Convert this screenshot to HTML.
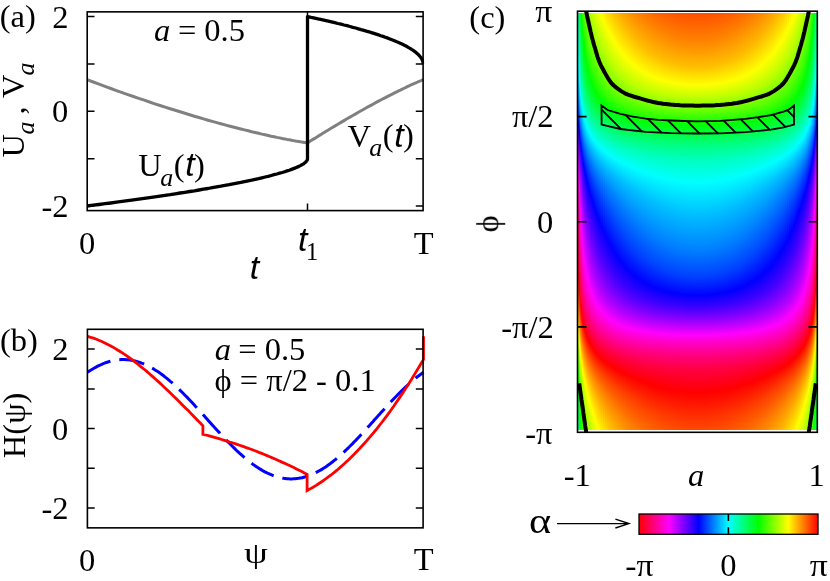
<!DOCTYPE html><html><head><meta charset="utf-8"><style>html,body{margin:0;padding:0;background:#fff}svg{font-family:"Liberation Serif",serif}</style></head><body><svg width="830" height="581" viewBox="0 0 830 581" style="display:block"><rect width="830" height="581" fill="#fff"/><defs><linearGradient id="g0" x1="0" y1="0" x2="0" y2="1"><stop offset="0.0000" stop-color="#00ff82"/><stop offset="0.0662" stop-color="#00ffbf"/><stop offset="0.1273" stop-color="#00ffff"/><stop offset="0.1750" stop-color="#00bfff"/><stop offset="0.2117" stop-color="#0080ff"/><stop offset="0.2418" stop-color="#0040ff"/><stop offset="0.2683" stop-color="#0000ff"/><stop offset="0.2938" stop-color="#4000ff"/><stop offset="0.3207" stop-color="#8000ff"/><stop offset="0.3514" stop-color="#bf00ff"/><stop offset="0.3895" stop-color="#ff00ff"/><stop offset="0.4390" stop-color="#ff00bf"/><stop offset="0.5018" stop-color="#ff0080"/><stop offset="0.5704" stop-color="#ff0040"/><stop offset="0.6315" stop-color="#ff0000"/><stop offset="0.6791" stop-color="#ff4000"/><stop offset="0.7159" stop-color="#ff8000"/><stop offset="0.7460" stop-color="#ffbf00"/><stop offset="0.7725" stop-color="#ffff00"/><stop offset="0.7980" stop-color="#bfff00"/><stop offset="0.8249" stop-color="#80ff00"/><stop offset="0.8556" stop-color="#40ff00"/><stop offset="0.8937" stop-color="#00ff00"/><stop offset="0.9432" stop-color="#00ff40"/><stop offset="1.0000" stop-color="#00ff7a"/></linearGradient><linearGradient id="g1" x1="0" y1="0" x2="0" y2="1"><stop offset="0.0000" stop-color="#00ff54"/><stop offset="0.0460" stop-color="#00ff80"/><stop offset="0.1095" stop-color="#00ffbf"/><stop offset="0.1612" stop-color="#00ffff"/><stop offset="0.2014" stop-color="#00bfff"/><stop offset="0.2337" stop-color="#0080ff"/><stop offset="0.2616" stop-color="#0040ff"/><stop offset="0.2878" stop-color="#0000ff"/><stop offset="0.3146" stop-color="#4000ff"/><stop offset="0.3443" stop-color="#8000ff"/><stop offset="0.3800" stop-color="#bf00ff"/><stop offset="0.4254" stop-color="#ff00ff"/><stop offset="0.4834" stop-color="#ff00bf"/><stop offset="0.5501" stop-color="#ff0080"/><stop offset="0.6137" stop-color="#ff0040"/><stop offset="0.6654" stop-color="#ff0000"/><stop offset="0.7056" stop-color="#ff4000"/><stop offset="0.7379" stop-color="#ff8000"/><stop offset="0.7658" stop-color="#ffbf00"/><stop offset="0.7920" stop-color="#ffff00"/><stop offset="0.8188" stop-color="#bfff00"/><stop offset="0.8485" stop-color="#80ff00"/><stop offset="0.8842" stop-color="#40ff00"/><stop offset="0.9296" stop-color="#00ff00"/><stop offset="0.9876" stop-color="#00ff40"/><stop offset="1.0000" stop-color="#00ff4c"/></linearGradient><linearGradient id="g2" x1="0" y1="0" x2="0" y2="1"><stop offset="0.0000" stop-color="#00ff1c"/><stop offset="0.0372" stop-color="#00ff40"/><stop offset="0.1007" stop-color="#00ff80"/><stop offset="0.1541" stop-color="#00ffbf"/><stop offset="0.1961" stop-color="#00ffff"/><stop offset="0.2300" stop-color="#00bfff"/><stop offset="0.2591" stop-color="#0080ff"/><stop offset="0.2861" stop-color="#0040ff"/><stop offset="0.3132" stop-color="#0000ff"/><stop offset="0.3429" stop-color="#4000ff"/><stop offset="0.3779" stop-color="#8000ff"/><stop offset="0.4216" stop-color="#bf00ff"/><stop offset="0.4769" stop-color="#ff00ff"/><stop offset="0.5414" stop-color="#ff00bf"/><stop offset="0.6049" stop-color="#ff0080"/><stop offset="0.6583" stop-color="#ff0040"/><stop offset="0.7003" stop-color="#ff0000"/><stop offset="0.7342" stop-color="#ff4000"/><stop offset="0.7633" stop-color="#ff8000"/><stop offset="0.7903" stop-color="#ffbf00"/><stop offset="0.8174" stop-color="#ffff00"/><stop offset="0.8471" stop-color="#bfff00"/><stop offset="0.8821" stop-color="#80ff00"/><stop offset="0.9258" stop-color="#40ff00"/><stop offset="0.9811" stop-color="#00ff00"/><stop offset="1.0000" stop-color="#00ff13"/></linearGradient><linearGradient id="g3" x1="0" y1="0" x2="0" y2="1"><stop offset="0.0000" stop-color="#0cff00"/><stop offset="0.0125" stop-color="#00ff00"/><stop offset="0.0769" stop-color="#00ff40"/><stop offset="0.1344" stop-color="#00ff80"/><stop offset="0.1807" stop-color="#00ffbf"/><stop offset="0.2177" stop-color="#00ffff"/><stop offset="0.2488" stop-color="#00bfff"/><stop offset="0.2767" stop-color="#0080ff"/><stop offset="0.3039" stop-color="#0040ff"/><stop offset="0.3327" stop-color="#0000ff"/><stop offset="0.3655" stop-color="#4000ff"/><stop offset="0.4055" stop-color="#8000ff"/><stop offset="0.4558" stop-color="#bf00ff"/><stop offset="0.5167" stop-color="#ff00ff"/><stop offset="0.5811" stop-color="#ff00bf"/><stop offset="0.6386" stop-color="#ff0080"/><stop offset="0.6849" stop-color="#ff0040"/><stop offset="0.7219" stop-color="#ff0000"/><stop offset="0.7529" stop-color="#ff4000"/><stop offset="0.7809" stop-color="#ff8000"/><stop offset="0.8081" stop-color="#ffbf00"/><stop offset="0.8369" stop-color="#ffff00"/><stop offset="0.8697" stop-color="#bfff00"/><stop offset="0.9097" stop-color="#80ff00"/><stop offset="0.9600" stop-color="#40ff00"/><stop offset="1.0000" stop-color="#15ff00"/></linearGradient><linearGradient id="g4" x1="0" y1="0" x2="0" y2="1"><stop offset="0.0000" stop-color="#2cff00"/><stop offset="0.0437" stop-color="#00ff00"/><stop offset="0.1055" stop-color="#00ff40"/><stop offset="0.1576" stop-color="#00ff80"/><stop offset="0.1992" stop-color="#00ffbf"/><stop offset="0.2332" stop-color="#00ffff"/><stop offset="0.2627" stop-color="#00bfff"/><stop offset="0.2903" stop-color="#0080ff"/><stop offset="0.3183" stop-color="#0040ff"/><stop offset="0.3488" stop-color="#0000ff"/><stop offset="0.3848" stop-color="#4000ff"/><stop offset="0.4293" stop-color="#8000ff"/><stop offset="0.4846" stop-color="#bf00ff"/><stop offset="0.5479" stop-color="#ff00ff"/><stop offset="0.6096" stop-color="#ff00bf"/><stop offset="0.6618" stop-color="#ff0080"/><stop offset="0.7034" stop-color="#ff0040"/><stop offset="0.7374" stop-color="#ff0000"/><stop offset="0.7669" stop-color="#ff4000"/><stop offset="0.7945" stop-color="#ff8000"/><stop offset="0.8225" stop-color="#ffbf00"/><stop offset="0.8530" stop-color="#ffff00"/><stop offset="0.8890" stop-color="#bfff00"/><stop offset="0.9335" stop-color="#80ff00"/><stop offset="0.9888" stop-color="#40ff00"/><stop offset="1.0000" stop-color="#34ff00"/></linearGradient><linearGradient id="g5" x1="0" y1="0" x2="0" y2="1"><stop offset="0.0000" stop-color="#45ff00"/><stop offset="0.0051" stop-color="#40ff00"/><stop offset="0.0687" stop-color="#00ff00"/><stop offset="0.1270" stop-color="#00ff40"/><stop offset="0.1748" stop-color="#00ff80"/><stop offset="0.2132" stop-color="#00ffbf"/><stop offset="0.2453" stop-color="#00ffff"/><stop offset="0.2739" stop-color="#00bfff"/><stop offset="0.3016" stop-color="#0080ff"/><stop offset="0.3304" stop-color="#0040ff"/><stop offset="0.3629" stop-color="#0000ff"/><stop offset="0.4018" stop-color="#4000ff"/><stop offset="0.4504" stop-color="#8000ff"/><stop offset="0.5093" stop-color="#bf00ff"/><stop offset="0.5729" stop-color="#ff00ff"/><stop offset="0.6312" stop-color="#ff00bf"/><stop offset="0.6790" stop-color="#ff0080"/><stop offset="0.7174" stop-color="#ff0040"/><stop offset="0.7495" stop-color="#ff0000"/><stop offset="0.7781" stop-color="#ff4000"/><stop offset="0.8058" stop-color="#ff8000"/><stop offset="0.8346" stop-color="#ffbf00"/><stop offset="0.8671" stop-color="#ffff00"/><stop offset="0.9060" stop-color="#bfff00"/><stop offset="0.9546" stop-color="#80ff00"/><stop offset="1.0000" stop-color="#4eff00"/></linearGradient><linearGradient id="g6" x1="0" y1="0" x2="0" y2="1"><stop offset="0.0000" stop-color="#5aff00"/><stop offset="0.0264" stop-color="#40ff00"/><stop offset="0.0890" stop-color="#00ff00"/><stop offset="0.1439" stop-color="#00ff40"/><stop offset="0.1883" stop-color="#00ff80"/><stop offset="0.2243" stop-color="#00ffbf"/><stop offset="0.2551" stop-color="#00ffff"/><stop offset="0.2833" stop-color="#00bfff"/><stop offset="0.3112" stop-color="#0080ff"/><stop offset="0.3411" stop-color="#0040ff"/><stop offset="0.3754" stop-color="#0000ff"/><stop offset="0.4173" stop-color="#4000ff"/><stop offset="0.4694" stop-color="#8000ff"/><stop offset="0.5306" stop-color="#bf00ff"/><stop offset="0.5932" stop-color="#ff00ff"/><stop offset="0.6481" stop-color="#ff00bf"/><stop offset="0.6925" stop-color="#ff0080"/><stop offset="0.7285" stop-color="#ff0040"/><stop offset="0.7593" stop-color="#ff0000"/><stop offset="0.7875" stop-color="#ff4000"/><stop offset="0.8154" stop-color="#ff8000"/><stop offset="0.8453" stop-color="#ffbf00"/><stop offset="0.8796" stop-color="#ffff00"/><stop offset="0.9215" stop-color="#bfff00"/><stop offset="0.9736" stop-color="#80ff00"/><stop offset="1.0000" stop-color="#63ff00"/></linearGradient><linearGradient id="g7" x1="0" y1="0" x2="0" y2="1"><stop offset="0.0000" stop-color="#6dff00"/><stop offset="0.0449" stop-color="#40ff00"/><stop offset="0.1058" stop-color="#00ff00"/><stop offset="0.1576" stop-color="#00ff40"/><stop offset="0.1992" stop-color="#00ff80"/><stop offset="0.2335" stop-color="#00ffbf"/><stop offset="0.2634" stop-color="#00ffff"/><stop offset="0.2913" stop-color="#00bfff"/><stop offset="0.3197" stop-color="#0080ff"/><stop offset="0.3506" stop-color="#0040ff"/><stop offset="0.3869" stop-color="#0000ff"/><stop offset="0.4316" stop-color="#4000ff"/><stop offset="0.4866" stop-color="#8000ff"/><stop offset="0.5491" stop-color="#bf00ff"/><stop offset="0.6100" stop-color="#ff00ff"/><stop offset="0.6618" stop-color="#ff00bf"/><stop offset="0.7034" stop-color="#ff0080"/><stop offset="0.7377" stop-color="#ff0040"/><stop offset="0.7676" stop-color="#ff0000"/><stop offset="0.7955" stop-color="#ff4000"/><stop offset="0.8239" stop-color="#ff8000"/><stop offset="0.8548" stop-color="#ffbf00"/><stop offset="0.8911" stop-color="#ffff00"/><stop offset="0.9358" stop-color="#bfff00"/><stop offset="0.9908" stop-color="#80ff00"/><stop offset="1.0000" stop-color="#76ff00"/></linearGradient><linearGradient id="g8" x1="0" y1="0" x2="0" y2="1"><stop offset="0.0000" stop-color="#7eff00"/><stop offset="0.0611" stop-color="#40ff00"/><stop offset="0.1200" stop-color="#00ff00"/><stop offset="0.1690" stop-color="#00ff40"/><stop offset="0.2084" stop-color="#00ff80"/><stop offset="0.2413" stop-color="#00ffbf"/><stop offset="0.2705" stop-color="#00ffff"/><stop offset="0.2984" stop-color="#00bfff"/><stop offset="0.3272" stop-color="#0080ff"/><stop offset="0.3593" stop-color="#0040ff"/><stop offset="0.3975" stop-color="#0000ff"/><stop offset="0.4448" stop-color="#4000ff"/><stop offset="0.5023" stop-color="#8000ff"/><stop offset="0.5653" stop-color="#bf00ff"/><stop offset="0.6242" stop-color="#ff00ff"/><stop offset="0.6732" stop-color="#ff00bf"/><stop offset="0.7126" stop-color="#ff0080"/><stop offset="0.7455" stop-color="#ff0040"/><stop offset="0.7747" stop-color="#ff0000"/><stop offset="0.8026" stop-color="#ff4000"/><stop offset="0.8314" stop-color="#ff8000"/><stop offset="0.8635" stop-color="#ffbf00"/><stop offset="0.9017" stop-color="#ffff00"/><stop offset="0.9490" stop-color="#bfff00"/><stop offset="1.0000" stop-color="#86ff00"/></linearGradient><linearGradient id="g9" x1="0" y1="0" x2="0" y2="1"><stop offset="0.0000" stop-color="#8cff00"/><stop offset="0.0125" stop-color="#80ff00"/><stop offset="0.0753" stop-color="#40ff00"/><stop offset="0.1321" stop-color="#00ff00"/><stop offset="0.1786" stop-color="#00ff40"/><stop offset="0.2163" stop-color="#00ff80"/><stop offset="0.2481" stop-color="#00ffbf"/><stop offset="0.2768" stop-color="#00ffff"/><stop offset="0.3047" stop-color="#00bfff"/><stop offset="0.3341" stop-color="#0080ff"/><stop offset="0.3674" stop-color="#0040ff"/><stop offset="0.4075" stop-color="#0000ff"/><stop offset="0.4572" stop-color="#4000ff"/><stop offset="0.5166" stop-color="#8000ff"/><stop offset="0.5795" stop-color="#bf00ff"/><stop offset="0.6363" stop-color="#ff00ff"/><stop offset="0.6828" stop-color="#ff00bf"/><stop offset="0.7205" stop-color="#ff0080"/><stop offset="0.7523" stop-color="#ff0040"/><stop offset="0.7810" stop-color="#ff0000"/><stop offset="0.8089" stop-color="#ff4000"/><stop offset="0.8383" stop-color="#ff8000"/><stop offset="0.8716" stop-color="#ffbf00"/><stop offset="0.9117" stop-color="#ffff00"/><stop offset="0.9614" stop-color="#bfff00"/><stop offset="1.0000" stop-color="#95ff00"/></linearGradient><linearGradient id="g10" x1="0" y1="0" x2="0" y2="1"><stop offset="0.0000" stop-color="#9aff00"/><stop offset="0.0256" stop-color="#80ff00"/><stop offset="0.0879" stop-color="#40ff00"/><stop offset="0.1426" stop-color="#00ff00"/><stop offset="0.1870" stop-color="#00ff40"/><stop offset="0.2231" stop-color="#00ff80"/><stop offset="0.2540" stop-color="#00ffbf"/><stop offset="0.2823" stop-color="#00ffff"/><stop offset="0.3104" stop-color="#00bfff"/><stop offset="0.3404" stop-color="#0080ff"/><stop offset="0.3749" stop-color="#0040ff"/><stop offset="0.4169" stop-color="#0000ff"/><stop offset="0.4689" stop-color="#4000ff"/><stop offset="0.5298" stop-color="#8000ff"/><stop offset="0.5921" stop-color="#bf00ff"/><stop offset="0.6468" stop-color="#ff00ff"/><stop offset="0.6912" stop-color="#ff00bf"/><stop offset="0.7273" stop-color="#ff0080"/><stop offset="0.7582" stop-color="#ff0040"/><stop offset="0.7865" stop-color="#ff0000"/><stop offset="0.8146" stop-color="#ff4000"/><stop offset="0.8446" stop-color="#ff8000"/><stop offset="0.8791" stop-color="#ffbf00"/><stop offset="0.9211" stop-color="#ffff00"/><stop offset="0.9731" stop-color="#bfff00"/><stop offset="1.0000" stop-color="#a2ff00"/></linearGradient><linearGradient id="g11" x1="0" y1="0" x2="0" y2="1"><stop offset="0.0000" stop-color="#a6ff00"/><stop offset="0.0377" stop-color="#80ff00"/><stop offset="0.0991" stop-color="#40ff00"/><stop offset="0.1517" stop-color="#00ff00"/><stop offset="0.1942" stop-color="#00ff40"/><stop offset="0.2291" stop-color="#00ff80"/><stop offset="0.2593" stop-color="#00ffbf"/><stop offset="0.2874" stop-color="#00ffff"/><stop offset="0.3156" stop-color="#00bfff"/><stop offset="0.3463" stop-color="#0080ff"/><stop offset="0.3820" stop-color="#0040ff"/><stop offset="0.4258" stop-color="#0000ff"/><stop offset="0.4799" stop-color="#4000ff"/><stop offset="0.5419" stop-color="#8000ff"/><stop offset="0.6033" stop-color="#bf00ff"/><stop offset="0.6559" stop-color="#ff00ff"/><stop offset="0.6984" stop-color="#ff00bf"/><stop offset="0.7333" stop-color="#ff0080"/><stop offset="0.7635" stop-color="#ff0040"/><stop offset="0.7916" stop-color="#ff0000"/><stop offset="0.8198" stop-color="#ff4000"/><stop offset="0.8505" stop-color="#ff8000"/><stop offset="0.8862" stop-color="#ffbf00"/><stop offset="0.9300" stop-color="#ffff00"/><stop offset="0.9841" stop-color="#bfff00"/><stop offset="1.0000" stop-color="#aeff00"/></linearGradient><linearGradient id="g12" x1="0" y1="0" x2="0" y2="1"><stop offset="0.0000" stop-color="#b1ff00"/><stop offset="0.0489" stop-color="#80ff00"/><stop offset="0.1091" stop-color="#40ff00"/><stop offset="0.1598" stop-color="#00ff00"/><stop offset="0.2007" stop-color="#00ff40"/><stop offset="0.2344" stop-color="#00ff80"/><stop offset="0.2640" stop-color="#00ffbf"/><stop offset="0.2919" stop-color="#00ffff"/><stop offset="0.3204" stop-color="#00bfff"/><stop offset="0.3518" stop-color="#0080ff"/><stop offset="0.3887" stop-color="#0040ff"/><stop offset="0.4343" stop-color="#0000ff"/><stop offset="0.4903" stop-color="#4000ff"/><stop offset="0.5531" stop-color="#8000ff"/><stop offset="0.6133" stop-color="#bf00ff"/><stop offset="0.6640" stop-color="#ff00ff"/><stop offset="0.7049" stop-color="#ff00bf"/><stop offset="0.7386" stop-color="#ff0080"/><stop offset="0.7682" stop-color="#ff0040"/><stop offset="0.7961" stop-color="#ff0000"/><stop offset="0.8246" stop-color="#ff4000"/><stop offset="0.8560" stop-color="#ff8000"/><stop offset="0.8929" stop-color="#ffbf00"/><stop offset="0.9385" stop-color="#ffff00"/><stop offset="0.9945" stop-color="#bfff00"/><stop offset="1.0000" stop-color="#b9ff00"/></linearGradient><linearGradient id="g13" x1="0" y1="0" x2="0" y2="1"><stop offset="0.0000" stop-color="#bbff00"/><stop offset="0.0591" stop-color="#80ff00"/><stop offset="0.1181" stop-color="#40ff00"/><stop offset="0.1670" stop-color="#00ff00"/><stop offset="0.2064" stop-color="#00ff40"/><stop offset="0.2392" stop-color="#00ff80"/><stop offset="0.2683" stop-color="#00ffbf"/><stop offset="0.2961" stop-color="#00ffff"/><stop offset="0.3249" stop-color="#00bfff"/><stop offset="0.3570" stop-color="#0080ff"/><stop offset="0.3952" stop-color="#0040ff"/><stop offset="0.4425" stop-color="#0000ff"/><stop offset="0.5002" stop-color="#4000ff"/><stop offset="0.5633" stop-color="#8000ff"/><stop offset="0.6223" stop-color="#bf00ff"/><stop offset="0.6712" stop-color="#ff00ff"/><stop offset="0.7106" stop-color="#ff00bf"/><stop offset="0.7434" stop-color="#ff0080"/><stop offset="0.7725" stop-color="#ff0040"/><stop offset="0.8003" stop-color="#ff0000"/><stop offset="0.8291" stop-color="#ff4000"/><stop offset="0.8612" stop-color="#ff8000"/><stop offset="0.8994" stop-color="#ffbf00"/><stop offset="0.9467" stop-color="#ffff00"/><stop offset="1.0000" stop-color="#c4ff00"/></linearGradient><linearGradient id="g14" x1="0" y1="0" x2="0" y2="1"><stop offset="0.0000" stop-color="#c5ff00"/><stop offset="0.0054" stop-color="#bfff00"/><stop offset="0.0687" stop-color="#80ff00"/><stop offset="0.1263" stop-color="#40ff00"/><stop offset="0.1735" stop-color="#00ff00"/><stop offset="0.2115" stop-color="#00ff40"/><stop offset="0.2435" stop-color="#00ff80"/><stop offset="0.2722" stop-color="#00ffbf"/><stop offset="0.3000" stop-color="#00ffff"/><stop offset="0.3291" stop-color="#00bfff"/><stop offset="0.3619" stop-color="#0080ff"/><stop offset="0.4013" stop-color="#0040ff"/><stop offset="0.4504" stop-color="#0000ff"/><stop offset="0.5096" stop-color="#4000ff"/><stop offset="0.5728" stop-color="#8000ff"/><stop offset="0.6305" stop-color="#bf00ff"/><stop offset="0.6777" stop-color="#ff00ff"/><stop offset="0.7157" stop-color="#ff00bf"/><stop offset="0.7477" stop-color="#ff0080"/><stop offset="0.7764" stop-color="#ff0040"/><stop offset="0.8042" stop-color="#ff0000"/><stop offset="0.8333" stop-color="#ff4000"/><stop offset="0.8661" stop-color="#ff8000"/><stop offset="0.9055" stop-color="#ffbf00"/><stop offset="0.9546" stop-color="#ffff00"/><stop offset="1.0000" stop-color="#cdff00"/></linearGradient><linearGradient id="g15" x1="0" y1="0" x2="0" y2="1"><stop offset="0.0000" stop-color="#ceff00"/><stop offset="0.0143" stop-color="#bfff00"/><stop offset="0.0774" stop-color="#80ff00"/><stop offset="0.1337" stop-color="#40ff00"/><stop offset="0.1793" stop-color="#00ff00"/><stop offset="0.2162" stop-color="#00ff40"/><stop offset="0.2474" stop-color="#00ff80"/><stop offset="0.2758" stop-color="#00ffbf"/><stop offset="0.3035" stop-color="#00ffff"/><stop offset="0.3330" stop-color="#00bfff"/><stop offset="0.3665" stop-color="#0080ff"/><stop offset="0.4073" stop-color="#0040ff"/><stop offset="0.4580" stop-color="#0000ff"/><stop offset="0.5185" stop-color="#4000ff"/><stop offset="0.5816" stop-color="#8000ff"/><stop offset="0.6379" stop-color="#bf00ff"/><stop offset="0.6835" stop-color="#ff00ff"/><stop offset="0.7204" stop-color="#ff00bf"/><stop offset="0.7516" stop-color="#ff0080"/><stop offset="0.7800" stop-color="#ff0040"/><stop offset="0.8077" stop-color="#ff0000"/><stop offset="0.8372" stop-color="#ff4000"/><stop offset="0.8707" stop-color="#ff8000"/><stop offset="0.9115" stop-color="#ffbf00"/><stop offset="0.9622" stop-color="#ffff00"/><stop offset="1.0000" stop-color="#d6ff00"/></linearGradient><linearGradient id="g16" x1="0" y1="0" x2="0" y2="1"><stop offset="0.0000" stop-color="#d6ff00"/><stop offset="0.0228" stop-color="#bfff00"/><stop offset="0.0856" stop-color="#80ff00"/><stop offset="0.1404" stop-color="#40ff00"/><stop offset="0.1846" stop-color="#00ff00"/><stop offset="0.2204" stop-color="#00ff40"/><stop offset="0.2510" stop-color="#00ff80"/><stop offset="0.2791" stop-color="#00ffbf"/><stop offset="0.3069" stop-color="#00ffff"/><stop offset="0.3367" stop-color="#00bfff"/><stop offset="0.3710" stop-color="#0080ff"/><stop offset="0.4130" stop-color="#0040ff"/><stop offset="0.4654" stop-color="#0000ff"/><stop offset="0.5270" stop-color="#4000ff"/><stop offset="0.5898" stop-color="#8000ff"/><stop offset="0.6446" stop-color="#bf00ff"/><stop offset="0.6888" stop-color="#ff00ff"/><stop offset="0.7246" stop-color="#ff00bf"/><stop offset="0.7552" stop-color="#ff0080"/><stop offset="0.7833" stop-color="#ff0040"/><stop offset="0.8111" stop-color="#ff0000"/><stop offset="0.8409" stop-color="#ff4000"/><stop offset="0.8752" stop-color="#ff8000"/><stop offset="0.9172" stop-color="#ffbf00"/><stop offset="0.9696" stop-color="#ffff00"/><stop offset="1.0000" stop-color="#dfff00"/></linearGradient><linearGradient id="g17" x1="0" y1="0" x2="0" y2="1"><stop offset="0.0000" stop-color="#deff00"/><stop offset="0.0309" stop-color="#bfff00"/><stop offset="0.0932" stop-color="#80ff00"/><stop offset="0.1466" stop-color="#40ff00"/><stop offset="0.1894" stop-color="#00ff00"/><stop offset="0.2243" stop-color="#00ff40"/><stop offset="0.2543" stop-color="#00ff80"/><stop offset="0.2821" stop-color="#00ffbf"/><stop offset="0.3100" stop-color="#00ffff"/><stop offset="0.3402" stop-color="#00bfff"/><stop offset="0.3753" stop-color="#0080ff"/><stop offset="0.4186" stop-color="#0040ff"/><stop offset="0.4726" stop-color="#0000ff"/><stop offset="0.5351" stop-color="#4000ff"/><stop offset="0.5974" stop-color="#8000ff"/><stop offset="0.6508" stop-color="#bf00ff"/><stop offset="0.6936" stop-color="#ff00ff"/><stop offset="0.7285" stop-color="#ff00bf"/><stop offset="0.7585" stop-color="#ff0080"/><stop offset="0.7863" stop-color="#ff0040"/><stop offset="0.8142" stop-color="#ff0000"/><stop offset="0.8444" stop-color="#ff4000"/><stop offset="0.8795" stop-color="#ff8000"/><stop offset="0.9228" stop-color="#ffbf00"/><stop offset="0.9768" stop-color="#ffff00"/><stop offset="1.0000" stop-color="#e7ff00"/></linearGradient><linearGradient id="g18" x1="0" y1="0" x2="0" y2="1"><stop offset="0.0000" stop-color="#e6ff00"/><stop offset="0.0386" stop-color="#bfff00"/><stop offset="0.1002" stop-color="#80ff00"/><stop offset="0.1523" stop-color="#40ff00"/><stop offset="0.1939" stop-color="#00ff00"/><stop offset="0.2278" stop-color="#00ff40"/><stop offset="0.2574" stop-color="#00ff80"/><stop offset="0.2850" stop-color="#00ffbf"/><stop offset="0.3129" stop-color="#00ffff"/><stop offset="0.3435" stop-color="#00bfff"/><stop offset="0.3795" stop-color="#0080ff"/><stop offset="0.4241" stop-color="#0040ff"/><stop offset="0.4795" stop-color="#0000ff"/><stop offset="0.5428" stop-color="#4000ff"/><stop offset="0.6044" stop-color="#8000ff"/><stop offset="0.6565" stop-color="#bf00ff"/><stop offset="0.6980" stop-color="#ff00ff"/><stop offset="0.7320" stop-color="#ff00bf"/><stop offset="0.7615" stop-color="#ff0080"/><stop offset="0.7892" stop-color="#ff0040"/><stop offset="0.8171" stop-color="#ff0000"/><stop offset="0.8477" stop-color="#ff4000"/><stop offset="0.8837" stop-color="#ff8000"/><stop offset="0.9283" stop-color="#ffbf00"/><stop offset="0.9837" stop-color="#ffff00"/><stop offset="1.0000" stop-color="#eeff00"/></linearGradient><linearGradient id="g19" x1="0" y1="0" x2="0" y2="1"><stop offset="0.0000" stop-color="#edff00"/><stop offset="0.0459" stop-color="#bfff00"/><stop offset="0.1068" stop-color="#80ff00"/><stop offset="0.1575" stop-color="#40ff00"/><stop offset="0.1979" stop-color="#00ff00"/><stop offset="0.2311" stop-color="#00ff40"/><stop offset="0.2602" stop-color="#00ff80"/><stop offset="0.2876" stop-color="#00ffbf"/><stop offset="0.3157" stop-color="#00ffff"/><stop offset="0.3467" stop-color="#00bfff"/><stop offset="0.3835" stop-color="#0080ff"/><stop offset="0.4294" stop-color="#0040ff"/><stop offset="0.4862" stop-color="#0000ff"/><stop offset="0.5501" stop-color="#4000ff"/><stop offset="0.6110" stop-color="#8000ff"/><stop offset="0.6617" stop-color="#bf00ff"/><stop offset="0.7021" stop-color="#ff00ff"/><stop offset="0.7353" stop-color="#ff00bf"/><stop offset="0.7644" stop-color="#ff0080"/><stop offset="0.7918" stop-color="#ff0040"/><stop offset="0.8199" stop-color="#ff0000"/><stop offset="0.8509" stop-color="#ff4000"/><stop offset="0.8877" stop-color="#ff8000"/><stop offset="0.9336" stop-color="#ffbf00"/><stop offset="0.9904" stop-color="#ffff00"/><stop offset="1.0000" stop-color="#f5ff00"/></linearGradient><linearGradient id="g20" x1="0" y1="0" x2="0" y2="1"><stop offset="0.0000" stop-color="#f3ff00"/><stop offset="0.0528" stop-color="#bfff00"/><stop offset="0.1129" stop-color="#80ff00"/><stop offset="0.1623" stop-color="#40ff00"/><stop offset="0.2017" stop-color="#00ff00"/><stop offset="0.2341" stop-color="#00ff40"/><stop offset="0.2628" stop-color="#00ff80"/><stop offset="0.2901" stop-color="#00ffbf"/><stop offset="0.3183" stop-color="#00ffff"/><stop offset="0.3498" stop-color="#00bfff"/><stop offset="0.3874" stop-color="#0080ff"/><stop offset="0.4346" stop-color="#0040ff"/><stop offset="0.4927" stop-color="#0000ff"/><stop offset="0.5570" stop-color="#4000ff"/><stop offset="0.6171" stop-color="#8000ff"/><stop offset="0.6665" stop-color="#bf00ff"/><stop offset="0.7059" stop-color="#ff00ff"/><stop offset="0.7383" stop-color="#ff00bf"/><stop offset="0.7670" stop-color="#ff0080"/><stop offset="0.7943" stop-color="#ff0040"/><stop offset="0.8225" stop-color="#ff0000"/><stop offset="0.8540" stop-color="#ff4000"/><stop offset="0.8916" stop-color="#ff8000"/><stop offset="0.9388" stop-color="#ffbf00"/><stop offset="0.9969" stop-color="#ffff00"/><stop offset="1.0000" stop-color="#fcff00"/></linearGradient><linearGradient id="g21" x1="0" y1="0" x2="0" y2="1"><stop offset="0.0000" stop-color="#faff00"/><stop offset="0.0594" stop-color="#bfff00"/><stop offset="0.1186" stop-color="#80ff00"/><stop offset="0.1668" stop-color="#40ff00"/><stop offset="0.2051" stop-color="#00ff00"/><stop offset="0.2369" stop-color="#00ff40"/><stop offset="0.2652" stop-color="#00ff80"/><stop offset="0.2924" stop-color="#00ffbf"/><stop offset="0.3208" stop-color="#00ffff"/><stop offset="0.3527" stop-color="#00bfff"/><stop offset="0.3912" stop-color="#0080ff"/><stop offset="0.4396" stop-color="#0040ff"/><stop offset="0.4990" stop-color="#0000ff"/><stop offset="0.5636" stop-color="#4000ff"/><stop offset="0.6228" stop-color="#8000ff"/><stop offset="0.6710" stop-color="#bf00ff"/><stop offset="0.7093" stop-color="#ff00ff"/><stop offset="0.7411" stop-color="#ff00bf"/><stop offset="0.7694" stop-color="#ff0080"/><stop offset="0.7966" stop-color="#ff0040"/><stop offset="0.8250" stop-color="#ff0000"/><stop offset="0.8569" stop-color="#ff4000"/><stop offset="0.8954" stop-color="#ff8000"/><stop offset="0.9438" stop-color="#ffbf00"/><stop offset="1.0000" stop-color="#fffc00"/></linearGradient><linearGradient id="g22" x1="0" y1="0" x2="0" y2="1"><stop offset="0.0000" stop-color="#fffe00"/><stop offset="0.0010" stop-color="#ffff00"/><stop offset="0.0657" stop-color="#bfff00"/><stop offset="0.1240" stop-color="#80ff00"/><stop offset="0.1710" stop-color="#40ff00"/><stop offset="0.2084" stop-color="#00ff00"/><stop offset="0.2396" stop-color="#00ff40"/><stop offset="0.2675" stop-color="#00ff80"/><stop offset="0.2946" stop-color="#00ffbf"/><stop offset="0.3231" stop-color="#00ffff"/><stop offset="0.3555" stop-color="#00bfff"/><stop offset="0.3949" stop-color="#0080ff"/><stop offset="0.4446" stop-color="#0040ff"/><stop offset="0.5052" stop-color="#0000ff"/><stop offset="0.5699" stop-color="#4000ff"/><stop offset="0.6282" stop-color="#8000ff"/><stop offset="0.6751" stop-color="#bf00ff"/><stop offset="0.7125" stop-color="#ff00ff"/><stop offset="0.7438" stop-color="#ff00bf"/><stop offset="0.7717" stop-color="#ff0080"/><stop offset="0.7988" stop-color="#ff0040"/><stop offset="0.8273" stop-color="#ff0000"/><stop offset="0.8597" stop-color="#ff4000"/><stop offset="0.8991" stop-color="#ff8000"/><stop offset="0.9488" stop-color="#ffbf00"/><stop offset="1.0000" stop-color="#fff600"/></linearGradient><linearGradient id="g23" x1="0" y1="0" x2="0" y2="1"><stop offset="0.0000" stop-color="#fff500"/><stop offset="0.0099" stop-color="#ffff00"/><stop offset="0.0746" stop-color="#bfff00"/><stop offset="0.1314" stop-color="#80ff00"/><stop offset="0.1767" stop-color="#40ff00"/><stop offset="0.2128" stop-color="#00ff00"/><stop offset="0.2431" stop-color="#00ff40"/><stop offset="0.2707" stop-color="#00ff80"/><stop offset="0.2977" stop-color="#00ffbf"/><stop offset="0.3265" stop-color="#00ffff"/><stop offset="0.3596" stop-color="#00bfff"/><stop offset="0.4004" stop-color="#0080ff"/><stop offset="0.4519" stop-color="#0040ff"/><stop offset="0.5141" stop-color="#0000ff"/><stop offset="0.5788" stop-color="#4000ff"/><stop offset="0.6356" stop-color="#8000ff"/><stop offset="0.6809" stop-color="#bf00ff"/><stop offset="0.7170" stop-color="#ff00ff"/><stop offset="0.7473" stop-color="#ff00bf"/><stop offset="0.7749" stop-color="#ff0080"/><stop offset="0.8019" stop-color="#ff0040"/><stop offset="0.8307" stop-color="#ff0000"/><stop offset="0.8638" stop-color="#ff4000"/><stop offset="0.9045" stop-color="#ff8000"/><stop offset="0.9561" stop-color="#ffbf00"/><stop offset="1.0000" stop-color="#ffed00"/></linearGradient><linearGradient id="g24" x1="0" y1="0" x2="0" y2="1"><stop offset="0.0000" stop-color="#ffeb00"/><stop offset="0.0211" stop-color="#ffff00"/><stop offset="0.0855" stop-color="#bfff00"/><stop offset="0.1402" stop-color="#80ff00"/><stop offset="0.1834" stop-color="#40ff00"/><stop offset="0.2180" stop-color="#00ff00"/><stop offset="0.2474" stop-color="#00ff40"/><stop offset="0.2745" stop-color="#00ff80"/><stop offset="0.3014" stop-color="#00ffbf"/><stop offset="0.3306" stop-color="#00ffff"/><stop offset="0.3648" stop-color="#00bfff"/><stop offset="0.4073" stop-color="#0080ff"/><stop offset="0.4613" stop-color="#0040ff"/><stop offset="0.5253" stop-color="#0000ff"/><stop offset="0.5897" stop-color="#4000ff"/><stop offset="0.6444" stop-color="#8000ff"/><stop offset="0.6876" stop-color="#bf00ff"/><stop offset="0.7222" stop-color="#ff00ff"/><stop offset="0.7516" stop-color="#ff00bf"/><stop offset="0.7787" stop-color="#ff0080"/><stop offset="0.8056" stop-color="#ff0040"/><stop offset="0.8348" stop-color="#ff0000"/><stop offset="0.8690" stop-color="#ff4000"/><stop offset="0.9115" stop-color="#ff8000"/><stop offset="0.9655" stop-color="#ffbf00"/><stop offset="1.0000" stop-color="#ffe200"/></linearGradient><linearGradient id="g25" x1="0" y1="0" x2="0" y2="1"><stop offset="0.0000" stop-color="#ffe100"/><stop offset="0.0317" stop-color="#ffff00"/><stop offset="0.0954" stop-color="#bfff00"/><stop offset="0.1481" stop-color="#80ff00"/><stop offset="0.1894" stop-color="#40ff00"/><stop offset="0.2226" stop-color="#00ff00"/><stop offset="0.2512" stop-color="#00ff40"/><stop offset="0.2778" stop-color="#00ff80"/><stop offset="0.3048" stop-color="#00ffbf"/><stop offset="0.3345" stop-color="#00ffff"/><stop offset="0.3697" stop-color="#00bfff"/><stop offset="0.4141" stop-color="#0080ff"/><stop offset="0.4704" stop-color="#0040ff"/><stop offset="0.5359" stop-color="#0000ff"/><stop offset="0.5995" stop-color="#4000ff"/><stop offset="0.6523" stop-color="#8000ff"/><stop offset="0.6936" stop-color="#bf00ff"/><stop offset="0.7268" stop-color="#ff00ff"/><stop offset="0.7554" stop-color="#ff00bf"/><stop offset="0.7820" stop-color="#ff0080"/><stop offset="0.8090" stop-color="#ff0040"/><stop offset="0.8387" stop-color="#ff0000"/><stop offset="0.8739" stop-color="#ff4000"/><stop offset="0.9183" stop-color="#ff8000"/><stop offset="0.9746" stop-color="#ffbf00"/><stop offset="1.0000" stop-color="#ffd900"/></linearGradient><linearGradient id="g26" x1="0" y1="0" x2="0" y2="1"><stop offset="0.0000" stop-color="#ffd700"/><stop offset="0.0417" stop-color="#ffff00"/><stop offset="0.1043" stop-color="#bfff00"/><stop offset="0.1551" stop-color="#80ff00"/><stop offset="0.1946" stop-color="#40ff00"/><stop offset="0.2267" stop-color="#00ff00"/><stop offset="0.2546" stop-color="#00ff40"/><stop offset="0.2809" stop-color="#00ff80"/><stop offset="0.3079" stop-color="#00ffbf"/><stop offset="0.3380" stop-color="#00ffff"/><stop offset="0.3744" stop-color="#00bfff"/><stop offset="0.4206" stop-color="#0080ff"/><stop offset="0.4793" stop-color="#0040ff"/><stop offset="0.5459" stop-color="#0000ff"/><stop offset="0.6085" stop-color="#4000ff"/><stop offset="0.6593" stop-color="#8000ff"/><stop offset="0.6988" stop-color="#bf00ff"/><stop offset="0.7309" stop-color="#ff00ff"/><stop offset="0.7588" stop-color="#ff00bf"/><stop offset="0.7851" stop-color="#ff0080"/><stop offset="0.8121" stop-color="#ff0040"/><stop offset="0.8422" stop-color="#ff0000"/><stop offset="0.8786" stop-color="#ff4000"/><stop offset="0.9248" stop-color="#ff8000"/><stop offset="0.9834" stop-color="#ffbf00"/><stop offset="1.0000" stop-color="#ffcf00"/></linearGradient><linearGradient id="g27" x1="0" y1="0" x2="0" y2="1"><stop offset="0.0000" stop-color="#ffcf00"/><stop offset="0.0510" stop-color="#ffff00"/><stop offset="0.1125" stop-color="#bfff00"/><stop offset="0.1613" stop-color="#80ff00"/><stop offset="0.1993" stop-color="#40ff00"/><stop offset="0.2303" stop-color="#00ff00"/><stop offset="0.2576" stop-color="#00ff40"/><stop offset="0.2836" stop-color="#00ff80"/><stop offset="0.3107" stop-color="#00ffbf"/><stop offset="0.3414" stop-color="#00ffff"/><stop offset="0.3788" stop-color="#00bfff"/><stop offset="0.4270" stop-color="#0080ff"/><stop offset="0.4878" stop-color="#0040ff"/><stop offset="0.5552" stop-color="#0000ff"/><stop offset="0.6166" stop-color="#4000ff"/><stop offset="0.6655" stop-color="#8000ff"/><stop offset="0.7035" stop-color="#bf00ff"/><stop offset="0.7345" stop-color="#ff00ff"/><stop offset="0.7618" stop-color="#ff00bf"/><stop offset="0.7878" stop-color="#ff0080"/><stop offset="0.8149" stop-color="#ff0040"/><stop offset="0.8456" stop-color="#ff0000"/><stop offset="0.8830" stop-color="#ff4000"/><stop offset="0.9312" stop-color="#ff8000"/><stop offset="0.9920" stop-color="#ffbf00"/><stop offset="1.0000" stop-color="#ffc700"/></linearGradient><linearGradient id="g28" x1="0" y1="0" x2="0" y2="1"><stop offset="0.0000" stop-color="#ffc700"/><stop offset="0.0598" stop-color="#ffff00"/><stop offset="0.1199" stop-color="#bfff00"/><stop offset="0.1670" stop-color="#80ff00"/><stop offset="0.2035" stop-color="#40ff00"/><stop offset="0.2336" stop-color="#00ff00"/><stop offset="0.2603" stop-color="#00ff40"/><stop offset="0.2861" stop-color="#00ff80"/><stop offset="0.3133" stop-color="#00ffbf"/><stop offset="0.3445" stop-color="#00ffff"/><stop offset="0.3832" stop-color="#00bfff"/><stop offset="0.4332" stop-color="#0080ff"/><stop offset="0.4960" stop-color="#0040ff"/><stop offset="0.5640" stop-color="#0000ff"/><stop offset="0.6241" stop-color="#4000ff"/><stop offset="0.6712" stop-color="#8000ff"/><stop offset="0.7077" stop-color="#bf00ff"/><stop offset="0.7378" stop-color="#ff00ff"/><stop offset="0.7645" stop-color="#ff00bf"/><stop offset="0.7903" stop-color="#ff0080"/><stop offset="0.8175" stop-color="#ff0040"/><stop offset="0.8487" stop-color="#ff0000"/><stop offset="0.8874" stop-color="#ff4000"/><stop offset="0.9374" stop-color="#ff8000"/><stop offset="1.0000" stop-color="#ffbf00"/></linearGradient><linearGradient id="g29" x1="0" y1="0" x2="0" y2="1"><stop offset="0.0000" stop-color="#ffbf00"/><stop offset="0.0680" stop-color="#ffff00"/><stop offset="0.1266" stop-color="#bfff00"/><stop offset="0.1720" stop-color="#80ff00"/><stop offset="0.2073" stop-color="#40ff00"/><stop offset="0.2365" stop-color="#00ff00"/><stop offset="0.2627" stop-color="#00ff40"/><stop offset="0.2883" stop-color="#00ff80"/><stop offset="0.3157" stop-color="#00ffbf"/><stop offset="0.3475" stop-color="#00ffff"/><stop offset="0.3874" stop-color="#00bfff"/><stop offset="0.4393" stop-color="#0080ff"/><stop offset="0.5040" stop-color="#0040ff"/><stop offset="0.5722" stop-color="#0000ff"/><stop offset="0.6308" stop-color="#4000ff"/><stop offset="0.6762" stop-color="#8000ff"/><stop offset="0.7115" stop-color="#bf00ff"/><stop offset="0.7407" stop-color="#ff00ff"/><stop offset="0.7669" stop-color="#ff00bf"/><stop offset="0.7925" stop-color="#ff0080"/><stop offset="0.8199" stop-color="#ff0040"/><stop offset="0.8517" stop-color="#ff0000"/><stop offset="0.8916" stop-color="#ff4000"/><stop offset="0.9435" stop-color="#ff8000"/><stop offset="1.0000" stop-color="#ffb800"/></linearGradient><linearGradient id="g30" x1="0" y1="0" x2="0" y2="1"><stop offset="0.0000" stop-color="#ffb800"/><stop offset="0.0075" stop-color="#ffbf00"/><stop offset="0.0756" stop-color="#ffff00"/><stop offset="0.1328" stop-color="#bfff00"/><stop offset="0.1766" stop-color="#80ff00"/><stop offset="0.2107" stop-color="#40ff00"/><stop offset="0.2392" stop-color="#00ff00"/><stop offset="0.2649" stop-color="#00ff40"/><stop offset="0.2904" stop-color="#00ff80"/><stop offset="0.3179" stop-color="#00ffbf"/><stop offset="0.3504" stop-color="#00ffff"/><stop offset="0.3915" stop-color="#00bfff"/><stop offset="0.4453" stop-color="#0080ff"/><stop offset="0.5117" stop-color="#0040ff"/><stop offset="0.5798" stop-color="#0000ff"/><stop offset="0.6370" stop-color="#4000ff"/><stop offset="0.6808" stop-color="#8000ff"/><stop offset="0.7149" stop-color="#bf00ff"/><stop offset="0.7433" stop-color="#ff00ff"/><stop offset="0.7691" stop-color="#ff00bf"/><stop offset="0.7946" stop-color="#ff0080"/><stop offset="0.8221" stop-color="#ff0040"/><stop offset="0.8546" stop-color="#ff0000"/><stop offset="0.8957" stop-color="#ff4000"/><stop offset="0.9495" stop-color="#ff8000"/><stop offset="1.0000" stop-color="#ffb100"/></linearGradient><linearGradient id="g31" x1="0" y1="0" x2="0" y2="1"><stop offset="0.0000" stop-color="#ffb200"/><stop offset="0.0149" stop-color="#ffbf00"/><stop offset="0.0828" stop-color="#ffff00"/><stop offset="0.1385" stop-color="#bfff00"/><stop offset="0.1808" stop-color="#80ff00"/><stop offset="0.2138" stop-color="#40ff00"/><stop offset="0.2416" stop-color="#00ff00"/><stop offset="0.2669" stop-color="#00ff40"/><stop offset="0.2923" stop-color="#00ff80"/><stop offset="0.3200" stop-color="#00ffbf"/><stop offset="0.3531" stop-color="#00ffff"/><stop offset="0.3954" stop-color="#00bfff"/><stop offset="0.4512" stop-color="#0080ff"/><stop offset="0.5191" stop-color="#0040ff"/><stop offset="0.5870" stop-color="#0000ff"/><stop offset="0.6427" stop-color="#4000ff"/><stop offset="0.6850" stop-color="#8000ff"/><stop offset="0.7180" stop-color="#bf00ff"/><stop offset="0.7457" stop-color="#ff00ff"/><stop offset="0.7711" stop-color="#ff00bf"/><stop offset="0.7965" stop-color="#ff0080"/><stop offset="0.8242" stop-color="#ff0040"/><stop offset="0.8573" stop-color="#ff0000"/><stop offset="0.8996" stop-color="#ff4000"/><stop offset="0.9554" stop-color="#ff8000"/><stop offset="1.0000" stop-color="#ffaa00"/></linearGradient><linearGradient id="g32" x1="0" y1="0" x2="0" y2="1"><stop offset="0.0000" stop-color="#ffac00"/><stop offset="0.0220" stop-color="#ffbf00"/><stop offset="0.0895" stop-color="#ffff00"/><stop offset="0.1437" stop-color="#bfff00"/><stop offset="0.1846" stop-color="#80ff00"/><stop offset="0.2166" stop-color="#40ff00"/><stop offset="0.2437" stop-color="#00ff00"/><stop offset="0.2688" stop-color="#00ff40"/><stop offset="0.2941" stop-color="#00ff80"/><stop offset="0.3220" stop-color="#00ffbf"/><stop offset="0.3557" stop-color="#00ffff"/><stop offset="0.3993" stop-color="#00bfff"/><stop offset="0.4569" stop-color="#0080ff"/><stop offset="0.5262" stop-color="#0040ff"/><stop offset="0.5937" stop-color="#0000ff"/><stop offset="0.6479" stop-color="#4000ff"/><stop offset="0.6888" stop-color="#8000ff"/><stop offset="0.7208" stop-color="#bf00ff"/><stop offset="0.7479" stop-color="#ff00ff"/><stop offset="0.7730" stop-color="#ff00bf"/><stop offset="0.7983" stop-color="#ff0080"/><stop offset="0.8262" stop-color="#ff0040"/><stop offset="0.8599" stop-color="#ff0000"/><stop offset="0.9035" stop-color="#ff4000"/><stop offset="0.9611" stop-color="#ff8000"/><stop offset="1.0000" stop-color="#ffa400"/></linearGradient><linearGradient id="g33" x1="0" y1="0" x2="0" y2="1"><stop offset="0.0000" stop-color="#ffa600"/><stop offset="0.0288" stop-color="#ffbf00"/><stop offset="0.0957" stop-color="#ffff00"/><stop offset="0.1484" stop-color="#bfff00"/><stop offset="0.1881" stop-color="#80ff00"/><stop offset="0.2192" stop-color="#40ff00"/><stop offset="0.2457" stop-color="#00ff00"/><stop offset="0.2704" stop-color="#00ff40"/><stop offset="0.2957" stop-color="#00ff80"/><stop offset="0.3239" stop-color="#00ffbf"/><stop offset="0.3582" stop-color="#00ffff"/><stop offset="0.4031" stop-color="#00bfff"/><stop offset="0.4626" stop-color="#0080ff"/><stop offset="0.5330" stop-color="#0040ff"/><stop offset="0.5999" stop-color="#0000ff"/><stop offset="0.6526" stop-color="#4000ff"/><stop offset="0.6923" stop-color="#8000ff"/><stop offset="0.7234" stop-color="#bf00ff"/><stop offset="0.7499" stop-color="#ff00ff"/><stop offset="0.7746" stop-color="#ff00bf"/><stop offset="0.7999" stop-color="#ff0080"/><stop offset="0.8281" stop-color="#ff0040"/><stop offset="0.8624" stop-color="#ff0000"/><stop offset="0.9073" stop-color="#ff4000"/><stop offset="0.9668" stop-color="#ff8000"/><stop offset="1.0000" stop-color="#ff9e00"/></linearGradient><linearGradient id="g34" x1="0" y1="0" x2="0" y2="1"><stop offset="0.0000" stop-color="#ffa000"/><stop offset="0.0354" stop-color="#ffbf00"/><stop offset="0.1015" stop-color="#ffff00"/><stop offset="0.1528" stop-color="#bfff00"/><stop offset="0.1912" stop-color="#80ff00"/><stop offset="0.2215" stop-color="#40ff00"/><stop offset="0.2475" stop-color="#00ff00"/><stop offset="0.2720" stop-color="#00ff40"/><stop offset="0.2972" stop-color="#00ff80"/><stop offset="0.3256" stop-color="#00ffbf"/><stop offset="0.3606" stop-color="#00ffff"/><stop offset="0.4068" stop-color="#00bfff"/><stop offset="0.4681" stop-color="#0080ff"/><stop offset="0.5396" stop-color="#0040ff"/><stop offset="0.6057" stop-color="#0000ff"/><stop offset="0.6570" stop-color="#4000ff"/><stop offset="0.6954" stop-color="#8000ff"/><stop offset="0.7257" stop-color="#bf00ff"/><stop offset="0.7517" stop-color="#ff00ff"/><stop offset="0.7762" stop-color="#ff00bf"/><stop offset="0.8014" stop-color="#ff0080"/><stop offset="0.8298" stop-color="#ff0040"/><stop offset="0.8648" stop-color="#ff0000"/><stop offset="0.9110" stop-color="#ff4000"/><stop offset="0.9723" stop-color="#ff8000"/><stop offset="1.0000" stop-color="#ff9900"/></linearGradient><linearGradient id="g35" x1="0" y1="0" x2="0" y2="1"><stop offset="0.0000" stop-color="#ff9b00"/><stop offset="0.0416" stop-color="#ffbf00"/><stop offset="0.1070" stop-color="#ffff00"/><stop offset="0.1569" stop-color="#bfff00"/><stop offset="0.1941" stop-color="#80ff00"/><stop offset="0.2237" stop-color="#40ff00"/><stop offset="0.2492" stop-color="#00ff00"/><stop offset="0.2734" stop-color="#00ff40"/><stop offset="0.2986" stop-color="#00ff80"/><stop offset="0.3273" stop-color="#00ffbf"/><stop offset="0.3630" stop-color="#00ffff"/><stop offset="0.4105" stop-color="#00bfff"/><stop offset="0.4735" stop-color="#0080ff"/><stop offset="0.5458" stop-color="#0040ff"/><stop offset="0.6112" stop-color="#0000ff"/><stop offset="0.6611" stop-color="#4000ff"/><stop offset="0.6983" stop-color="#8000ff"/><stop offset="0.7279" stop-color="#bf00ff"/><stop offset="0.7534" stop-color="#ff00ff"/><stop offset="0.7776" stop-color="#ff00bf"/><stop offset="0.8028" stop-color="#ff0080"/><stop offset="0.8314" stop-color="#ff0040"/><stop offset="0.8672" stop-color="#ff0000"/><stop offset="0.9147" stop-color="#ff4000"/><stop offset="0.9777" stop-color="#ff8000"/><stop offset="1.0000" stop-color="#ff9300"/></linearGradient><linearGradient id="g36" x1="0" y1="0" x2="0" y2="1"><stop offset="0.0000" stop-color="#ff9600"/><stop offset="0.0476" stop-color="#ffbf00"/><stop offset="0.1120" stop-color="#ffff00"/><stop offset="0.1606" stop-color="#bfff00"/><stop offset="0.1968" stop-color="#80ff00"/><stop offset="0.2257" stop-color="#40ff00"/><stop offset="0.2508" stop-color="#00ff00"/><stop offset="0.2747" stop-color="#00ff40"/><stop offset="0.2999" stop-color="#00ff80"/><stop offset="0.3288" stop-color="#00ffbf"/><stop offset="0.3652" stop-color="#00ffff"/><stop offset="0.4141" stop-color="#00bfff"/><stop offset="0.4788" stop-color="#0080ff"/><stop offset="0.5518" stop-color="#0040ff"/><stop offset="0.6162" stop-color="#0000ff"/><stop offset="0.6648" stop-color="#4000ff"/><stop offset="0.7010" stop-color="#8000ff"/><stop offset="0.7299" stop-color="#bf00ff"/><stop offset="0.7550" stop-color="#ff00ff"/><stop offset="0.7789" stop-color="#ff00bf"/><stop offset="0.8041" stop-color="#ff0080"/><stop offset="0.8330" stop-color="#ff0040"/><stop offset="0.8694" stop-color="#ff0000"/><stop offset="0.9183" stop-color="#ff4000"/><stop offset="0.9830" stop-color="#ff8000"/><stop offset="1.0000" stop-color="#ff8f00"/></linearGradient><linearGradient id="g37" x1="0" y1="0" x2="0" y2="1"><stop offset="0.0000" stop-color="#ff9100"/><stop offset="0.0533" stop-color="#ffbf00"/><stop offset="0.1167" stop-color="#ffff00"/><stop offset="0.1640" stop-color="#bfff00"/><stop offset="0.1993" stop-color="#80ff00"/><stop offset="0.2275" stop-color="#40ff00"/><stop offset="0.2522" stop-color="#00ff00"/><stop offset="0.2759" stop-color="#00ff40"/><stop offset="0.3011" stop-color="#00ff80"/><stop offset="0.3303" stop-color="#00ffbf"/><stop offset="0.3674" stop-color="#00ffff"/><stop offset="0.4176" stop-color="#00bfff"/><stop offset="0.4839" stop-color="#0080ff"/><stop offset="0.5575" stop-color="#0040ff"/><stop offset="0.6209" stop-color="#0000ff"/><stop offset="0.6682" stop-color="#4000ff"/><stop offset="0.7035" stop-color="#8000ff"/><stop offset="0.7317" stop-color="#bf00ff"/><stop offset="0.7564" stop-color="#ff00ff"/><stop offset="0.7801" stop-color="#ff00bf"/><stop offset="0.8053" stop-color="#ff0080"/><stop offset="0.8345" stop-color="#ff0040"/><stop offset="0.8716" stop-color="#ff0000"/><stop offset="0.9218" stop-color="#ff4000"/><stop offset="0.9881" stop-color="#ff8000"/><stop offset="1.0000" stop-color="#ff8a00"/></linearGradient><linearGradient id="g38" x1="0" y1="0" x2="0" y2="1"><stop offset="0.0000" stop-color="#ff8d00"/><stop offset="0.0587" stop-color="#ffbf00"/><stop offset="0.1211" stop-color="#ffff00"/><stop offset="0.1672" stop-color="#bfff00"/><stop offset="0.2015" stop-color="#80ff00"/><stop offset="0.2291" stop-color="#40ff00"/><stop offset="0.2535" stop-color="#00ff00"/><stop offset="0.2771" stop-color="#00ff40"/><stop offset="0.3022" stop-color="#00ff80"/><stop offset="0.3317" stop-color="#00ffbf"/><stop offset="0.3695" stop-color="#00ffff"/><stop offset="0.4210" stop-color="#00bfff"/><stop offset="0.4889" stop-color="#0080ff"/><stop offset="0.5629" stop-color="#0040ff"/><stop offset="0.6253" stop-color="#0000ff"/><stop offset="0.6714" stop-color="#4000ff"/><stop offset="0.7057" stop-color="#8000ff"/><stop offset="0.7333" stop-color="#bf00ff"/><stop offset="0.7577" stop-color="#ff00ff"/><stop offset="0.7813" stop-color="#ff00bf"/><stop offset="0.8064" stop-color="#ff0080"/><stop offset="0.8359" stop-color="#ff0040"/><stop offset="0.8737" stop-color="#ff0000"/><stop offset="0.9252" stop-color="#ff4000"/><stop offset="0.9931" stop-color="#ff8000"/><stop offset="1.0000" stop-color="#ff8500"/></linearGradient><linearGradient id="g39" x1="0" y1="0" x2="0" y2="1"><stop offset="0.0000" stop-color="#ff8800"/><stop offset="0.0639" stop-color="#ffbf00"/><stop offset="0.1253" stop-color="#ffff00"/><stop offset="0.1702" stop-color="#bfff00"/><stop offset="0.2036" stop-color="#80ff00"/><stop offset="0.2307" stop-color="#40ff00"/><stop offset="0.2547" stop-color="#00ff00"/><stop offset="0.2781" stop-color="#00ff40"/><stop offset="0.3033" stop-color="#00ff80"/><stop offset="0.3331" stop-color="#00ffbf"/><stop offset="0.3716" stop-color="#00ffff"/><stop offset="0.4244" stop-color="#00bfff"/><stop offset="0.4938" stop-color="#0080ff"/><stop offset="0.5681" stop-color="#0040ff"/><stop offset="0.6295" stop-color="#0000ff"/><stop offset="0.6744" stop-color="#4000ff"/><stop offset="0.7078" stop-color="#8000ff"/><stop offset="0.7349" stop-color="#bf00ff"/><stop offset="0.7589" stop-color="#ff00ff"/><stop offset="0.7823" stop-color="#ff00bf"/><stop offset="0.8075" stop-color="#ff0080"/><stop offset="0.8373" stop-color="#ff0040"/><stop offset="0.8758" stop-color="#ff0000"/><stop offset="0.9286" stop-color="#ff4000"/><stop offset="0.9980" stop-color="#ff8000"/><stop offset="1.0000" stop-color="#ff8100"/></linearGradient><linearGradient id="g40" x1="0" y1="0" x2="0" y2="1"><stop offset="0.0000" stop-color="#ff8400"/><stop offset="0.0688" stop-color="#ffbf00"/><stop offset="0.1291" stop-color="#ffff00"/><stop offset="0.1729" stop-color="#bfff00"/><stop offset="0.2056" stop-color="#80ff00"/><stop offset="0.2321" stop-color="#40ff00"/><stop offset="0.2558" stop-color="#00ff00"/><stop offset="0.2791" stop-color="#00ff40"/><stop offset="0.3043" stop-color="#00ff80"/><stop offset="0.3344" stop-color="#00ffbf"/><stop offset="0.3736" stop-color="#00ffff"/><stop offset="0.4278" stop-color="#00bfff"/><stop offset="0.4986" stop-color="#0080ff"/><stop offset="0.5730" stop-color="#0040ff"/><stop offset="0.6333" stop-color="#0000ff"/><stop offset="0.6771" stop-color="#4000ff"/><stop offset="0.7098" stop-color="#8000ff"/><stop offset="0.7363" stop-color="#bf00ff"/><stop offset="0.7600" stop-color="#ff00ff"/><stop offset="0.7833" stop-color="#ff00bf"/><stop offset="0.8085" stop-color="#ff0080"/><stop offset="0.8385" stop-color="#ff0040"/><stop offset="0.8778" stop-color="#ff0000"/><stop offset="0.9319" stop-color="#ff4000"/><stop offset="1.0000" stop-color="#ff7d00"/></linearGradient><linearGradient id="g41" x1="0" y1="0" x2="0" y2="1"><stop offset="0.0000" stop-color="#ff8000"/><stop offset="0.0734" stop-color="#ffbf00"/><stop offset="0.1327" stop-color="#ffff00"/><stop offset="0.1754" stop-color="#bfff00"/><stop offset="0.2074" stop-color="#80ff00"/><stop offset="0.2334" stop-color="#40ff00"/><stop offset="0.2568" stop-color="#00ff00"/><stop offset="0.2800" stop-color="#00ff40"/><stop offset="0.3052" stop-color="#00ff80"/><stop offset="0.3356" stop-color="#00ffbf"/><stop offset="0.3756" stop-color="#00ffff"/><stop offset="0.4310" stop-color="#00bfff"/><stop offset="0.5032" stop-color="#0080ff"/><stop offset="0.5776" stop-color="#0040ff"/><stop offset="0.6369" stop-color="#0000ff"/><stop offset="0.6796" stop-color="#4000ff"/><stop offset="0.7116" stop-color="#8000ff"/><stop offset="0.7376" stop-color="#bf00ff"/><stop offset="0.7610" stop-color="#ff00ff"/><stop offset="0.7842" stop-color="#ff00bf"/><stop offset="0.8094" stop-color="#ff0080"/><stop offset="0.8398" stop-color="#ff0040"/><stop offset="0.8798" stop-color="#ff0000"/><stop offset="0.9352" stop-color="#ff4000"/><stop offset="1.0000" stop-color="#ff7900"/></linearGradient><linearGradient id="g42" x1="0" y1="0" x2="0" y2="1"><stop offset="0.0000" stop-color="#ff7d00"/><stop offset="0.0034" stop-color="#ff8000"/><stop offset="0.0778" stop-color="#ffbf00"/><stop offset="0.1360" stop-color="#ffff00"/><stop offset="0.1778" stop-color="#bfff00"/><stop offset="0.2090" stop-color="#80ff00"/><stop offset="0.2346" stop-color="#40ff00"/><stop offset="0.2578" stop-color="#00ff00"/><stop offset="0.2808" stop-color="#00ff40"/><stop offset="0.3061" stop-color="#00ff80"/><stop offset="0.3368" stop-color="#00ffbf"/><stop offset="0.3775" stop-color="#00ffff"/><stop offset="0.4342" stop-color="#00bfff"/><stop offset="0.5076" stop-color="#0080ff"/><stop offset="0.5820" stop-color="#0040ff"/><stop offset="0.6402" stop-color="#0000ff"/><stop offset="0.6820" stop-color="#4000ff"/><stop offset="0.7132" stop-color="#8000ff"/><stop offset="0.7388" stop-color="#bf00ff"/><stop offset="0.7620" stop-color="#ff00ff"/><stop offset="0.7850" stop-color="#ff00bf"/><stop offset="0.8103" stop-color="#ff0080"/><stop offset="0.8410" stop-color="#ff0040"/><stop offset="0.8816" stop-color="#ff0000"/><stop offset="0.9384" stop-color="#ff4000"/><stop offset="1.0000" stop-color="#ff7600"/></linearGradient><linearGradient id="g43" x1="0" y1="0" x2="0" y2="1"><stop offset="0.0000" stop-color="#ff7900"/><stop offset="0.0078" stop-color="#ff8000"/><stop offset="0.0819" stop-color="#ffbf00"/><stop offset="0.1391" stop-color="#ffff00"/><stop offset="0.1800" stop-color="#bfff00"/><stop offset="0.2106" stop-color="#80ff00"/><stop offset="0.2358" stop-color="#40ff00"/><stop offset="0.2586" stop-color="#00ff00"/><stop offset="0.2816" stop-color="#00ff40"/><stop offset="0.3069" stop-color="#00ff80"/><stop offset="0.3379" stop-color="#00ffbf"/><stop offset="0.3793" stop-color="#00ffff"/><stop offset="0.4373" stop-color="#00bfff"/><stop offset="0.5120" stop-color="#0080ff"/><stop offset="0.5861" stop-color="#0040ff"/><stop offset="0.6433" stop-color="#0000ff"/><stop offset="0.6841" stop-color="#4000ff"/><stop offset="0.7148" stop-color="#8000ff"/><stop offset="0.7400" stop-color="#bf00ff"/><stop offset="0.7628" stop-color="#ff00ff"/><stop offset="0.7858" stop-color="#ff00bf"/><stop offset="0.8111" stop-color="#ff0080"/><stop offset="0.8421" stop-color="#ff0040"/><stop offset="0.8835" stop-color="#ff0000"/><stop offset="0.9415" stop-color="#ff4000"/><stop offset="1.0000" stop-color="#ff7200"/></linearGradient><linearGradient id="g44" x1="0" y1="0" x2="0" y2="1"><stop offset="0.0000" stop-color="#ff7600"/><stop offset="0.0119" stop-color="#ff8000"/><stop offset="0.0858" stop-color="#ffbf00"/><stop offset="0.1420" stop-color="#ffff00"/><stop offset="0.1820" stop-color="#bfff00"/><stop offset="0.2120" stop-color="#80ff00"/><stop offset="0.2368" stop-color="#40ff00"/><stop offset="0.2595" stop-color="#00ff00"/><stop offset="0.2823" stop-color="#00ff40"/><stop offset="0.3077" stop-color="#00ff80"/><stop offset="0.3390" stop-color="#00ffbf"/><stop offset="0.3811" stop-color="#00ffff"/><stop offset="0.4404" stop-color="#00bfff"/><stop offset="0.5161" stop-color="#0080ff"/><stop offset="0.5900" stop-color="#0040ff"/><stop offset="0.6462" stop-color="#0000ff"/><stop offset="0.6862" stop-color="#4000ff"/><stop offset="0.7162" stop-color="#8000ff"/><stop offset="0.7410" stop-color="#bf00ff"/><stop offset="0.7637" stop-color="#ff00ff"/><stop offset="0.7865" stop-color="#ff00bf"/><stop offset="0.8119" stop-color="#ff0080"/><stop offset="0.8432" stop-color="#ff0040"/><stop offset="0.8853" stop-color="#ff0000"/><stop offset="0.9445" stop-color="#ff4000"/><stop offset="1.0000" stop-color="#ff6f00"/></linearGradient><linearGradient id="g45" x1="0" y1="0" x2="0" y2="1"><stop offset="0.0000" stop-color="#ff7300"/><stop offset="0.0159" stop-color="#ff8000"/><stop offset="0.0895" stop-color="#ffbf00"/><stop offset="0.1447" stop-color="#ffff00"/><stop offset="0.1839" stop-color="#bfff00"/><stop offset="0.2134" stop-color="#80ff00"/><stop offset="0.2378" stop-color="#40ff00"/><stop offset="0.2602" stop-color="#00ff00"/><stop offset="0.2830" stop-color="#00ff40"/><stop offset="0.3084" stop-color="#00ff80"/><stop offset="0.3400" stop-color="#00ffbf"/><stop offset="0.3828" stop-color="#00ffff"/><stop offset="0.4433" stop-color="#00bfff"/><stop offset="0.5201" stop-color="#0080ff"/><stop offset="0.5937" stop-color="#0040ff"/><stop offset="0.6489" stop-color="#0000ff"/><stop offset="0.6881" stop-color="#4000ff"/><stop offset="0.7175" stop-color="#8000ff"/><stop offset="0.7420" stop-color="#bf00ff"/><stop offset="0.7644" stop-color="#ff00ff"/><stop offset="0.7872" stop-color="#ff00bf"/><stop offset="0.8126" stop-color="#ff0080"/><stop offset="0.8442" stop-color="#ff0040"/><stop offset="0.8870" stop-color="#ff0000"/><stop offset="0.9475" stop-color="#ff4000"/><stop offset="1.0000" stop-color="#ff6c00"/></linearGradient><linearGradient id="g46" x1="0" y1="0" x2="0" y2="1"><stop offset="0.0000" stop-color="#ff7000"/><stop offset="0.0197" stop-color="#ff8000"/><stop offset="0.0930" stop-color="#ffbf00"/><stop offset="0.1473" stop-color="#ffff00"/><stop offset="0.1856" stop-color="#bfff00"/><stop offset="0.2146" stop-color="#80ff00"/><stop offset="0.2387" stop-color="#40ff00"/><stop offset="0.2609" stop-color="#00ff00"/><stop offset="0.2836" stop-color="#00ff40"/><stop offset="0.3091" stop-color="#00ff80"/><stop offset="0.3410" stop-color="#00ffbf"/><stop offset="0.3845" stop-color="#00ffff"/><stop offset="0.4462" stop-color="#00bfff"/><stop offset="0.5239" stop-color="#0080ff"/><stop offset="0.5972" stop-color="#0040ff"/><stop offset="0.6515" stop-color="#0000ff"/><stop offset="0.6898" stop-color="#4000ff"/><stop offset="0.7188" stop-color="#8000ff"/><stop offset="0.7429" stop-color="#bf00ff"/><stop offset="0.7651" stop-color="#ff00ff"/><stop offset="0.7878" stop-color="#ff00bf"/><stop offset="0.8133" stop-color="#ff0080"/><stop offset="0.8452" stop-color="#ff0040"/><stop offset="0.8887" stop-color="#ff0000"/><stop offset="0.9504" stop-color="#ff4000"/><stop offset="1.0000" stop-color="#ff6900"/></linearGradient><linearGradient id="g47" x1="0" y1="0" x2="0" y2="1"><stop offset="0.0000" stop-color="#ff6d00"/><stop offset="0.0234" stop-color="#ff8000"/><stop offset="0.0962" stop-color="#ffbf00"/><stop offset="0.1496" stop-color="#ffff00"/><stop offset="0.1873" stop-color="#bfff00"/><stop offset="0.2157" stop-color="#80ff00"/><stop offset="0.2395" stop-color="#40ff00"/><stop offset="0.2616" stop-color="#00ff00"/><stop offset="0.2842" stop-color="#00ff40"/><stop offset="0.3098" stop-color="#00ff80"/><stop offset="0.3419" stop-color="#00ffbf"/><stop offset="0.3861" stop-color="#00ffff"/><stop offset="0.4490" stop-color="#00bfff"/><stop offset="0.5276" stop-color="#0080ff"/><stop offset="0.6004" stop-color="#0040ff"/><stop offset="0.6538" stop-color="#0000ff"/><stop offset="0.6914" stop-color="#4000ff"/><stop offset="0.7199" stop-color="#8000ff"/><stop offset="0.7437" stop-color="#bf00ff"/><stop offset="0.7658" stop-color="#ff00ff"/><stop offset="0.7884" stop-color="#ff00bf"/><stop offset="0.8140" stop-color="#ff0080"/><stop offset="0.8461" stop-color="#ff0040"/><stop offset="0.8903" stop-color="#ff0000"/><stop offset="0.9532" stop-color="#ff4000"/><stop offset="1.0000" stop-color="#ff6600"/></linearGradient><linearGradient id="g48" x1="0" y1="0" x2="0" y2="1"><stop offset="0.0000" stop-color="#ff6a00"/><stop offset="0.0269" stop-color="#ff8000"/><stop offset="0.0993" stop-color="#ffbf00"/><stop offset="0.1518" stop-color="#ffff00"/><stop offset="0.1888" stop-color="#bfff00"/><stop offset="0.2168" stop-color="#80ff00"/><stop offset="0.2403" stop-color="#40ff00"/><stop offset="0.2622" stop-color="#00ff00"/><stop offset="0.2847" stop-color="#00ff40"/><stop offset="0.3104" stop-color="#00ff80"/><stop offset="0.3428" stop-color="#00ffbf"/><stop offset="0.3877" stop-color="#00ffff"/><stop offset="0.4517" stop-color="#00bfff"/><stop offset="0.5311" stop-color="#0080ff"/><stop offset="0.6035" stop-color="#0040ff"/><stop offset="0.6560" stop-color="#0000ff"/><stop offset="0.6930" stop-color="#4000ff"/><stop offset="0.7210" stop-color="#8000ff"/><stop offset="0.7445" stop-color="#bf00ff"/><stop offset="0.7664" stop-color="#ff00ff"/><stop offset="0.7889" stop-color="#ff00bf"/><stop offset="0.8146" stop-color="#ff0080"/><stop offset="0.8470" stop-color="#ff0040"/><stop offset="0.8919" stop-color="#ff0000"/><stop offset="0.9559" stop-color="#ff4000"/><stop offset="1.0000" stop-color="#ff6400"/></linearGradient><linearGradient id="g49" x1="0" y1="0" x2="0" y2="1"><stop offset="0.0000" stop-color="#ff6800"/><stop offset="0.0303" stop-color="#ff8000"/><stop offset="0.1022" stop-color="#ffbf00"/><stop offset="0.1539" stop-color="#ffff00"/><stop offset="0.1902" stop-color="#bfff00"/><stop offset="0.2178" stop-color="#80ff00"/><stop offset="0.2410" stop-color="#40ff00"/><stop offset="0.2628" stop-color="#00ff00"/><stop offset="0.2852" stop-color="#00ff40"/><stop offset="0.3109" stop-color="#00ff80"/><stop offset="0.3437" stop-color="#00ffbf"/><stop offset="0.3892" stop-color="#00ffff"/><stop offset="0.4544" stop-color="#00bfff"/><stop offset="0.5345" stop-color="#0080ff"/><stop offset="0.6064" stop-color="#0040ff"/><stop offset="0.6581" stop-color="#0000ff"/><stop offset="0.6944" stop-color="#4000ff"/><stop offset="0.7220" stop-color="#8000ff"/><stop offset="0.7452" stop-color="#bf00ff"/><stop offset="0.7670" stop-color="#ff00ff"/><stop offset="0.7894" stop-color="#ff00bf"/><stop offset="0.8151" stop-color="#ff0080"/><stop offset="0.8479" stop-color="#ff0040"/><stop offset="0.8934" stop-color="#ff0000"/><stop offset="0.9586" stop-color="#ff4000"/><stop offset="1.0000" stop-color="#ff6100"/></linearGradient><linearGradient id="g50" x1="0" y1="0" x2="0" y2="1"><stop offset="0.0000" stop-color="#ff6500"/><stop offset="0.0334" stop-color="#ff8000"/><stop offset="0.1049" stop-color="#ffbf00"/><stop offset="0.1558" stop-color="#ffff00"/><stop offset="0.1915" stop-color="#bfff00"/><stop offset="0.2187" stop-color="#80ff00"/><stop offset="0.2417" stop-color="#40ff00"/><stop offset="0.2633" stop-color="#00ff00"/><stop offset="0.2857" stop-color="#00ff40"/><stop offset="0.3115" stop-color="#00ff80"/><stop offset="0.3445" stop-color="#00ffbf"/><stop offset="0.3907" stop-color="#00ffff"/><stop offset="0.4569" stop-color="#00bfff"/><stop offset="0.5376" stop-color="#0080ff"/><stop offset="0.6091" stop-color="#0040ff"/><stop offset="0.6600" stop-color="#0000ff"/><stop offset="0.6957" stop-color="#4000ff"/><stop offset="0.7229" stop-color="#8000ff"/><stop offset="0.7459" stop-color="#bf00ff"/><stop offset="0.7675" stop-color="#ff00ff"/><stop offset="0.7899" stop-color="#ff00bf"/><stop offset="0.8157" stop-color="#ff0080"/><stop offset="0.8487" stop-color="#ff0040"/><stop offset="0.8949" stop-color="#ff0000"/><stop offset="0.9611" stop-color="#ff4000"/><stop offset="1.0000" stop-color="#ff5f00"/></linearGradient><linearGradient id="g51" x1="0" y1="0" x2="0" y2="1"><stop offset="0.0000" stop-color="#ff6300"/><stop offset="0.0365" stop-color="#ff8000"/><stop offset="0.1074" stop-color="#ffbf00"/><stop offset="0.1575" stop-color="#ffff00"/><stop offset="0.1927" stop-color="#bfff00"/><stop offset="0.2196" stop-color="#80ff00"/><stop offset="0.2423" stop-color="#40ff00"/><stop offset="0.2638" stop-color="#00ff00"/><stop offset="0.2861" stop-color="#00ff40"/><stop offset="0.3120" stop-color="#00ff80"/><stop offset="0.3453" stop-color="#00ffbf"/><stop offset="0.3921" stop-color="#00ffff"/><stop offset="0.4593" stop-color="#00bfff"/><stop offset="0.5407" stop-color="#0080ff"/><stop offset="0.6116" stop-color="#0040ff"/><stop offset="0.6617" stop-color="#0000ff"/><stop offset="0.6969" stop-color="#4000ff"/><stop offset="0.7238" stop-color="#8000ff"/><stop offset="0.7465" stop-color="#bf00ff"/><stop offset="0.7680" stop-color="#ff00ff"/><stop offset="0.7903" stop-color="#ff00bf"/><stop offset="0.8162" stop-color="#ff0080"/><stop offset="0.8495" stop-color="#ff0040"/><stop offset="0.8963" stop-color="#ff0000"/><stop offset="0.9635" stop-color="#ff4000"/><stop offset="1.0000" stop-color="#ff5d00"/></linearGradient><linearGradient id="g52" x1="0" y1="0" x2="0" y2="1"><stop offset="0.0000" stop-color="#ff6100"/><stop offset="0.0393" stop-color="#ff8000"/><stop offset="0.1098" stop-color="#ffbf00"/><stop offset="0.1592" stop-color="#ffff00"/><stop offset="0.1938" stop-color="#bfff00"/><stop offset="0.2204" stop-color="#80ff00"/><stop offset="0.2429" stop-color="#40ff00"/><stop offset="0.2642" stop-color="#00ff00"/><stop offset="0.2865" stop-color="#00ff40"/><stop offset="0.3125" stop-color="#00ff80"/><stop offset="0.3460" stop-color="#00ffbf"/><stop offset="0.3935" stop-color="#00ffff"/><stop offset="0.4617" stop-color="#00bfff"/><stop offset="0.5435" stop-color="#0080ff"/><stop offset="0.6140" stop-color="#0040ff"/><stop offset="0.6634" stop-color="#0000ff"/><stop offset="0.6980" stop-color="#4000ff"/><stop offset="0.7246" stop-color="#8000ff"/><stop offset="0.7471" stop-color="#bf00ff"/><stop offset="0.7684" stop-color="#ff00ff"/><stop offset="0.7907" stop-color="#ff00bf"/><stop offset="0.8167" stop-color="#ff0080"/><stop offset="0.8502" stop-color="#ff0040"/><stop offset="0.8977" stop-color="#ff0000"/><stop offset="0.9659" stop-color="#ff4000"/><stop offset="1.0000" stop-color="#ff5b00"/></linearGradient><linearGradient id="g53" x1="0" y1="0" x2="0" y2="1"><stop offset="0.0000" stop-color="#ff5f00"/><stop offset="0.0420" stop-color="#ff8000"/><stop offset="0.1120" stop-color="#ffbf00"/><stop offset="0.1607" stop-color="#ffff00"/><stop offset="0.1949" stop-color="#bfff00"/><stop offset="0.2211" stop-color="#80ff00"/><stop offset="0.2434" stop-color="#40ff00"/><stop offset="0.2646" stop-color="#00ff00"/><stop offset="0.2869" stop-color="#00ff40"/><stop offset="0.3129" stop-color="#00ff80"/><stop offset="0.3467" stop-color="#00ffbf"/><stop offset="0.3948" stop-color="#00ffff"/><stop offset="0.4639" stop-color="#00bfff"/><stop offset="0.5462" stop-color="#0080ff"/><stop offset="0.6162" stop-color="#0040ff"/><stop offset="0.6649" stop-color="#0000ff"/><stop offset="0.6991" stop-color="#4000ff"/><stop offset="0.7253" stop-color="#8000ff"/><stop offset="0.7476" stop-color="#bf00ff"/><stop offset="0.7688" stop-color="#ff00ff"/><stop offset="0.7911" stop-color="#ff00bf"/><stop offset="0.8171" stop-color="#ff0080"/><stop offset="0.8509" stop-color="#ff0040"/><stop offset="0.8990" stop-color="#ff0000"/><stop offset="0.9681" stop-color="#ff4000"/><stop offset="1.0000" stop-color="#ff5900"/></linearGradient><linearGradient id="g54" x1="0" y1="0" x2="0" y2="1"><stop offset="0.0000" stop-color="#ff5d00"/><stop offset="0.0446" stop-color="#ff8000"/><stop offset="0.1140" stop-color="#ffbf00"/><stop offset="0.1621" stop-color="#ffff00"/><stop offset="0.1958" stop-color="#bfff00"/><stop offset="0.2218" stop-color="#80ff00"/><stop offset="0.2439" stop-color="#40ff00"/><stop offset="0.2650" stop-color="#00ff00"/><stop offset="0.2873" stop-color="#00ff40"/><stop offset="0.3133" stop-color="#00ff80"/><stop offset="0.3474" stop-color="#00ffbf"/><stop offset="0.3960" stop-color="#00ffff"/><stop offset="0.4660" stop-color="#00bfff"/><stop offset="0.5488" stop-color="#0080ff"/><stop offset="0.6182" stop-color="#0040ff"/><stop offset="0.6663" stop-color="#0000ff"/><stop offset="0.7000" stop-color="#4000ff"/><stop offset="0.7260" stop-color="#8000ff"/><stop offset="0.7481" stop-color="#bf00ff"/><stop offset="0.7692" stop-color="#ff00ff"/><stop offset="0.7915" stop-color="#ff00bf"/><stop offset="0.8175" stop-color="#ff0080"/><stop offset="0.8516" stop-color="#ff0040"/><stop offset="0.9002" stop-color="#ff0000"/><stop offset="0.9702" stop-color="#ff4000"/><stop offset="1.0000" stop-color="#ff5700"/></linearGradient><linearGradient id="g55" x1="0" y1="0" x2="0" y2="1"><stop offset="0.0000" stop-color="#ff5b00"/><stop offset="0.0469" stop-color="#ff8000"/><stop offset="0.1159" stop-color="#ffbf00"/><stop offset="0.1634" stop-color="#ffff00"/><stop offset="0.1967" stop-color="#bfff00"/><stop offset="0.2224" stop-color="#80ff00"/><stop offset="0.2444" stop-color="#40ff00"/><stop offset="0.2654" stop-color="#00ff00"/><stop offset="0.2876" stop-color="#00ff40"/><stop offset="0.3137" stop-color="#00ff80"/><stop offset="0.3480" stop-color="#00ffbf"/><stop offset="0.3972" stop-color="#00ffff"/><stop offset="0.4681" stop-color="#00bfff"/><stop offset="0.5511" stop-color="#0080ff"/><stop offset="0.6201" stop-color="#0040ff"/><stop offset="0.6676" stop-color="#0000ff"/><stop offset="0.7009" stop-color="#4000ff"/><stop offset="0.7266" stop-color="#8000ff"/><stop offset="0.7486" stop-color="#bf00ff"/><stop offset="0.7696" stop-color="#ff00ff"/><stop offset="0.7918" stop-color="#ff00bf"/><stop offset="0.8179" stop-color="#ff0080"/><stop offset="0.8522" stop-color="#ff0040"/><stop offset="0.9014" stop-color="#ff0000"/><stop offset="0.9723" stop-color="#ff4000"/><stop offset="1.0000" stop-color="#ff5500"/></linearGradient><linearGradient id="g56" x1="0" y1="0" x2="0" y2="1"><stop offset="0.0000" stop-color="#ff5a00"/><stop offset="0.0492" stop-color="#ff8000"/><stop offset="0.1176" stop-color="#ffbf00"/><stop offset="0.1646" stop-color="#ffff00"/><stop offset="0.1976" stop-color="#bfff00"/><stop offset="0.2230" stop-color="#80ff00"/><stop offset="0.2448" stop-color="#40ff00"/><stop offset="0.2657" stop-color="#00ff00"/><stop offset="0.2879" stop-color="#00ff40"/><stop offset="0.3141" stop-color="#00ff80"/><stop offset="0.3486" stop-color="#00ffbf"/><stop offset="0.3983" stop-color="#00ffff"/><stop offset="0.4700" stop-color="#00bfff"/><stop offset="0.5533" stop-color="#0080ff"/><stop offset="0.6218" stop-color="#0040ff"/><stop offset="0.6688" stop-color="#0000ff"/><stop offset="0.7017" stop-color="#4000ff"/><stop offset="0.7272" stop-color="#8000ff"/><stop offset="0.7490" stop-color="#bf00ff"/><stop offset="0.7699" stop-color="#ff00ff"/><stop offset="0.7921" stop-color="#ff00bf"/><stop offset="0.8183" stop-color="#ff0080"/><stop offset="0.8528" stop-color="#ff0040"/><stop offset="0.9025" stop-color="#ff0000"/><stop offset="0.9742" stop-color="#ff4000"/><stop offset="1.0000" stop-color="#ff5300"/></linearGradient><linearGradient id="g57" x1="0" y1="0" x2="0" y2="1"><stop offset="0.0000" stop-color="#ff5800"/><stop offset="0.0512" stop-color="#ff8000"/><stop offset="0.1193" stop-color="#ffbf00"/><stop offset="0.1657" stop-color="#ffff00"/><stop offset="0.1983" stop-color="#bfff00"/><stop offset="0.2235" stop-color="#80ff00"/><stop offset="0.2452" stop-color="#40ff00"/><stop offset="0.2660" stop-color="#00ff00"/><stop offset="0.2882" stop-color="#00ff40"/><stop offset="0.3144" stop-color="#00ff80"/><stop offset="0.3491" stop-color="#00ffbf"/><stop offset="0.3993" stop-color="#00ffff"/><stop offset="0.4718" stop-color="#00bfff"/><stop offset="0.5554" stop-color="#0080ff"/><stop offset="0.6235" stop-color="#0040ff"/><stop offset="0.6699" stop-color="#0000ff"/><stop offset="0.7025" stop-color="#4000ff"/><stop offset="0.7277" stop-color="#8000ff"/><stop offset="0.7494" stop-color="#bf00ff"/><stop offset="0.7702" stop-color="#ff00ff"/><stop offset="0.7924" stop-color="#ff00bf"/><stop offset="0.8186" stop-color="#ff0080"/><stop offset="0.8533" stop-color="#ff0040"/><stop offset="0.9035" stop-color="#ff0000"/><stop offset="0.9760" stop-color="#ff4000"/><stop offset="1.0000" stop-color="#ff5200"/></linearGradient><linearGradient id="g58" x1="0" y1="0" x2="0" y2="1"><stop offset="0.0000" stop-color="#ff5700"/><stop offset="0.0531" stop-color="#ff8000"/><stop offset="0.1207" stop-color="#ffbf00"/><stop offset="0.1667" stop-color="#ffff00"/><stop offset="0.1990" stop-color="#bfff00"/><stop offset="0.2240" stop-color="#80ff00"/><stop offset="0.2455" stop-color="#40ff00"/><stop offset="0.2663" stop-color="#00ff00"/><stop offset="0.2884" stop-color="#00ff40"/><stop offset="0.3147" stop-color="#00ff80"/><stop offset="0.3496" stop-color="#00ffbf"/><stop offset="0.4003" stop-color="#00ffff"/><stop offset="0.4735" stop-color="#00bfff"/><stop offset="0.5573" stop-color="#0080ff"/><stop offset="0.6249" stop-color="#0040ff"/><stop offset="0.6709" stop-color="#0000ff"/><stop offset="0.7032" stop-color="#4000ff"/><stop offset="0.7282" stop-color="#8000ff"/><stop offset="0.7497" stop-color="#bf00ff"/><stop offset="0.7705" stop-color="#ff00ff"/><stop offset="0.7926" stop-color="#ff00bf"/><stop offset="0.8189" stop-color="#ff0080"/><stop offset="0.8538" stop-color="#ff0040"/><stop offset="0.9045" stop-color="#ff0000"/><stop offset="0.9776" stop-color="#ff4000"/><stop offset="1.0000" stop-color="#ff5100"/></linearGradient><linearGradient id="g59" x1="0" y1="0" x2="0" y2="1"><stop offset="0.0000" stop-color="#ff5600"/><stop offset="0.0549" stop-color="#ff8000"/><stop offset="0.1221" stop-color="#ffbf00"/><stop offset="0.1677" stop-color="#ffff00"/><stop offset="0.1996" stop-color="#bfff00"/><stop offset="0.2244" stop-color="#80ff00"/><stop offset="0.2459" stop-color="#40ff00"/><stop offset="0.2665" stop-color="#00ff00"/><stop offset="0.2886" stop-color="#00ff40"/><stop offset="0.3150" stop-color="#00ff80"/><stop offset="0.3501" stop-color="#00ffbf"/><stop offset="0.4012" stop-color="#00ffff"/><stop offset="0.4750" stop-color="#00bfff"/><stop offset="0.5591" stop-color="#0080ff"/><stop offset="0.6263" stop-color="#0040ff"/><stop offset="0.6719" stop-color="#0000ff"/><stop offset="0.7038" stop-color="#4000ff"/><stop offset="0.7286" stop-color="#8000ff"/><stop offset="0.7501" stop-color="#bf00ff"/><stop offset="0.7707" stop-color="#ff00ff"/><stop offset="0.7928" stop-color="#ff00bf"/><stop offset="0.8192" stop-color="#ff0080"/><stop offset="0.8543" stop-color="#ff0040"/><stop offset="0.9054" stop-color="#ff0000"/><stop offset="0.9792" stop-color="#ff4000"/><stop offset="1.0000" stop-color="#ff4f00"/></linearGradient><linearGradient id="g60" x1="0" y1="0" x2="0" y2="1"><stop offset="0.0000" stop-color="#ff5400"/><stop offset="0.0565" stop-color="#ff8000"/><stop offset="0.1233" stop-color="#ffbf00"/><stop offset="0.1685" stop-color="#ffff00"/><stop offset="0.2002" stop-color="#bfff00"/><stop offset="0.2248" stop-color="#80ff00"/><stop offset="0.2461" stop-color="#40ff00"/><stop offset="0.2667" stop-color="#00ff00"/><stop offset="0.2888" stop-color="#00ff40"/><stop offset="0.3153" stop-color="#00ff80"/><stop offset="0.3505" stop-color="#00ffbf"/><stop offset="0.4021" stop-color="#00ffff"/><stop offset="0.4765" stop-color="#00bfff"/><stop offset="0.5607" stop-color="#0080ff"/><stop offset="0.6275" stop-color="#0040ff"/><stop offset="0.6727" stop-color="#0000ff"/><stop offset="0.7044" stop-color="#4000ff"/><stop offset="0.7290" stop-color="#8000ff"/><stop offset="0.7503" stop-color="#bf00ff"/><stop offset="0.7709" stop-color="#ff00ff"/><stop offset="0.7930" stop-color="#ff00bf"/><stop offset="0.8195" stop-color="#ff0080"/><stop offset="0.8547" stop-color="#ff0040"/><stop offset="0.9063" stop-color="#ff0000"/><stop offset="0.9807" stop-color="#ff4000"/><stop offset="1.0000" stop-color="#ff4e00"/></linearGradient><linearGradient id="g61" x1="0" y1="0" x2="0" y2="1"><stop offset="0.0000" stop-color="#ff5300"/><stop offset="0.0579" stop-color="#ff8000"/><stop offset="0.1244" stop-color="#ffbf00"/><stop offset="0.1692" stop-color="#ffff00"/><stop offset="0.2007" stop-color="#bfff00"/><stop offset="0.2252" stop-color="#80ff00"/><stop offset="0.2464" stop-color="#40ff00"/><stop offset="0.2669" stop-color="#00ff00"/><stop offset="0.2890" stop-color="#00ff40"/><stop offset="0.3155" stop-color="#00ff80"/><stop offset="0.3509" stop-color="#00ffbf"/><stop offset="0.4028" stop-color="#00ffff"/><stop offset="0.4778" stop-color="#00bfff"/><stop offset="0.5621" stop-color="#0080ff"/><stop offset="0.6286" stop-color="#0040ff"/><stop offset="0.6734" stop-color="#0000ff"/><stop offset="0.7049" stop-color="#4000ff"/><stop offset="0.7294" stop-color="#8000ff"/><stop offset="0.7506" stop-color="#bf00ff"/><stop offset="0.7711" stop-color="#ff00ff"/><stop offset="0.7932" stop-color="#ff00bf"/><stop offset="0.8197" stop-color="#ff0080"/><stop offset="0.8551" stop-color="#ff0040"/><stop offset="0.9070" stop-color="#ff0000"/><stop offset="0.9820" stop-color="#ff4000"/><stop offset="1.0000" stop-color="#ff4d00"/></linearGradient><linearGradient id="g62" x1="0" y1="0" x2="0" y2="1"><stop offset="0.0000" stop-color="#ff5200"/><stop offset="0.0592" stop-color="#ff8000"/><stop offset="0.1254" stop-color="#ffbf00"/><stop offset="0.1699" stop-color="#ffff00"/><stop offset="0.2012" stop-color="#bfff00"/><stop offset="0.2255" stop-color="#80ff00"/><stop offset="0.2466" stop-color="#40ff00"/><stop offset="0.2671" stop-color="#00ff00"/><stop offset="0.2892" stop-color="#00ff40"/><stop offset="0.3157" stop-color="#00ff80"/><stop offset="0.3513" stop-color="#00ffbf"/><stop offset="0.4035" stop-color="#00ffff"/><stop offset="0.4790" stop-color="#00bfff"/><stop offset="0.5634" stop-color="#0080ff"/><stop offset="0.6296" stop-color="#0040ff"/><stop offset="0.6741" stop-color="#0000ff"/><stop offset="0.7053" stop-color="#4000ff"/><stop offset="0.7297" stop-color="#8000ff"/><stop offset="0.7508" stop-color="#bf00ff"/><stop offset="0.7713" stop-color="#ff00ff"/><stop offset="0.7934" stop-color="#ff00bf"/><stop offset="0.8199" stop-color="#ff0080"/><stop offset="0.8555" stop-color="#ff0040"/><stop offset="0.9077" stop-color="#ff0000"/><stop offset="0.9832" stop-color="#ff4000"/><stop offset="1.0000" stop-color="#ff4c00"/></linearGradient><linearGradient id="g63" x1="0" y1="0" x2="0" y2="1"><stop offset="0.0000" stop-color="#ff5200"/><stop offset="0.0604" stop-color="#ff8000"/><stop offset="0.1263" stop-color="#ffbf00"/><stop offset="0.1705" stop-color="#ffff00"/><stop offset="0.2016" stop-color="#bfff00"/><stop offset="0.2258" stop-color="#80ff00"/><stop offset="0.2468" stop-color="#40ff00"/><stop offset="0.2673" stop-color="#00ff00"/><stop offset="0.2893" stop-color="#00ff40"/><stop offset="0.3159" stop-color="#00ff80"/><stop offset="0.3516" stop-color="#00ffbf"/><stop offset="0.4042" stop-color="#00ffff"/><stop offset="0.4800" stop-color="#00bfff"/><stop offset="0.5646" stop-color="#0080ff"/><stop offset="0.6305" stop-color="#0040ff"/><stop offset="0.6747" stop-color="#0000ff"/><stop offset="0.7058" stop-color="#4000ff"/><stop offset="0.7300" stop-color="#8000ff"/><stop offset="0.7510" stop-color="#bf00ff"/><stop offset="0.7715" stop-color="#ff00ff"/><stop offset="0.7935" stop-color="#ff00bf"/><stop offset="0.8201" stop-color="#ff0080"/><stop offset="0.8558" stop-color="#ff0040"/><stop offset="0.9084" stop-color="#ff0000"/><stop offset="0.9842" stop-color="#ff4000"/><stop offset="1.0000" stop-color="#ff4b00"/></linearGradient><linearGradient id="g64" x1="0" y1="0" x2="0" y2="1"><stop offset="0.0000" stop-color="#ff5100"/><stop offset="0.0614" stop-color="#ff8000"/><stop offset="0.1271" stop-color="#ffbf00"/><stop offset="0.1710" stop-color="#ffff00"/><stop offset="0.2019" stop-color="#bfff00"/><stop offset="0.2260" stop-color="#80ff00"/><stop offset="0.2470" stop-color="#40ff00"/><stop offset="0.2674" stop-color="#00ff00"/><stop offset="0.2895" stop-color="#00ff40"/><stop offset="0.3161" stop-color="#00ff80"/><stop offset="0.3519" stop-color="#00ffbf"/><stop offset="0.4047" stop-color="#00ffff"/><stop offset="0.4810" stop-color="#00bfff"/><stop offset="0.5656" stop-color="#0080ff"/><stop offset="0.6313" stop-color="#0040ff"/><stop offset="0.6752" stop-color="#0000ff"/><stop offset="0.7061" stop-color="#4000ff"/><stop offset="0.7302" stop-color="#8000ff"/><stop offset="0.7512" stop-color="#bf00ff"/><stop offset="0.7716" stop-color="#ff00ff"/><stop offset="0.7937" stop-color="#ff00bf"/><stop offset="0.8203" stop-color="#ff0080"/><stop offset="0.8561" stop-color="#ff0040"/><stop offset="0.9089" stop-color="#ff0000"/><stop offset="0.9852" stop-color="#ff4000"/><stop offset="1.0000" stop-color="#ff4b00"/></linearGradient><linearGradient id="g65" x1="0" y1="0" x2="0" y2="1"><stop offset="0.0000" stop-color="#ff5000"/><stop offset="0.0623" stop-color="#ff8000"/><stop offset="0.1277" stop-color="#ffbf00"/><stop offset="0.1715" stop-color="#ffff00"/><stop offset="0.2022" stop-color="#bfff00"/><stop offset="0.2262" stop-color="#80ff00"/><stop offset="0.2472" stop-color="#40ff00"/><stop offset="0.2675" stop-color="#00ff00"/><stop offset="0.2896" stop-color="#00ff40"/><stop offset="0.3162" stop-color="#00ff80"/><stop offset="0.3521" stop-color="#00ffbf"/><stop offset="0.4052" stop-color="#00ffff"/><stop offset="0.4818" stop-color="#00bfff"/><stop offset="0.5665" stop-color="#0080ff"/><stop offset="0.6319" stop-color="#0040ff"/><stop offset="0.6757" stop-color="#0000ff"/><stop offset="0.7064" stop-color="#4000ff"/><stop offset="0.7304" stop-color="#8000ff"/><stop offset="0.7514" stop-color="#bf00ff"/><stop offset="0.7717" stop-color="#ff00ff"/><stop offset="0.7938" stop-color="#ff00bf"/><stop offset="0.8204" stop-color="#ff0080"/><stop offset="0.8563" stop-color="#ff0040"/><stop offset="0.9094" stop-color="#ff0000"/><stop offset="0.9860" stop-color="#ff4000"/><stop offset="1.0000" stop-color="#ff4a00"/></linearGradient><linearGradient id="g66" x1="0" y1="0" x2="0" y2="1"><stop offset="0.0000" stop-color="#ff5000"/><stop offset="0.0630" stop-color="#ff8000"/><stop offset="0.1283" stop-color="#ffbf00"/><stop offset="0.1718" stop-color="#ffff00"/><stop offset="0.2025" stop-color="#bfff00"/><stop offset="0.2264" stop-color="#80ff00"/><stop offset="0.2473" stop-color="#40ff00"/><stop offset="0.2676" stop-color="#00ff00"/><stop offset="0.2897" stop-color="#00ff40"/><stop offset="0.3163" stop-color="#00ff80"/><stop offset="0.3523" stop-color="#00ffbf"/><stop offset="0.4056" stop-color="#00ffff"/><stop offset="0.4825" stop-color="#00bfff"/><stop offset="0.5672" stop-color="#0080ff"/><stop offset="0.6325" stop-color="#0040ff"/><stop offset="0.6760" stop-color="#0000ff"/><stop offset="0.7067" stop-color="#4000ff"/><stop offset="0.7306" stop-color="#8000ff"/><stop offset="0.7515" stop-color="#bf00ff"/><stop offset="0.7718" stop-color="#ff00ff"/><stop offset="0.7939" stop-color="#ff00bf"/><stop offset="0.8205" stop-color="#ff0080"/><stop offset="0.8565" stop-color="#ff0040"/><stop offset="0.9098" stop-color="#ff0000"/><stop offset="0.9867" stop-color="#ff4000"/><stop offset="1.0000" stop-color="#ff4a00"/></linearGradient><linearGradient id="g67" x1="0" y1="0" x2="0" y2="1"><stop offset="0.0000" stop-color="#ff4f00"/><stop offset="0.0636" stop-color="#ff8000"/><stop offset="0.1287" stop-color="#ffbf00"/><stop offset="0.1721" stop-color="#ffff00"/><stop offset="0.2027" stop-color="#bfff00"/><stop offset="0.2265" stop-color="#80ff00"/><stop offset="0.2474" stop-color="#40ff00"/><stop offset="0.2677" stop-color="#00ff00"/><stop offset="0.2898" stop-color="#00ff40"/><stop offset="0.3164" stop-color="#00ff80"/><stop offset="0.3525" stop-color="#00ffbf"/><stop offset="0.4059" stop-color="#00ffff"/><stop offset="0.4830" stop-color="#00bfff"/><stop offset="0.5678" stop-color="#0080ff"/><stop offset="0.6329" stop-color="#0040ff"/><stop offset="0.6763" stop-color="#0000ff"/><stop offset="0.7069" stop-color="#4000ff"/><stop offset="0.7307" stop-color="#8000ff"/><stop offset="0.7516" stop-color="#bf00ff"/><stop offset="0.7719" stop-color="#ff00ff"/><stop offset="0.7940" stop-color="#ff00bf"/><stop offset="0.8206" stop-color="#ff0080"/><stop offset="0.8567" stop-color="#ff0040"/><stop offset="0.9101" stop-color="#ff0000"/><stop offset="0.9872" stop-color="#ff4000"/><stop offset="1.0000" stop-color="#ff4900"/></linearGradient><linearGradient id="g68" x1="0" y1="0" x2="0" y2="1"><stop offset="0.0000" stop-color="#ff4f00"/><stop offset="0.0641" stop-color="#ff8000"/><stop offset="0.1290" stop-color="#ffbf00"/><stop offset="0.1724" stop-color="#ffff00"/><stop offset="0.2028" stop-color="#bfff00"/><stop offset="0.2266" stop-color="#80ff00"/><stop offset="0.2475" stop-color="#40ff00"/><stop offset="0.2678" stop-color="#00ff00"/><stop offset="0.2898" stop-color="#00ff40"/><stop offset="0.3165" stop-color="#00ff80"/><stop offset="0.3526" stop-color="#00ffbf"/><stop offset="0.4062" stop-color="#00ffff"/><stop offset="0.4835" stop-color="#00bfff"/><stop offset="0.5683" stop-color="#0080ff"/><stop offset="0.6332" stop-color="#0040ff"/><stop offset="0.6766" stop-color="#0000ff"/><stop offset="0.7070" stop-color="#4000ff"/><stop offset="0.7308" stop-color="#8000ff"/><stop offset="0.7517" stop-color="#bf00ff"/><stop offset="0.7720" stop-color="#ff00ff"/><stop offset="0.7940" stop-color="#ff00bf"/><stop offset="0.8207" stop-color="#ff0080"/><stop offset="0.8568" stop-color="#ff0040"/><stop offset="0.9104" stop-color="#ff0000"/><stop offset="0.9877" stop-color="#ff4000"/><stop offset="1.0000" stop-color="#ff4900"/></linearGradient><linearGradient id="g69" x1="0" y1="0" x2="0" y2="1"><stop offset="0.0000" stop-color="#ff4f00"/><stop offset="0.0644" stop-color="#ff8000"/><stop offset="0.1293" stop-color="#ffbf00"/><stop offset="0.1725" stop-color="#ffff00"/><stop offset="0.2029" stop-color="#bfff00"/><stop offset="0.2267" stop-color="#80ff00"/><stop offset="0.2475" stop-color="#40ff00"/><stop offset="0.2678" stop-color="#00ff00"/><stop offset="0.2899" stop-color="#00ff40"/><stop offset="0.3165" stop-color="#00ff80"/><stop offset="0.3527" stop-color="#00ffbf"/><stop offset="0.4064" stop-color="#00ffff"/><stop offset="0.4838" stop-color="#00bfff"/><stop offset="0.5686" stop-color="#0080ff"/><stop offset="0.6335" stop-color="#0040ff"/><stop offset="0.6767" stop-color="#0000ff"/><stop offset="0.7071" stop-color="#4000ff"/><stop offset="0.7309" stop-color="#8000ff"/><stop offset="0.7517" stop-color="#bf00ff"/><stop offset="0.7720" stop-color="#ff00ff"/><stop offset="0.7940" stop-color="#ff00bf"/><stop offset="0.8207" stop-color="#ff0080"/><stop offset="0.8569" stop-color="#ff0040"/><stop offset="0.9106" stop-color="#ff0000"/><stop offset="0.9879" stop-color="#ff4000"/><stop offset="1.0000" stop-color="#ff4900"/></linearGradient><linearGradient id="g70" x1="0" y1="0" x2="0" y2="1"><stop offset="0.0000" stop-color="#ff4f00"/><stop offset="0.0646" stop-color="#ff8000"/><stop offset="0.1294" stop-color="#ffbf00"/><stop offset="0.1726" stop-color="#ffff00"/><stop offset="0.2030" stop-color="#bfff00"/><stop offset="0.2267" stop-color="#80ff00"/><stop offset="0.2476" stop-color="#40ff00"/><stop offset="0.2678" stop-color="#00ff00"/><stop offset="0.2899" stop-color="#00ff40"/><stop offset="0.3166" stop-color="#00ff80"/><stop offset="0.3528" stop-color="#00ffbf"/><stop offset="0.4065" stop-color="#00ffff"/><stop offset="0.4839" stop-color="#00bfff"/><stop offset="0.5688" stop-color="#0080ff"/><stop offset="0.6336" stop-color="#0040ff"/><stop offset="0.6768" stop-color="#0000ff"/><stop offset="0.7072" stop-color="#4000ff"/><stop offset="0.7309" stop-color="#8000ff"/><stop offset="0.7517" stop-color="#bf00ff"/><stop offset="0.7720" stop-color="#ff00ff"/><stop offset="0.7941" stop-color="#ff00bf"/><stop offset="0.8208" stop-color="#ff0080"/><stop offset="0.8570" stop-color="#ff0040"/><stop offset="0.9107" stop-color="#ff0000"/><stop offset="0.9881" stop-color="#ff4000"/><stop offset="1.0000" stop-color="#ff4800"/></linearGradient><linearGradient id="g71" x1="0" y1="0" x2="0" y2="1"><stop offset="0.0000" stop-color="#ff4f00"/><stop offset="0.0646" stop-color="#ff8000"/><stop offset="0.1294" stop-color="#ffbf00"/><stop offset="0.1726" stop-color="#ffff00"/><stop offset="0.2030" stop-color="#bfff00"/><stop offset="0.2268" stop-color="#80ff00"/><stop offset="0.2476" stop-color="#40ff00"/><stop offset="0.2678" stop-color="#00ff00"/><stop offset="0.2899" stop-color="#00ff40"/><stop offset="0.3166" stop-color="#00ff80"/><stop offset="0.3528" stop-color="#00ffbf"/><stop offset="0.4065" stop-color="#00ffff"/><stop offset="0.4839" stop-color="#00bfff"/><stop offset="0.5688" stop-color="#0080ff"/><stop offset="0.6336" stop-color="#0040ff"/><stop offset="0.6768" stop-color="#0000ff"/><stop offset="0.7072" stop-color="#4000ff"/><stop offset="0.7310" stop-color="#8000ff"/><stop offset="0.7518" stop-color="#bf00ff"/><stop offset="0.7720" stop-color="#ff00ff"/><stop offset="0.7941" stop-color="#ff00bf"/><stop offset="0.8208" stop-color="#ff0080"/><stop offset="0.8570" stop-color="#ff0040"/><stop offset="0.9107" stop-color="#ff0000"/><stop offset="0.9881" stop-color="#ff4000"/><stop offset="1.0000" stop-color="#ff4800"/></linearGradient><linearGradient id="g72" x1="0" y1="0" x2="0" y2="1"><stop offset="0.0000" stop-color="#ff4f00"/><stop offset="0.0645" stop-color="#ff8000"/><stop offset="0.1293" stop-color="#ffbf00"/><stop offset="0.1726" stop-color="#ffff00"/><stop offset="0.2029" stop-color="#bfff00"/><stop offset="0.2267" stop-color="#80ff00"/><stop offset="0.2475" stop-color="#40ff00"/><stop offset="0.2678" stop-color="#00ff00"/><stop offset="0.2899" stop-color="#00ff40"/><stop offset="0.3166" stop-color="#00ff80"/><stop offset="0.3528" stop-color="#00ffbf"/><stop offset="0.4064" stop-color="#00ffff"/><stop offset="0.4839" stop-color="#00bfff"/><stop offset="0.5687" stop-color="#0080ff"/><stop offset="0.6335" stop-color="#0040ff"/><stop offset="0.6768" stop-color="#0000ff"/><stop offset="0.7071" stop-color="#4000ff"/><stop offset="0.7309" stop-color="#8000ff"/><stop offset="0.7517" stop-color="#bf00ff"/><stop offset="0.7720" stop-color="#ff00ff"/><stop offset="0.7941" stop-color="#ff00bf"/><stop offset="0.8208" stop-color="#ff0080"/><stop offset="0.8570" stop-color="#ff0040"/><stop offset="0.9106" stop-color="#ff0000"/><stop offset="0.9880" stop-color="#ff4000"/><stop offset="1.0000" stop-color="#ff4800"/></linearGradient><linearGradient id="g73" x1="0" y1="0" x2="0" y2="1"><stop offset="0.0000" stop-color="#ff4f00"/><stop offset="0.0643" stop-color="#ff8000"/><stop offset="0.1292" stop-color="#ffbf00"/><stop offset="0.1724" stop-color="#ffff00"/><stop offset="0.2029" stop-color="#bfff00"/><stop offset="0.2267" stop-color="#80ff00"/><stop offset="0.2475" stop-color="#40ff00"/><stop offset="0.2678" stop-color="#00ff00"/><stop offset="0.2898" stop-color="#00ff40"/><stop offset="0.3165" stop-color="#00ff80"/><stop offset="0.3527" stop-color="#00ffbf"/><stop offset="0.4063" stop-color="#00ffff"/><stop offset="0.4836" stop-color="#00bfff"/><stop offset="0.5685" stop-color="#0080ff"/><stop offset="0.6334" stop-color="#0040ff"/><stop offset="0.6766" stop-color="#0000ff"/><stop offset="0.7071" stop-color="#4000ff"/><stop offset="0.7309" stop-color="#8000ff"/><stop offset="0.7517" stop-color="#bf00ff"/><stop offset="0.7720" stop-color="#ff00ff"/><stop offset="0.7940" stop-color="#ff00bf"/><stop offset="0.8207" stop-color="#ff0080"/><stop offset="0.8569" stop-color="#ff0040"/><stop offset="0.9105" stop-color="#ff0000"/><stop offset="0.9878" stop-color="#ff4000"/><stop offset="1.0000" stop-color="#ff4900"/></linearGradient><linearGradient id="g74" x1="0" y1="0" x2="0" y2="1"><stop offset="0.0000" stop-color="#ff4f00"/><stop offset="0.0639" stop-color="#ff8000"/><stop offset="0.1289" stop-color="#ffbf00"/><stop offset="0.1723" stop-color="#ffff00"/><stop offset="0.2027" stop-color="#bfff00"/><stop offset="0.2266" stop-color="#80ff00"/><stop offset="0.2474" stop-color="#40ff00"/><stop offset="0.2677" stop-color="#00ff00"/><stop offset="0.2898" stop-color="#00ff40"/><stop offset="0.3165" stop-color="#00ff80"/><stop offset="0.3526" stop-color="#00ffbf"/><stop offset="0.4061" stop-color="#00ffff"/><stop offset="0.4833" stop-color="#00bfff"/><stop offset="0.5681" stop-color="#0080ff"/><stop offset="0.6331" stop-color="#0040ff"/><stop offset="0.6764" stop-color="#0000ff"/><stop offset="0.7069" stop-color="#4000ff"/><stop offset="0.7308" stop-color="#8000ff"/><stop offset="0.7516" stop-color="#bf00ff"/><stop offset="0.7719" stop-color="#ff00ff"/><stop offset="0.7940" stop-color="#ff00bf"/><stop offset="0.8207" stop-color="#ff0080"/><stop offset="0.8568" stop-color="#ff0040"/><stop offset="0.9103" stop-color="#ff0000"/><stop offset="0.9875" stop-color="#ff4000"/><stop offset="1.0000" stop-color="#ff4900"/></linearGradient><linearGradient id="g75" x1="0" y1="0" x2="0" y2="1"><stop offset="0.0000" stop-color="#ff4f00"/><stop offset="0.0634" stop-color="#ff8000"/><stop offset="0.1285" stop-color="#ffbf00"/><stop offset="0.1720" stop-color="#ffff00"/><stop offset="0.2026" stop-color="#bfff00"/><stop offset="0.2265" stop-color="#80ff00"/><stop offset="0.2473" stop-color="#40ff00"/><stop offset="0.2677" stop-color="#00ff00"/><stop offset="0.2897" stop-color="#00ff40"/><stop offset="0.3164" stop-color="#00ff80"/><stop offset="0.3524" stop-color="#00ffbf"/><stop offset="0.4058" stop-color="#00ffff"/><stop offset="0.4828" stop-color="#00bfff"/><stop offset="0.5675" stop-color="#0080ff"/><stop offset="0.6327" stop-color="#0040ff"/><stop offset="0.6762" stop-color="#0000ff"/><stop offset="0.7068" stop-color="#4000ff"/><stop offset="0.7307" stop-color="#8000ff"/><stop offset="0.7515" stop-color="#bf00ff"/><stop offset="0.7719" stop-color="#ff00ff"/><stop offset="0.7939" stop-color="#ff00bf"/><stop offset="0.8206" stop-color="#ff0080"/><stop offset="0.8566" stop-color="#ff0040"/><stop offset="0.9100" stop-color="#ff0000"/><stop offset="0.9870" stop-color="#ff4000"/><stop offset="1.0000" stop-color="#ff4900"/></linearGradient><linearGradient id="g76" x1="0" y1="0" x2="0" y2="1"><stop offset="0.0000" stop-color="#ff5000"/><stop offset="0.0627" stop-color="#ff8000"/><stop offset="0.1280" stop-color="#ffbf00"/><stop offset="0.1717" stop-color="#ffff00"/><stop offset="0.2023" stop-color="#bfff00"/><stop offset="0.2263" stop-color="#80ff00"/><stop offset="0.2472" stop-color="#40ff00"/><stop offset="0.2676" stop-color="#00ff00"/><stop offset="0.2896" stop-color="#00ff40"/><stop offset="0.3163" stop-color="#00ff80"/><stop offset="0.3522" stop-color="#00ffbf"/><stop offset="0.4054" stop-color="#00ffff"/><stop offset="0.4821" stop-color="#00bfff"/><stop offset="0.5669" stop-color="#0080ff"/><stop offset="0.6322" stop-color="#0040ff"/><stop offset="0.6759" stop-color="#0000ff"/><stop offset="0.7065" stop-color="#4000ff"/><stop offset="0.7305" stop-color="#8000ff"/><stop offset="0.7514" stop-color="#bf00ff"/><stop offset="0.7718" stop-color="#ff00ff"/><stop offset="0.7938" stop-color="#ff00bf"/><stop offset="0.8205" stop-color="#ff0080"/><stop offset="0.8564" stop-color="#ff0040"/><stop offset="0.9096" stop-color="#ff0000"/><stop offset="0.9863" stop-color="#ff4000"/><stop offset="1.0000" stop-color="#ff4a00"/></linearGradient><linearGradient id="g77" x1="0" y1="0" x2="0" y2="1"><stop offset="0.0000" stop-color="#ff5100"/><stop offset="0.0619" stop-color="#ff8000"/><stop offset="0.1274" stop-color="#ffbf00"/><stop offset="0.1713" stop-color="#ffff00"/><stop offset="0.2021" stop-color="#bfff00"/><stop offset="0.2261" stop-color="#80ff00"/><stop offset="0.2471" stop-color="#40ff00"/><stop offset="0.2675" stop-color="#00ff00"/><stop offset="0.2895" stop-color="#00ff40"/><stop offset="0.3161" stop-color="#00ff80"/><stop offset="0.3520" stop-color="#00ffbf"/><stop offset="0.4050" stop-color="#00ffff"/><stop offset="0.4814" stop-color="#00bfff"/><stop offset="0.5661" stop-color="#0080ff"/><stop offset="0.6316" stop-color="#0040ff"/><stop offset="0.6755" stop-color="#0000ff"/><stop offset="0.7063" stop-color="#4000ff"/><stop offset="0.7303" stop-color="#8000ff"/><stop offset="0.7513" stop-color="#bf00ff"/><stop offset="0.7717" stop-color="#ff00ff"/><stop offset="0.7937" stop-color="#ff00bf"/><stop offset="0.8203" stop-color="#ff0080"/><stop offset="0.8562" stop-color="#ff0040"/><stop offset="0.9092" stop-color="#ff0000"/><stop offset="0.9856" stop-color="#ff4000"/><stop offset="1.0000" stop-color="#ff4a00"/></linearGradient><linearGradient id="g78" x1="0" y1="0" x2="0" y2="1"><stop offset="0.0000" stop-color="#ff5100"/><stop offset="0.0609" stop-color="#ff8000"/><stop offset="0.1267" stop-color="#ffbf00"/><stop offset="0.1708" stop-color="#ffff00"/><stop offset="0.2017" stop-color="#bfff00"/><stop offset="0.2259" stop-color="#80ff00"/><stop offset="0.2469" stop-color="#40ff00"/><stop offset="0.2674" stop-color="#00ff00"/><stop offset="0.2894" stop-color="#00ff40"/><stop offset="0.3160" stop-color="#00ff80"/><stop offset="0.3518" stop-color="#00ffbf"/><stop offset="0.4044" stop-color="#00ffff"/><stop offset="0.4805" stop-color="#00bfff"/><stop offset="0.5651" stop-color="#0080ff"/><stop offset="0.6309" stop-color="#0040ff"/><stop offset="0.6750" stop-color="#0000ff"/><stop offset="0.7059" stop-color="#4000ff"/><stop offset="0.7301" stop-color="#8000ff"/><stop offset="0.7511" stop-color="#bf00ff"/><stop offset="0.7716" stop-color="#ff00ff"/><stop offset="0.7936" stop-color="#ff00bf"/><stop offset="0.8202" stop-color="#ff0080"/><stop offset="0.8560" stop-color="#ff0040"/><stop offset="0.9086" stop-color="#ff0000"/><stop offset="0.9847" stop-color="#ff4000"/><stop offset="1.0000" stop-color="#ff4b00"/></linearGradient><linearGradient id="g79" x1="0" y1="0" x2="0" y2="1"><stop offset="0.0000" stop-color="#ff5200"/><stop offset="0.0598" stop-color="#ff8000"/><stop offset="0.1259" stop-color="#ffbf00"/><stop offset="0.1702" stop-color="#ffff00"/><stop offset="0.2014" stop-color="#bfff00"/><stop offset="0.2256" stop-color="#80ff00"/><stop offset="0.2467" stop-color="#40ff00"/><stop offset="0.2672" stop-color="#00ff00"/><stop offset="0.2893" stop-color="#00ff40"/><stop offset="0.3158" stop-color="#00ff80"/><stop offset="0.3515" stop-color="#00ffbf"/><stop offset="0.4039" stop-color="#00ffff"/><stop offset="0.4795" stop-color="#00bfff"/><stop offset="0.5640" stop-color="#0080ff"/><stop offset="0.6301" stop-color="#0040ff"/><stop offset="0.6744" stop-color="#0000ff"/><stop offset="0.7056" stop-color="#4000ff"/><stop offset="0.7298" stop-color="#8000ff"/><stop offset="0.7509" stop-color="#bf00ff"/><stop offset="0.7714" stop-color="#ff00ff"/><stop offset="0.7935" stop-color="#ff00bf"/><stop offset="0.8200" stop-color="#ff0080"/><stop offset="0.8557" stop-color="#ff0040"/><stop offset="0.9081" stop-color="#ff0000"/><stop offset="0.9837" stop-color="#ff4000"/><stop offset="1.0000" stop-color="#ff4c00"/></linearGradient><linearGradient id="g80" x1="0" y1="0" x2="0" y2="1"><stop offset="0.0000" stop-color="#ff5300"/><stop offset="0.0586" stop-color="#ff8000"/><stop offset="0.1249" stop-color="#ffbf00"/><stop offset="0.1696" stop-color="#ffff00"/><stop offset="0.2009" stop-color="#bfff00"/><stop offset="0.2253" stop-color="#80ff00"/><stop offset="0.2465" stop-color="#40ff00"/><stop offset="0.2670" stop-color="#00ff00"/><stop offset="0.2891" stop-color="#00ff40"/><stop offset="0.3156" stop-color="#00ff80"/><stop offset="0.3511" stop-color="#00ffbf"/><stop offset="0.4032" stop-color="#00ffff"/><stop offset="0.4784" stop-color="#00bfff"/><stop offset="0.5628" stop-color="#0080ff"/><stop offset="0.6291" stop-color="#0040ff"/><stop offset="0.6738" stop-color="#0000ff"/><stop offset="0.7051" stop-color="#4000ff"/><stop offset="0.7295" stop-color="#8000ff"/><stop offset="0.7507" stop-color="#bf00ff"/><stop offset="0.7712" stop-color="#ff00ff"/><stop offset="0.7933" stop-color="#ff00bf"/><stop offset="0.8198" stop-color="#ff0080"/><stop offset="0.8553" stop-color="#ff0040"/><stop offset="0.9074" stop-color="#ff0000"/><stop offset="0.9826" stop-color="#ff4000"/><stop offset="1.0000" stop-color="#ff4d00"/></linearGradient><linearGradient id="g81" x1="0" y1="0" x2="0" y2="1"><stop offset="0.0000" stop-color="#ff5400"/><stop offset="0.0572" stop-color="#ff8000"/><stop offset="0.1239" stop-color="#ffbf00"/><stop offset="0.1689" stop-color="#ffff00"/><stop offset="0.2004" stop-color="#bfff00"/><stop offset="0.2250" stop-color="#80ff00"/><stop offset="0.2463" stop-color="#40ff00"/><stop offset="0.2668" stop-color="#00ff00"/><stop offset="0.2889" stop-color="#00ff40"/><stop offset="0.3154" stop-color="#00ff80"/><stop offset="0.3507" stop-color="#00ffbf"/><stop offset="0.4025" stop-color="#00ffff"/><stop offset="0.4771" stop-color="#00bfff"/><stop offset="0.5614" stop-color="#0080ff"/><stop offset="0.6281" stop-color="#0040ff"/><stop offset="0.6731" stop-color="#0000ff"/><stop offset="0.7046" stop-color="#4000ff"/><stop offset="0.7292" stop-color="#8000ff"/><stop offset="0.7505" stop-color="#bf00ff"/><stop offset="0.7710" stop-color="#ff00ff"/><stop offset="0.7931" stop-color="#ff00bf"/><stop offset="0.8196" stop-color="#ff0080"/><stop offset="0.8549" stop-color="#ff0040"/><stop offset="0.9067" stop-color="#ff0000"/><stop offset="0.9813" stop-color="#ff4000"/><stop offset="1.0000" stop-color="#ff4e00"/></linearGradient><linearGradient id="g82" x1="0" y1="0" x2="0" y2="1"><stop offset="0.0000" stop-color="#ff5500"/><stop offset="0.0557" stop-color="#ff8000"/><stop offset="0.1227" stop-color="#ffbf00"/><stop offset="0.1681" stop-color="#ffff00"/><stop offset="0.1999" stop-color="#bfff00"/><stop offset="0.2246" stop-color="#80ff00"/><stop offset="0.2460" stop-color="#40ff00"/><stop offset="0.2666" stop-color="#00ff00"/><stop offset="0.2887" stop-color="#00ff40"/><stop offset="0.3151" stop-color="#00ff80"/><stop offset="0.3503" stop-color="#00ffbf"/><stop offset="0.4016" stop-color="#00ffff"/><stop offset="0.4757" stop-color="#00bfff"/><stop offset="0.5599" stop-color="#0080ff"/><stop offset="0.6269" stop-color="#0040ff"/><stop offset="0.6723" stop-color="#0000ff"/><stop offset="0.7041" stop-color="#4000ff"/><stop offset="0.7288" stop-color="#8000ff"/><stop offset="0.7502" stop-color="#bf00ff"/><stop offset="0.7708" stop-color="#ff00ff"/><stop offset="0.7929" stop-color="#ff00bf"/><stop offset="0.8193" stop-color="#ff0080"/><stop offset="0.8545" stop-color="#ff0040"/><stop offset="0.9058" stop-color="#ff0000"/><stop offset="0.9799" stop-color="#ff4000"/><stop offset="1.0000" stop-color="#ff4f00"/></linearGradient><linearGradient id="g83" x1="0" y1="0" x2="0" y2="1"><stop offset="0.0000" stop-color="#ff5600"/><stop offset="0.0540" stop-color="#ff8000"/><stop offset="0.1214" stop-color="#ffbf00"/><stop offset="0.1672" stop-color="#ffff00"/><stop offset="0.1993" stop-color="#bfff00"/><stop offset="0.2242" stop-color="#80ff00"/><stop offset="0.2457" stop-color="#40ff00"/><stop offset="0.2664" stop-color="#00ff00"/><stop offset="0.2885" stop-color="#00ff40"/><stop offset="0.3149" stop-color="#00ff80"/><stop offset="0.3499" stop-color="#00ffbf"/><stop offset="0.4008" stop-color="#00ffff"/><stop offset="0.4742" stop-color="#00bfff"/><stop offset="0.5582" stop-color="#0080ff"/><stop offset="0.6256" stop-color="#0040ff"/><stop offset="0.6714" stop-color="#0000ff"/><stop offset="0.7035" stop-color="#4000ff"/><stop offset="0.7284" stop-color="#8000ff"/><stop offset="0.7499" stop-color="#bf00ff"/><stop offset="0.7706" stop-color="#ff00ff"/><stop offset="0.7927" stop-color="#ff00bf"/><stop offset="0.8191" stop-color="#ff0080"/><stop offset="0.8541" stop-color="#ff0040"/><stop offset="0.9050" stop-color="#ff0000"/><stop offset="0.9784" stop-color="#ff4000"/><stop offset="1.0000" stop-color="#ff5000"/></linearGradient><linearGradient id="g84" x1="0" y1="0" x2="0" y2="1"><stop offset="0.0000" stop-color="#ff5800"/><stop offset="0.0522" stop-color="#ff8000"/><stop offset="0.1200" stop-color="#ffbf00"/><stop offset="0.1662" stop-color="#ffff00"/><stop offset="0.1987" stop-color="#bfff00"/><stop offset="0.2237" stop-color="#80ff00"/><stop offset="0.2454" stop-color="#40ff00"/><stop offset="0.2661" stop-color="#00ff00"/><stop offset="0.2883" stop-color="#00ff40"/><stop offset="0.3146" stop-color="#00ff80"/><stop offset="0.3494" stop-color="#00ffbf"/><stop offset="0.3998" stop-color="#00ffff"/><stop offset="0.4726" stop-color="#00bfff"/><stop offset="0.5564" stop-color="#0080ff"/><stop offset="0.6242" stop-color="#0040ff"/><stop offset="0.6704" stop-color="#0000ff"/><stop offset="0.7029" stop-color="#4000ff"/><stop offset="0.7279" stop-color="#8000ff"/><stop offset="0.7496" stop-color="#bf00ff"/><stop offset="0.7703" stop-color="#ff00ff"/><stop offset="0.7925" stop-color="#ff00bf"/><stop offset="0.8188" stop-color="#ff0080"/><stop offset="0.8536" stop-color="#ff0040"/><stop offset="0.9040" stop-color="#ff0000"/><stop offset="0.9768" stop-color="#ff4000"/><stop offset="1.0000" stop-color="#ff5100"/></linearGradient><linearGradient id="g85" x1="0" y1="0" x2="0" y2="1"><stop offset="0.0000" stop-color="#ff5900"/><stop offset="0.0502" stop-color="#ff8000"/><stop offset="0.1185" stop-color="#ffbf00"/><stop offset="0.1652" stop-color="#ffff00"/><stop offset="0.1979" stop-color="#bfff00"/><stop offset="0.2232" stop-color="#80ff00"/><stop offset="0.2450" stop-color="#40ff00"/><stop offset="0.2659" stop-color="#00ff00"/><stop offset="0.2880" stop-color="#00ff40"/><stop offset="0.3143" stop-color="#00ff80"/><stop offset="0.3488" stop-color="#00ffbf"/><stop offset="0.3988" stop-color="#00ffff"/><stop offset="0.4709" stop-color="#00bfff"/><stop offset="0.5544" stop-color="#0080ff"/><stop offset="0.6227" stop-color="#0040ff"/><stop offset="0.6694" stop-color="#0000ff"/><stop offset="0.7021" stop-color="#4000ff"/><stop offset="0.7274" stop-color="#8000ff"/><stop offset="0.7492" stop-color="#bf00ff"/><stop offset="0.7700" stop-color="#ff00ff"/><stop offset="0.7922" stop-color="#ff00bf"/><stop offset="0.8185" stop-color="#ff0080"/><stop offset="0.8530" stop-color="#ff0040"/><stop offset="0.9030" stop-color="#ff0000"/><stop offset="0.9751" stop-color="#ff4000"/><stop offset="1.0000" stop-color="#ff5300"/></linearGradient><linearGradient id="g86" x1="0" y1="0" x2="0" y2="1"><stop offset="0.0000" stop-color="#ff5b00"/><stop offset="0.0481" stop-color="#ff8000"/><stop offset="0.1168" stop-color="#ffbf00"/><stop offset="0.1640" stop-color="#ffff00"/><stop offset="0.1971" stop-color="#bfff00"/><stop offset="0.2227" stop-color="#80ff00"/><stop offset="0.2446" stop-color="#40ff00"/><stop offset="0.2655" stop-color="#00ff00"/><stop offset="0.2877" stop-color="#00ff40"/><stop offset="0.3139" stop-color="#00ff80"/><stop offset="0.3483" stop-color="#00ffbf"/><stop offset="0.3977" stop-color="#00ffff"/><stop offset="0.4690" stop-color="#00bfff"/><stop offset="0.5523" stop-color="#0080ff"/><stop offset="0.6210" stop-color="#0040ff"/><stop offset="0.6682" stop-color="#0000ff"/><stop offset="0.7013" stop-color="#4000ff"/><stop offset="0.7269" stop-color="#8000ff"/><stop offset="0.7488" stop-color="#bf00ff"/><stop offset="0.7697" stop-color="#ff00ff"/><stop offset="0.7919" stop-color="#ff00bf"/><stop offset="0.8181" stop-color="#ff0080"/><stop offset="0.8525" stop-color="#ff0040"/><stop offset="0.9019" stop-color="#ff0000"/><stop offset="0.9732" stop-color="#ff4000"/><stop offset="1.0000" stop-color="#ff5400"/></linearGradient><linearGradient id="g87" x1="0" y1="0" x2="0" y2="1"><stop offset="0.0000" stop-color="#ff5c00"/><stop offset="0.0458" stop-color="#ff8000"/><stop offset="0.1150" stop-color="#ffbf00"/><stop offset="0.1628" stop-color="#ffff00"/><stop offset="0.1963" stop-color="#bfff00"/><stop offset="0.2221" stop-color="#80ff00"/><stop offset="0.2442" stop-color="#40ff00"/><stop offset="0.2652" stop-color="#00ff00"/><stop offset="0.2874" stop-color="#00ff40"/><stop offset="0.3135" stop-color="#00ff80"/><stop offset="0.3477" stop-color="#00ffbf"/><stop offset="0.3966" stop-color="#00ffff"/><stop offset="0.4671" stop-color="#00bfff"/><stop offset="0.5500" stop-color="#0080ff"/><stop offset="0.6192" stop-color="#0040ff"/><stop offset="0.6670" stop-color="#0000ff"/><stop offset="0.7005" stop-color="#4000ff"/><stop offset="0.7263" stop-color="#8000ff"/><stop offset="0.7484" stop-color="#bf00ff"/><stop offset="0.7694" stop-color="#ff00ff"/><stop offset="0.7916" stop-color="#ff00bf"/><stop offset="0.8177" stop-color="#ff0080"/><stop offset="0.8519" stop-color="#ff0040"/><stop offset="0.9008" stop-color="#ff0000"/><stop offset="0.9713" stop-color="#ff4000"/><stop offset="1.0000" stop-color="#ff5600"/></linearGradient><linearGradient id="g88" x1="0" y1="0" x2="0" y2="1"><stop offset="0.0000" stop-color="#ff5e00"/><stop offset="0.0433" stop-color="#ff8000"/><stop offset="0.1130" stop-color="#ffbf00"/><stop offset="0.1614" stop-color="#ffff00"/><stop offset="0.1954" stop-color="#bfff00"/><stop offset="0.2214" stop-color="#80ff00"/><stop offset="0.2437" stop-color="#40ff00"/><stop offset="0.2648" stop-color="#00ff00"/><stop offset="0.2871" stop-color="#00ff40"/><stop offset="0.3131" stop-color="#00ff80"/><stop offset="0.3470" stop-color="#00ffbf"/><stop offset="0.3954" stop-color="#00ffff"/><stop offset="0.4650" stop-color="#00bfff"/><stop offset="0.5475" stop-color="#0080ff"/><stop offset="0.6172" stop-color="#0040ff"/><stop offset="0.6656" stop-color="#0000ff"/><stop offset="0.6996" stop-color="#4000ff"/><stop offset="0.7256" stop-color="#8000ff"/><stop offset="0.7479" stop-color="#bf00ff"/><stop offset="0.7690" stop-color="#ff00ff"/><stop offset="0.7913" stop-color="#ff00bf"/><stop offset="0.8173" stop-color="#ff0080"/><stop offset="0.8512" stop-color="#ff0040"/><stop offset="0.8996" stop-color="#ff0000"/><stop offset="0.9692" stop-color="#ff4000"/><stop offset="1.0000" stop-color="#ff5800"/></linearGradient><linearGradient id="g89" x1="0" y1="0" x2="0" y2="1"><stop offset="0.0000" stop-color="#ff6000"/><stop offset="0.0407" stop-color="#ff8000"/><stop offset="0.1109" stop-color="#ffbf00"/><stop offset="0.1600" stop-color="#ffff00"/><stop offset="0.1944" stop-color="#bfff00"/><stop offset="0.2207" stop-color="#80ff00"/><stop offset="0.2432" stop-color="#40ff00"/><stop offset="0.2644" stop-color="#00ff00"/><stop offset="0.2867" stop-color="#00ff40"/><stop offset="0.3127" stop-color="#00ff80"/><stop offset="0.3463" stop-color="#00ffbf"/><stop offset="0.3941" stop-color="#00ffff"/><stop offset="0.4628" stop-color="#00bfff"/><stop offset="0.5449" stop-color="#0080ff"/><stop offset="0.6151" stop-color="#0040ff"/><stop offset="0.6642" stop-color="#0000ff"/><stop offset="0.6986" stop-color="#4000ff"/><stop offset="0.7249" stop-color="#8000ff"/><stop offset="0.7474" stop-color="#bf00ff"/><stop offset="0.7686" stop-color="#ff00ff"/><stop offset="0.7909" stop-color="#ff00bf"/><stop offset="0.8169" stop-color="#ff0080"/><stop offset="0.8505" stop-color="#ff0040"/><stop offset="0.8983" stop-color="#ff0000"/><stop offset="0.9670" stop-color="#ff4000"/><stop offset="1.0000" stop-color="#ff5a00"/></linearGradient><linearGradient id="g90" x1="0" y1="0" x2="0" y2="1"><stop offset="0.0000" stop-color="#ff6200"/><stop offset="0.0379" stop-color="#ff8000"/><stop offset="0.1086" stop-color="#ffbf00"/><stop offset="0.1584" stop-color="#ffff00"/><stop offset="0.1933" stop-color="#bfff00"/><stop offset="0.2200" stop-color="#80ff00"/><stop offset="0.2426" stop-color="#40ff00"/><stop offset="0.2640" stop-color="#00ff00"/><stop offset="0.2863" stop-color="#00ff40"/><stop offset="0.3122" stop-color="#00ff80"/><stop offset="0.3456" stop-color="#00ffbf"/><stop offset="0.3928" stop-color="#00ffff"/><stop offset="0.4605" stop-color="#00bfff"/><stop offset="0.5421" stop-color="#0080ff"/><stop offset="0.6128" stop-color="#0040ff"/><stop offset="0.6626" stop-color="#0000ff"/><stop offset="0.6975" stop-color="#4000ff"/><stop offset="0.7242" stop-color="#8000ff"/><stop offset="0.7468" stop-color="#bf00ff"/><stop offset="0.7682" stop-color="#ff00ff"/><stop offset="0.7905" stop-color="#ff00bf"/><stop offset="0.8164" stop-color="#ff0080"/><stop offset="0.8498" stop-color="#ff0040"/><stop offset="0.8970" stop-color="#ff0000"/><stop offset="0.9647" stop-color="#ff4000"/><stop offset="1.0000" stop-color="#ff5c00"/></linearGradient><linearGradient id="g91" x1="0" y1="0" x2="0" y2="1"><stop offset="0.0000" stop-color="#ff6400"/><stop offset="0.0350" stop-color="#ff8000"/><stop offset="0.1062" stop-color="#ffbf00"/><stop offset="0.1567" stop-color="#ffff00"/><stop offset="0.1921" stop-color="#bfff00"/><stop offset="0.2191" stop-color="#80ff00"/><stop offset="0.2420" stop-color="#40ff00"/><stop offset="0.2635" stop-color="#00ff00"/><stop offset="0.2859" stop-color="#00ff40"/><stop offset="0.3117" stop-color="#00ff80"/><stop offset="0.3449" stop-color="#00ffbf"/><stop offset="0.3914" stop-color="#00ffff"/><stop offset="0.4581" stop-color="#00bfff"/><stop offset="0.5392" stop-color="#0080ff"/><stop offset="0.6104" stop-color="#0040ff"/><stop offset="0.6609" stop-color="#0000ff"/><stop offset="0.6963" stop-color="#4000ff"/><stop offset="0.7233" stop-color="#8000ff"/><stop offset="0.7462" stop-color="#bf00ff"/><stop offset="0.7677" stop-color="#ff00ff"/><stop offset="0.7901" stop-color="#ff00bf"/><stop offset="0.8159" stop-color="#ff0080"/><stop offset="0.8491" stop-color="#ff0040"/><stop offset="0.8956" stop-color="#ff0000"/><stop offset="0.9623" stop-color="#ff4000"/><stop offset="1.0000" stop-color="#ff5e00"/></linearGradient><linearGradient id="g92" x1="0" y1="0" x2="0" y2="1"><stop offset="0.0000" stop-color="#ff6700"/><stop offset="0.0319" stop-color="#ff8000"/><stop offset="0.1036" stop-color="#ffbf00"/><stop offset="0.1548" stop-color="#ffff00"/><stop offset="0.1908" stop-color="#bfff00"/><stop offset="0.2183" stop-color="#80ff00"/><stop offset="0.2414" stop-color="#40ff00"/><stop offset="0.2630" stop-color="#00ff00"/><stop offset="0.2855" stop-color="#00ff40"/><stop offset="0.3112" stop-color="#00ff80"/><stop offset="0.3441" stop-color="#00ffbf"/><stop offset="0.3900" stop-color="#00ffff"/><stop offset="0.4556" stop-color="#00bfff"/><stop offset="0.5361" stop-color="#0080ff"/><stop offset="0.6078" stop-color="#0040ff"/><stop offset="0.6590" stop-color="#0000ff"/><stop offset="0.6950" stop-color="#4000ff"/><stop offset="0.7225" stop-color="#8000ff"/><stop offset="0.7456" stop-color="#bf00ff"/><stop offset="0.7672" stop-color="#ff00ff"/><stop offset="0.7896" stop-color="#ff00bf"/><stop offset="0.8154" stop-color="#ff0080"/><stop offset="0.8483" stop-color="#ff0040"/><stop offset="0.8942" stop-color="#ff0000"/><stop offset="0.9598" stop-color="#ff4000"/><stop offset="1.0000" stop-color="#ff6000"/></linearGradient><linearGradient id="g93" x1="0" y1="0" x2="0" y2="1"><stop offset="0.0000" stop-color="#ff6900"/><stop offset="0.0286" stop-color="#ff8000"/><stop offset="0.1008" stop-color="#ffbf00"/><stop offset="0.1529" stop-color="#ffff00"/><stop offset="0.1895" stop-color="#bfff00"/><stop offset="0.2173" stop-color="#80ff00"/><stop offset="0.2407" stop-color="#40ff00"/><stop offset="0.2625" stop-color="#00ff00"/><stop offset="0.2850" stop-color="#00ff40"/><stop offset="0.3107" stop-color="#00ff80"/><stop offset="0.3432" stop-color="#00ffbf"/><stop offset="0.3885" stop-color="#00ffff"/><stop offset="0.4531" stop-color="#00bfff"/><stop offset="0.5328" stop-color="#0080ff"/><stop offset="0.6050" stop-color="#0040ff"/><stop offset="0.6571" stop-color="#0000ff"/><stop offset="0.6937" stop-color="#4000ff"/><stop offset="0.7215" stop-color="#8000ff"/><stop offset="0.7449" stop-color="#bf00ff"/><stop offset="0.7667" stop-color="#ff00ff"/><stop offset="0.7892" stop-color="#ff00bf"/><stop offset="0.8149" stop-color="#ff0080"/><stop offset="0.8474" stop-color="#ff0040"/><stop offset="0.8927" stop-color="#ff0000"/><stop offset="0.9573" stop-color="#ff4000"/><stop offset="1.0000" stop-color="#ff6200"/></linearGradient><linearGradient id="g94" x1="0" y1="0" x2="0" y2="1"><stop offset="0.0000" stop-color="#ff6c00"/><stop offset="0.0252" stop-color="#ff8000"/><stop offset="0.0978" stop-color="#ffbf00"/><stop offset="0.1507" stop-color="#ffff00"/><stop offset="0.1880" stop-color="#bfff00"/><stop offset="0.2163" stop-color="#80ff00"/><stop offset="0.2399" stop-color="#40ff00"/><stop offset="0.2619" stop-color="#00ff00"/><stop offset="0.2844" stop-color="#00ff40"/><stop offset="0.3101" stop-color="#00ff80"/><stop offset="0.3424" stop-color="#00ffbf"/><stop offset="0.3869" stop-color="#00ffff"/><stop offset="0.4504" stop-color="#00bfff"/><stop offset="0.5294" stop-color="#0080ff"/><stop offset="0.6020" stop-color="#0040ff"/><stop offset="0.6549" stop-color="#0000ff"/><stop offset="0.6922" stop-color="#4000ff"/><stop offset="0.7205" stop-color="#8000ff"/><stop offset="0.7441" stop-color="#bf00ff"/><stop offset="0.7661" stop-color="#ff00ff"/><stop offset="0.7886" stop-color="#ff00bf"/><stop offset="0.8143" stop-color="#ff0080"/><stop offset="0.8466" stop-color="#ff0040"/><stop offset="0.8911" stop-color="#ff0000"/><stop offset="0.9546" stop-color="#ff4000"/><stop offset="1.0000" stop-color="#ff6500"/></linearGradient><linearGradient id="g95" x1="0" y1="0" x2="0" y2="1"><stop offset="0.0000" stop-color="#ff6e00"/><stop offset="0.0216" stop-color="#ff8000"/><stop offset="0.0946" stop-color="#ffbf00"/><stop offset="0.1485" stop-color="#ffff00"/><stop offset="0.1865" stop-color="#bfff00"/><stop offset="0.2152" stop-color="#80ff00"/><stop offset="0.2391" stop-color="#40ff00"/><stop offset="0.2613" stop-color="#00ff00"/><stop offset="0.2839" stop-color="#00ff40"/><stop offset="0.3094" stop-color="#00ff80"/><stop offset="0.3414" stop-color="#00ffbf"/><stop offset="0.3853" stop-color="#00ffff"/><stop offset="0.4476" stop-color="#00bfff"/><stop offset="0.5258" stop-color="#0080ff"/><stop offset="0.5988" stop-color="#0040ff"/><stop offset="0.6527" stop-color="#0000ff"/><stop offset="0.6906" stop-color="#4000ff"/><stop offset="0.7194" stop-color="#8000ff"/><stop offset="0.7433" stop-color="#bf00ff"/><stop offset="0.7655" stop-color="#ff00ff"/><stop offset="0.7881" stop-color="#ff00bf"/><stop offset="0.8136" stop-color="#ff0080"/><stop offset="0.8456" stop-color="#ff0040"/><stop offset="0.8895" stop-color="#ff0000"/><stop offset="0.9518" stop-color="#ff4000"/><stop offset="1.0000" stop-color="#ff6800"/></linearGradient><linearGradient id="g96" x1="0" y1="0" x2="0" y2="1"><stop offset="0.0000" stop-color="#ff7100"/><stop offset="0.0178" stop-color="#ff8000"/><stop offset="0.0913" stop-color="#ffbf00"/><stop offset="0.1460" stop-color="#ffff00"/><stop offset="0.1848" stop-color="#bfff00"/><stop offset="0.2140" stop-color="#80ff00"/><stop offset="0.2383" stop-color="#40ff00"/><stop offset="0.2606" stop-color="#00ff00"/><stop offset="0.2833" stop-color="#00ff40"/><stop offset="0.3088" stop-color="#00ff80"/><stop offset="0.3405" stop-color="#00ffbf"/><stop offset="0.3837" stop-color="#00ffff"/><stop offset="0.4448" stop-color="#00bfff"/><stop offset="0.5220" stop-color="#0080ff"/><stop offset="0.5955" stop-color="#0040ff"/><stop offset="0.6502" stop-color="#0000ff"/><stop offset="0.6890" stop-color="#4000ff"/><stop offset="0.7182" stop-color="#8000ff"/><stop offset="0.7425" stop-color="#bf00ff"/><stop offset="0.7648" stop-color="#ff00ff"/><stop offset="0.7875" stop-color="#ff00bf"/><stop offset="0.8130" stop-color="#ff0080"/><stop offset="0.8447" stop-color="#ff0040"/><stop offset="0.8879" stop-color="#ff0000"/><stop offset="0.9490" stop-color="#ff4000"/><stop offset="1.0000" stop-color="#ff6b00"/></linearGradient><linearGradient id="g97" x1="0" y1="0" x2="0" y2="1"><stop offset="0.0000" stop-color="#ff7400"/><stop offset="0.0139" stop-color="#ff8000"/><stop offset="0.0877" stop-color="#ffbf00"/><stop offset="0.1434" stop-color="#ffff00"/><stop offset="0.1829" stop-color="#bfff00"/><stop offset="0.2127" stop-color="#80ff00"/><stop offset="0.2373" stop-color="#40ff00"/><stop offset="0.2599" stop-color="#00ff00"/><stop offset="0.2826" stop-color="#00ff40"/><stop offset="0.3081" stop-color="#00ff80"/><stop offset="0.3395" stop-color="#00ffbf"/><stop offset="0.3820" stop-color="#00ffff"/><stop offset="0.4418" stop-color="#00bfff"/><stop offset="0.5181" stop-color="#0080ff"/><stop offset="0.5919" stop-color="#0040ff"/><stop offset="0.6476" stop-color="#0000ff"/><stop offset="0.6871" stop-color="#4000ff"/><stop offset="0.7169" stop-color="#8000ff"/><stop offset="0.7415" stop-color="#bf00ff"/><stop offset="0.7640" stop-color="#ff00ff"/><stop offset="0.7868" stop-color="#ff00bf"/><stop offset="0.8123" stop-color="#ff0080"/><stop offset="0.8437" stop-color="#ff0040"/><stop offset="0.8862" stop-color="#ff0000"/><stop offset="0.9460" stop-color="#ff4000"/><stop offset="1.0000" stop-color="#ff6e00"/></linearGradient><linearGradient id="g98" x1="0" y1="0" x2="0" y2="1"><stop offset="0.0000" stop-color="#ff7800"/><stop offset="0.0098" stop-color="#ff8000"/><stop offset="0.0839" stop-color="#ffbf00"/><stop offset="0.1406" stop-color="#ffff00"/><stop offset="0.1810" stop-color="#bfff00"/><stop offset="0.2113" stop-color="#80ff00"/><stop offset="0.2363" stop-color="#40ff00"/><stop offset="0.2591" stop-color="#00ff00"/><stop offset="0.2819" stop-color="#00ff40"/><stop offset="0.3073" stop-color="#00ff80"/><stop offset="0.3384" stop-color="#00ffbf"/><stop offset="0.3802" stop-color="#00ffff"/><stop offset="0.4388" stop-color="#00bfff"/><stop offset="0.5140" stop-color="#0080ff"/><stop offset="0.5881" stop-color="#0040ff"/><stop offset="0.6448" stop-color="#0000ff"/><stop offset="0.6852" stop-color="#4000ff"/><stop offset="0.7155" stop-color="#8000ff"/><stop offset="0.7405" stop-color="#bf00ff"/><stop offset="0.7633" stop-color="#ff00ff"/><stop offset="0.7861" stop-color="#ff00bf"/><stop offset="0.8115" stop-color="#ff0080"/><stop offset="0.8426" stop-color="#ff0040"/><stop offset="0.8844" stop-color="#ff0000"/><stop offset="0.9430" stop-color="#ff4000"/><stop offset="1.0000" stop-color="#ff7100"/></linearGradient><linearGradient id="g99" x1="0" y1="0" x2="0" y2="1"><stop offset="0.0000" stop-color="#ff7b00"/><stop offset="0.0056" stop-color="#ff8000"/><stop offset="0.0799" stop-color="#ffbf00"/><stop offset="0.1376" stop-color="#ffff00"/><stop offset="0.1789" stop-color="#bfff00"/><stop offset="0.2098" stop-color="#80ff00"/><stop offset="0.2352" stop-color="#40ff00"/><stop offset="0.2582" stop-color="#00ff00"/><stop offset="0.2812" stop-color="#00ff40"/><stop offset="0.3065" stop-color="#00ff80"/><stop offset="0.3373" stop-color="#00ffbf"/><stop offset="0.3784" stop-color="#00ffff"/><stop offset="0.4358" stop-color="#00bfff"/><stop offset="0.5098" stop-color="#0080ff"/><stop offset="0.5841" stop-color="#0040ff"/><stop offset="0.6418" stop-color="#0000ff"/><stop offset="0.6831" stop-color="#4000ff"/><stop offset="0.7140" stop-color="#8000ff"/><stop offset="0.7394" stop-color="#bf00ff"/><stop offset="0.7624" stop-color="#ff00ff"/><stop offset="0.7854" stop-color="#ff00bf"/><stop offset="0.8107" stop-color="#ff0080"/><stop offset="0.8415" stop-color="#ff0040"/><stop offset="0.8826" stop-color="#ff0000"/><stop offset="0.9400" stop-color="#ff4000"/><stop offset="1.0000" stop-color="#ff7400"/></linearGradient><linearGradient id="g100" x1="0" y1="0" x2="0" y2="1"><stop offset="0.0000" stop-color="#ff7e00"/><stop offset="0.0012" stop-color="#ff8000"/><stop offset="0.0756" stop-color="#ffbf00"/><stop offset="0.1344" stop-color="#ffff00"/><stop offset="0.1766" stop-color="#bfff00"/><stop offset="0.2082" stop-color="#80ff00"/><stop offset="0.2340" stop-color="#40ff00"/><stop offset="0.2573" stop-color="#00ff00"/><stop offset="0.2804" stop-color="#00ff40"/><stop offset="0.3057" stop-color="#00ff80"/><stop offset="0.3362" stop-color="#00ffbf"/><stop offset="0.3765" stop-color="#00ffff"/><stop offset="0.4326" stop-color="#00bfff"/><stop offset="0.5054" stop-color="#0080ff"/><stop offset="0.5798" stop-color="#0040ff"/><stop offset="0.6386" stop-color="#0000ff"/><stop offset="0.6808" stop-color="#4000ff"/><stop offset="0.7124" stop-color="#8000ff"/><stop offset="0.7382" stop-color="#bf00ff"/><stop offset="0.7615" stop-color="#ff00ff"/><stop offset="0.7846" stop-color="#ff00bf"/><stop offset="0.8099" stop-color="#ff0080"/><stop offset="0.8404" stop-color="#ff0040"/><stop offset="0.8807" stop-color="#ff0000"/><stop offset="0.9368" stop-color="#ff4000"/><stop offset="1.0000" stop-color="#ff7800"/></linearGradient><linearGradient id="g101" x1="0" y1="0" x2="0" y2="1"><stop offset="0.0000" stop-color="#ff8200"/><stop offset="0.0711" stop-color="#ffbf00"/><stop offset="0.1309" stop-color="#ffff00"/><stop offset="0.1742" stop-color="#bfff00"/><stop offset="0.2065" stop-color="#80ff00"/><stop offset="0.2328" stop-color="#40ff00"/><stop offset="0.2563" stop-color="#00ff00"/><stop offset="0.2795" stop-color="#00ff40"/><stop offset="0.3047" stop-color="#00ff80"/><stop offset="0.3350" stop-color="#00ffbf"/><stop offset="0.3746" stop-color="#00ffff"/><stop offset="0.4294" stop-color="#00bfff"/><stop offset="0.5009" stop-color="#0080ff"/><stop offset="0.5753" stop-color="#0040ff"/><stop offset="0.6351" stop-color="#0000ff"/><stop offset="0.6784" stop-color="#4000ff"/><stop offset="0.7107" stop-color="#8000ff"/><stop offset="0.7370" stop-color="#bf00ff"/><stop offset="0.7605" stop-color="#ff00ff"/><stop offset="0.7837" stop-color="#ff00bf"/><stop offset="0.8089" stop-color="#ff0080"/><stop offset="0.8392" stop-color="#ff0040"/><stop offset="0.8788" stop-color="#ff0000"/><stop offset="0.9336" stop-color="#ff4000"/><stop offset="1.0000" stop-color="#ff7b00"/></linearGradient><linearGradient id="g102" x1="0" y1="0" x2="0" y2="1"><stop offset="0.0000" stop-color="#ff8600"/><stop offset="0.0664" stop-color="#ffbf00"/><stop offset="0.1272" stop-color="#ffff00"/><stop offset="0.1715" stop-color="#bfff00"/><stop offset="0.2046" stop-color="#80ff00"/><stop offset="0.2314" stop-color="#40ff00"/><stop offset="0.2552" stop-color="#00ff00"/><stop offset="0.2786" stop-color="#00ff40"/><stop offset="0.3038" stop-color="#00ff80"/><stop offset="0.3337" stop-color="#00ffbf"/><stop offset="0.3726" stop-color="#00ffff"/><stop offset="0.4261" stop-color="#00bfff"/><stop offset="0.4962" stop-color="#0080ff"/><stop offset="0.5706" stop-color="#0040ff"/><stop offset="0.6314" stop-color="#0000ff"/><stop offset="0.6757" stop-color="#4000ff"/><stop offset="0.7088" stop-color="#8000ff"/><stop offset="0.7356" stop-color="#bf00ff"/><stop offset="0.7594" stop-color="#ff00ff"/><stop offset="0.7828" stop-color="#ff00bf"/><stop offset="0.8080" stop-color="#ff0080"/><stop offset="0.8379" stop-color="#ff0040"/><stop offset="0.8768" stop-color="#ff0000"/><stop offset="0.9303" stop-color="#ff4000"/><stop offset="1.0000" stop-color="#ff7f00"/></linearGradient><linearGradient id="g103" x1="0" y1="0" x2="0" y2="1"><stop offset="0.0000" stop-color="#ff8a00"/><stop offset="0.0613" stop-color="#ffbf00"/><stop offset="0.1232" stop-color="#ffff00"/><stop offset="0.1687" stop-color="#bfff00"/><stop offset="0.2026" stop-color="#80ff00"/><stop offset="0.2299" stop-color="#40ff00"/><stop offset="0.2541" stop-color="#00ff00"/><stop offset="0.2776" stop-color="#00ff40"/><stop offset="0.3028" stop-color="#00ff80"/><stop offset="0.3324" stop-color="#00ffbf"/><stop offset="0.3706" stop-color="#00ffff"/><stop offset="0.4227" stop-color="#00bfff"/><stop offset="0.4914" stop-color="#0080ff"/><stop offset="0.5655" stop-color="#0040ff"/><stop offset="0.6274" stop-color="#0000ff"/><stop offset="0.6729" stop-color="#4000ff"/><stop offset="0.7068" stop-color="#8000ff"/><stop offset="0.7341" stop-color="#bf00ff"/><stop offset="0.7583" stop-color="#ff00ff"/><stop offset="0.7818" stop-color="#ff00bf"/><stop offset="0.8070" stop-color="#ff0080"/><stop offset="0.8366" stop-color="#ff0040"/><stop offset="0.8748" stop-color="#ff0000"/><stop offset="0.9269" stop-color="#ff4000"/><stop offset="0.9956" stop-color="#ff8000"/><stop offset="1.0000" stop-color="#ff8300"/></linearGradient><linearGradient id="g104" x1="0" y1="0" x2="0" y2="1"><stop offset="0.0000" stop-color="#ff8f00"/><stop offset="0.0561" stop-color="#ffbf00"/><stop offset="0.1190" stop-color="#ffff00"/><stop offset="0.1657" stop-color="#bfff00"/><stop offset="0.2004" stop-color="#80ff00"/><stop offset="0.2283" stop-color="#40ff00"/><stop offset="0.2528" stop-color="#00ff00"/><stop offset="0.2765" stop-color="#00ff40"/><stop offset="0.3017" stop-color="#00ff80"/><stop offset="0.3310" stop-color="#00ffbf"/><stop offset="0.3685" stop-color="#00ffff"/><stop offset="0.4193" stop-color="#00bfff"/><stop offset="0.4864" stop-color="#0080ff"/><stop offset="0.5603" stop-color="#0040ff"/><stop offset="0.6232" stop-color="#0000ff"/><stop offset="0.6698" stop-color="#4000ff"/><stop offset="0.7046" stop-color="#8000ff"/><stop offset="0.7325" stop-color="#bf00ff"/><stop offset="0.7570" stop-color="#ff00ff"/><stop offset="0.7807" stop-color="#ff00bf"/><stop offset="0.8059" stop-color="#ff0080"/><stop offset="0.8352" stop-color="#ff0040"/><stop offset="0.8727" stop-color="#ff0000"/><stop offset="0.9235" stop-color="#ff4000"/><stop offset="0.9906" stop-color="#ff8000"/><stop offset="1.0000" stop-color="#ff8800"/></linearGradient><linearGradient id="g105" x1="0" y1="0" x2="0" y2="1"><stop offset="0.0000" stop-color="#ff9300"/><stop offset="0.0505" stop-color="#ffbf00"/><stop offset="0.1144" stop-color="#ffff00"/><stop offset="0.1623" stop-color="#bfff00"/><stop offset="0.1981" stop-color="#80ff00"/><stop offset="0.2266" stop-color="#40ff00"/><stop offset="0.2515" stop-color="#00ff00"/><stop offset="0.2753" stop-color="#00ff40"/><stop offset="0.3005" stop-color="#00ff80"/><stop offset="0.3296" stop-color="#00ffbf"/><stop offset="0.3663" stop-color="#00ffff"/><stop offset="0.4158" stop-color="#00bfff"/><stop offset="0.4813" stop-color="#0080ff"/><stop offset="0.5547" stop-color="#0040ff"/><stop offset="0.6186" stop-color="#0000ff"/><stop offset="0.6665" stop-color="#4000ff"/><stop offset="0.7023" stop-color="#8000ff"/><stop offset="0.7308" stop-color="#bf00ff"/><stop offset="0.7557" stop-color="#ff00ff"/><stop offset="0.7795" stop-color="#ff00bf"/><stop offset="0.8047" stop-color="#ff0080"/><stop offset="0.8338" stop-color="#ff0040"/><stop offset="0.8705" stop-color="#ff0000"/><stop offset="0.9200" stop-color="#ff4000"/><stop offset="0.9855" stop-color="#ff8000"/><stop offset="1.0000" stop-color="#ff8c00"/></linearGradient><linearGradient id="g106" x1="0" y1="0" x2="0" y2="1"><stop offset="0.0000" stop-color="#ff9800"/><stop offset="0.0447" stop-color="#ffbf00"/><stop offset="0.1095" stop-color="#ffff00"/><stop offset="0.1588" stop-color="#bfff00"/><stop offset="0.1955" stop-color="#80ff00"/><stop offset="0.2247" stop-color="#40ff00"/><stop offset="0.2500" stop-color="#00ff00"/><stop offset="0.2741" stop-color="#00ff40"/><stop offset="0.2992" stop-color="#00ff80"/><stop offset="0.3280" stop-color="#00ffbf"/><stop offset="0.3641" stop-color="#00ffff"/><stop offset="0.4123" stop-color="#00bfff"/><stop offset="0.4761" stop-color="#0080ff"/><stop offset="0.5489" stop-color="#0040ff"/><stop offset="0.6137" stop-color="#0000ff"/><stop offset="0.6630" stop-color="#4000ff"/><stop offset="0.6997" stop-color="#8000ff"/><stop offset="0.7289" stop-color="#bf00ff"/><stop offset="0.7542" stop-color="#ff00ff"/><stop offset="0.7783" stop-color="#ff00bf"/><stop offset="0.8034" stop-color="#ff0080"/><stop offset="0.8322" stop-color="#ff0040"/><stop offset="0.8683" stop-color="#ff0000"/><stop offset="0.9165" stop-color="#ff4000"/><stop offset="0.9803" stop-color="#ff8000"/><stop offset="1.0000" stop-color="#ff9100"/></linearGradient><linearGradient id="g107" x1="0" y1="0" x2="0" y2="1"><stop offset="0.0000" stop-color="#ff9d00"/><stop offset="0.0385" stop-color="#ffbf00"/><stop offset="0.1043" stop-color="#ffff00"/><stop offset="0.1549" stop-color="#bfff00"/><stop offset="0.1927" stop-color="#80ff00"/><stop offset="0.2226" stop-color="#40ff00"/><stop offset="0.2484" stop-color="#00ff00"/><stop offset="0.2727" stop-color="#00ff40"/><stop offset="0.2979" stop-color="#00ff80"/><stop offset="0.3264" stop-color="#00ffbf"/><stop offset="0.3618" stop-color="#00ffff"/><stop offset="0.4087" stop-color="#00bfff"/><stop offset="0.4708" stop-color="#0080ff"/><stop offset="0.5427" stop-color="#0040ff"/><stop offset="0.6085" stop-color="#0000ff"/><stop offset="0.6591" stop-color="#4000ff"/><stop offset="0.6969" stop-color="#8000ff"/><stop offset="0.7268" stop-color="#bf00ff"/><stop offset="0.7526" stop-color="#ff00ff"/><stop offset="0.7769" stop-color="#ff00bf"/><stop offset="0.8021" stop-color="#ff0080"/><stop offset="0.8306" stop-color="#ff0040"/><stop offset="0.8660" stop-color="#ff0000"/><stop offset="0.9129" stop-color="#ff4000"/><stop offset="0.9750" stop-color="#ff8000"/><stop offset="1.0000" stop-color="#ff9600"/></linearGradient><linearGradient id="g108" x1="0" y1="0" x2="0" y2="1"><stop offset="0.0000" stop-color="#ffa300"/><stop offset="0.0321" stop-color="#ffbf00"/><stop offset="0.0987" stop-color="#ffff00"/><stop offset="0.1507" stop-color="#bfff00"/><stop offset="0.1897" stop-color="#80ff00"/><stop offset="0.2204" stop-color="#40ff00"/><stop offset="0.2467" stop-color="#00ff00"/><stop offset="0.2712" stop-color="#00ff40"/><stop offset="0.2964" stop-color="#00ff80"/><stop offset="0.3247" stop-color="#00ffbf"/><stop offset="0.3594" stop-color="#00ffff"/><stop offset="0.4050" stop-color="#00bfff"/><stop offset="0.4653" stop-color="#0080ff"/><stop offset="0.5363" stop-color="#0040ff"/><stop offset="0.6029" stop-color="#0000ff"/><stop offset="0.6549" stop-color="#4000ff"/><stop offset="0.6939" stop-color="#8000ff"/><stop offset="0.7246" stop-color="#bf00ff"/><stop offset="0.7509" stop-color="#ff00ff"/><stop offset="0.7754" stop-color="#ff00bf"/><stop offset="0.8006" stop-color="#ff0080"/><stop offset="0.8289" stop-color="#ff0040"/><stop offset="0.8636" stop-color="#ff0000"/><stop offset="0.9092" stop-color="#ff4000"/><stop offset="0.9695" stop-color="#ff8000"/><stop offset="1.0000" stop-color="#ff9b00"/></linearGradient><linearGradient id="g109" x1="0" y1="0" x2="0" y2="1"><stop offset="0.0000" stop-color="#ffa900"/><stop offset="0.0255" stop-color="#ffbf00"/><stop offset="0.0926" stop-color="#ffff00"/><stop offset="0.1461" stop-color="#bfff00"/><stop offset="0.1864" stop-color="#80ff00"/><stop offset="0.2179" stop-color="#40ff00"/><stop offset="0.2448" stop-color="#00ff00"/><stop offset="0.2696" stop-color="#00ff40"/><stop offset="0.2949" stop-color="#00ff80"/><stop offset="0.3229" stop-color="#00ffbf"/><stop offset="0.3570" stop-color="#00ffff"/><stop offset="0.4012" stop-color="#00bfff"/><stop offset="0.4598" stop-color="#0080ff"/><stop offset="0.5297" stop-color="#0040ff"/><stop offset="0.5968" stop-color="#0000ff"/><stop offset="0.6503" stop-color="#4000ff"/><stop offset="0.6906" stop-color="#8000ff"/><stop offset="0.7221" stop-color="#bf00ff"/><stop offset="0.7490" stop-color="#ff00ff"/><stop offset="0.7738" stop-color="#ff00bf"/><stop offset="0.7991" stop-color="#ff0080"/><stop offset="0.8271" stop-color="#ff0040"/><stop offset="0.8612" stop-color="#ff0000"/><stop offset="0.9054" stop-color="#ff4000"/><stop offset="0.9639" stop-color="#ff8000"/><stop offset="1.0000" stop-color="#ffa100"/></linearGradient><linearGradient id="g110" x1="0" y1="0" x2="0" y2="1"><stop offset="0.0000" stop-color="#ffaf00"/><stop offset="0.0185" stop-color="#ffbf00"/><stop offset="0.0862" stop-color="#ffff00"/><stop offset="0.1411" stop-color="#bfff00"/><stop offset="0.1827" stop-color="#80ff00"/><stop offset="0.2153" stop-color="#40ff00"/><stop offset="0.2427" stop-color="#00ff00"/><stop offset="0.2679" stop-color="#00ff40"/><stop offset="0.2932" stop-color="#00ff80"/><stop offset="0.3210" stop-color="#00ffbf"/><stop offset="0.3544" stop-color="#00ffff"/><stop offset="0.3974" stop-color="#00bfff"/><stop offset="0.4541" stop-color="#0080ff"/><stop offset="0.5227" stop-color="#0040ff"/><stop offset="0.5904" stop-color="#0000ff"/><stop offset="0.6453" stop-color="#4000ff"/><stop offset="0.6869" stop-color="#8000ff"/><stop offset="0.7195" stop-color="#bf00ff"/><stop offset="0.7469" stop-color="#ff00ff"/><stop offset="0.7721" stop-color="#ff00bf"/><stop offset="0.7974" stop-color="#ff0080"/><stop offset="0.8252" stop-color="#ff0040"/><stop offset="0.8586" stop-color="#ff0000"/><stop offset="0.9016" stop-color="#ff4000"/><stop offset="0.9583" stop-color="#ff8000"/><stop offset="1.0000" stop-color="#ffa700"/></linearGradient><linearGradient id="g111" x1="0" y1="0" x2="0" y2="1"><stop offset="0.0000" stop-color="#ffb500"/><stop offset="0.0112" stop-color="#ffbf00"/><stop offset="0.0793" stop-color="#ffff00"/><stop offset="0.1357" stop-color="#bfff00"/><stop offset="0.1788" stop-color="#80ff00"/><stop offset="0.2123" stop-color="#40ff00"/><stop offset="0.2404" stop-color="#00ff00"/><stop offset="0.2659" stop-color="#00ff40"/><stop offset="0.2914" stop-color="#00ff80"/><stop offset="0.3190" stop-color="#00ffbf"/><stop offset="0.3517" stop-color="#00ffff"/><stop offset="0.3935" stop-color="#00bfff"/><stop offset="0.4483" stop-color="#0080ff"/><stop offset="0.5154" stop-color="#0040ff"/><stop offset="0.5835" stop-color="#0000ff"/><stop offset="0.6399" stop-color="#4000ff"/><stop offset="0.6830" stop-color="#8000ff"/><stop offset="0.7165" stop-color="#bf00ff"/><stop offset="0.7446" stop-color="#ff00ff"/><stop offset="0.7701" stop-color="#ff00bf"/><stop offset="0.7956" stop-color="#ff0080"/><stop offset="0.8232" stop-color="#ff0040"/><stop offset="0.8559" stop-color="#ff0000"/><stop offset="0.8977" stop-color="#ff4000"/><stop offset="0.9525" stop-color="#ff8000"/><stop offset="1.0000" stop-color="#ffad00"/></linearGradient><linearGradient id="g112" x1="0" y1="0" x2="0" y2="1"><stop offset="0.0000" stop-color="#ffbc00"/><stop offset="0.0037" stop-color="#ffbf00"/><stop offset="0.0719" stop-color="#ffff00"/><stop offset="0.1298" stop-color="#bfff00"/><stop offset="0.1744" stop-color="#80ff00"/><stop offset="0.2091" stop-color="#40ff00"/><stop offset="0.2379" stop-color="#00ff00"/><stop offset="0.2638" stop-color="#00ff40"/><stop offset="0.2894" stop-color="#00ff80"/><stop offset="0.3168" stop-color="#00ffbf"/><stop offset="0.3490" stop-color="#00ffff"/><stop offset="0.3894" stop-color="#00bfff"/><stop offset="0.4423" stop-color="#0080ff"/><stop offset="0.5079" stop-color="#0040ff"/><stop offset="0.5760" stop-color="#0000ff"/><stop offset="0.6340" stop-color="#4000ff"/><stop offset="0.6786" stop-color="#8000ff"/><stop offset="0.7133" stop-color="#bf00ff"/><stop offset="0.7421" stop-color="#ff00ff"/><stop offset="0.7680" stop-color="#ff00bf"/><stop offset="0.7936" stop-color="#ff0080"/><stop offset="0.8210" stop-color="#ff0040"/><stop offset="0.8532" stop-color="#ff0000"/><stop offset="0.8936" stop-color="#ff4000"/><stop offset="0.9465" stop-color="#ff8000"/><stop offset="1.0000" stop-color="#ffb400"/></linearGradient><linearGradient id="g113" x1="0" y1="0" x2="0" y2="1"><stop offset="0.0000" stop-color="#ffc300"/><stop offset="0.0639" stop-color="#ffff00"/><stop offset="0.1233" stop-color="#bfff00"/><stop offset="0.1696" stop-color="#80ff00"/><stop offset="0.2055" stop-color="#40ff00"/><stop offset="0.2351" stop-color="#00ff00"/><stop offset="0.2615" stop-color="#00ff40"/><stop offset="0.2872" stop-color="#00ff80"/><stop offset="0.3145" stop-color="#00ffbf"/><stop offset="0.3460" stop-color="#00ffff"/><stop offset="0.3853" stop-color="#00bfff"/><stop offset="0.4363" stop-color="#0080ff"/><stop offset="0.5000" stop-color="#0040ff"/><stop offset="0.5681" stop-color="#0000ff"/><stop offset="0.6275" stop-color="#4000ff"/><stop offset="0.6738" stop-color="#8000ff"/><stop offset="0.7097" stop-color="#bf00ff"/><stop offset="0.7393" stop-color="#ff00ff"/><stop offset="0.7657" stop-color="#ff00bf"/><stop offset="0.7914" stop-color="#ff0080"/><stop offset="0.8187" stop-color="#ff0040"/><stop offset="0.8502" stop-color="#ff0000"/><stop offset="0.8895" stop-color="#ff4000"/><stop offset="0.9405" stop-color="#ff8000"/><stop offset="1.0000" stop-color="#ffbb00"/></linearGradient><linearGradient id="g114" x1="0" y1="0" x2="0" y2="1"><stop offset="0.0000" stop-color="#ffcb00"/><stop offset="0.0555" stop-color="#ffff00"/><stop offset="0.1162" stop-color="#bfff00"/><stop offset="0.1642" stop-color="#80ff00"/><stop offset="0.2015" stop-color="#40ff00"/><stop offset="0.2320" stop-color="#00ff00"/><stop offset="0.2589" stop-color="#00ff40"/><stop offset="0.2849" stop-color="#00ff80"/><stop offset="0.3120" stop-color="#00ffbf"/><stop offset="0.3430" stop-color="#00ffff"/><stop offset="0.3810" stop-color="#00bfff"/><stop offset="0.4301" stop-color="#0080ff"/><stop offset="0.4919" stop-color="#0040ff"/><stop offset="0.5597" stop-color="#0000ff"/><stop offset="0.6204" stop-color="#4000ff"/><stop offset="0.6684" stop-color="#8000ff"/><stop offset="0.7057" stop-color="#bf00ff"/><stop offset="0.7362" stop-color="#ff00ff"/><stop offset="0.7631" stop-color="#ff00bf"/><stop offset="0.7891" stop-color="#ff0080"/><stop offset="0.8162" stop-color="#ff0040"/><stop offset="0.8472" stop-color="#ff0000"/><stop offset="0.8852" stop-color="#ff4000"/><stop offset="0.9343" stop-color="#ff8000"/><stop offset="0.9961" stop-color="#ffbf00"/><stop offset="1.0000" stop-color="#ffc300"/></linearGradient><linearGradient id="g115" x1="0" y1="0" x2="0" y2="1"><stop offset="0.0000" stop-color="#ffd300"/><stop offset="0.0464" stop-color="#ffff00"/><stop offset="0.1085" stop-color="#bfff00"/><stop offset="0.1583" stop-color="#80ff00"/><stop offset="0.1971" stop-color="#40ff00"/><stop offset="0.2286" stop-color="#00ff00"/><stop offset="0.2561" stop-color="#00ff40"/><stop offset="0.2823" stop-color="#00ff80"/><stop offset="0.3093" stop-color="#00ffbf"/><stop offset="0.3397" stop-color="#00ffff"/><stop offset="0.3766" stop-color="#00bfff"/><stop offset="0.4238" stop-color="#0080ff"/><stop offset="0.4836" stop-color="#0040ff"/><stop offset="0.5506" stop-color="#0000ff"/><stop offset="0.6127" stop-color="#4000ff"/><stop offset="0.6625" stop-color="#8000ff"/><stop offset="0.7013" stop-color="#bf00ff"/><stop offset="0.7328" stop-color="#ff00ff"/><stop offset="0.7603" stop-color="#ff00bf"/><stop offset="0.7865" stop-color="#ff0080"/><stop offset="0.8135" stop-color="#ff0040"/><stop offset="0.8439" stop-color="#ff0000"/><stop offset="0.8808" stop-color="#ff4000"/><stop offset="0.9280" stop-color="#ff8000"/><stop offset="0.9877" stop-color="#ffbf00"/><stop offset="1.0000" stop-color="#ffcb00"/></linearGradient><linearGradient id="g116" x1="0" y1="0" x2="0" y2="1"><stop offset="0.0000" stop-color="#ffdc00"/><stop offset="0.0368" stop-color="#ffff00"/><stop offset="0.0999" stop-color="#bfff00"/><stop offset="0.1517" stop-color="#80ff00"/><stop offset="0.1921" stop-color="#40ff00"/><stop offset="0.2247" stop-color="#00ff00"/><stop offset="0.2529" stop-color="#00ff40"/><stop offset="0.2794" stop-color="#00ff80"/><stop offset="0.3064" stop-color="#00ffbf"/><stop offset="0.3363" stop-color="#00ffff"/><stop offset="0.3720" stop-color="#00bfff"/><stop offset="0.4174" stop-color="#0080ff"/><stop offset="0.4749" stop-color="#0040ff"/><stop offset="0.5410" stop-color="#0000ff"/><stop offset="0.6041" stop-color="#4000ff"/><stop offset="0.6559" stop-color="#8000ff"/><stop offset="0.6963" stop-color="#bf00ff"/><stop offset="0.7289" stop-color="#ff00ff"/><stop offset="0.7571" stop-color="#ff00bf"/><stop offset="0.7836" stop-color="#ff0080"/><stop offset="0.8106" stop-color="#ff0040"/><stop offset="0.8405" stop-color="#ff0000"/><stop offset="0.8762" stop-color="#ff4000"/><stop offset="0.9216" stop-color="#ff8000"/><stop offset="0.9791" stop-color="#ffbf00"/><stop offset="1.0000" stop-color="#ffd400"/></linearGradient><linearGradient id="g117" x1="0" y1="0" x2="0" y2="1"><stop offset="0.0000" stop-color="#ffe600"/><stop offset="0.0265" stop-color="#ffff00"/><stop offset="0.0905" stop-color="#bfff00"/><stop offset="0.1443" stop-color="#80ff00"/><stop offset="0.1865" stop-color="#40ff00"/><stop offset="0.2204" stop-color="#00ff00"/><stop offset="0.2494" stop-color="#00ff40"/><stop offset="0.2762" stop-color="#00ff80"/><stop offset="0.3032" stop-color="#00ffbf"/><stop offset="0.3326" stop-color="#00ffff"/><stop offset="0.3673" stop-color="#00bfff"/><stop offset="0.4107" stop-color="#0080ff"/><stop offset="0.4659" stop-color="#0040ff"/><stop offset="0.5307" stop-color="#0000ff"/><stop offset="0.5947" stop-color="#4000ff"/><stop offset="0.6485" stop-color="#8000ff"/><stop offset="0.6907" stop-color="#bf00ff"/><stop offset="0.7246" stop-color="#ff00ff"/><stop offset="0.7536" stop-color="#ff00bf"/><stop offset="0.7804" stop-color="#ff0080"/><stop offset="0.8074" stop-color="#ff0040"/><stop offset="0.8368" stop-color="#ff0000"/><stop offset="0.8715" stop-color="#ff4000"/><stop offset="0.9149" stop-color="#ff8000"/><stop offset="0.9701" stop-color="#ffbf00"/><stop offset="1.0000" stop-color="#ffdd00"/></linearGradient><linearGradient id="g118" x1="0" y1="0" x2="0" y2="1"><stop offset="0.0000" stop-color="#fff000"/><stop offset="0.0156" stop-color="#ffff00"/><stop offset="0.0802" stop-color="#bfff00"/><stop offset="0.1359" stop-color="#80ff00"/><stop offset="0.1802" stop-color="#40ff00"/><stop offset="0.2155" stop-color="#00ff00"/><stop offset="0.2454" stop-color="#00ff40"/><stop offset="0.2726" stop-color="#00ff80"/><stop offset="0.2996" stop-color="#00ffbf"/><stop offset="0.3286" stop-color="#00ffff"/><stop offset="0.3622" stop-color="#00bfff"/><stop offset="0.4039" stop-color="#0080ff"/><stop offset="0.4567" stop-color="#0040ff"/><stop offset="0.5198" stop-color="#0000ff"/><stop offset="0.5844" stop-color="#4000ff"/><stop offset="0.6401" stop-color="#8000ff"/><stop offset="0.6844" stop-color="#bf00ff"/><stop offset="0.7197" stop-color="#ff00ff"/><stop offset="0.7496" stop-color="#ff00bf"/><stop offset="0.7768" stop-color="#ff0080"/><stop offset="0.8038" stop-color="#ff0040"/><stop offset="0.8328" stop-color="#ff0000"/><stop offset="0.8664" stop-color="#ff4000"/><stop offset="0.9081" stop-color="#ff8000"/><stop offset="0.9609" stop-color="#ffbf00"/><stop offset="1.0000" stop-color="#ffe800"/></linearGradient><linearGradient id="g119" x1="0" y1="0" x2="0" y2="1"><stop offset="0.0000" stop-color="#fffb00"/><stop offset="0.0040" stop-color="#ffff00"/><stop offset="0.0688" stop-color="#bfff00"/><stop offset="0.1265" stop-color="#80ff00"/><stop offset="0.1729" stop-color="#40ff00"/><stop offset="0.2099" stop-color="#00ff00"/><stop offset="0.2408" stop-color="#00ff40"/><stop offset="0.2686" stop-color="#00ff80"/><stop offset="0.2957" stop-color="#00ffbf"/><stop offset="0.3243" stop-color="#00ffff"/><stop offset="0.3569" stop-color="#00bfff"/><stop offset="0.3968" stop-color="#0080ff"/><stop offset="0.4471" stop-color="#0040ff"/><stop offset="0.5082" stop-color="#0000ff"/><stop offset="0.5730" stop-color="#4000ff"/><stop offset="0.6307" stop-color="#8000ff"/><stop offset="0.6771" stop-color="#bf00ff"/><stop offset="0.7141" stop-color="#ff00ff"/><stop offset="0.7450" stop-color="#ff00bf"/><stop offset="0.7728" stop-color="#ff0080"/><stop offset="0.7999" stop-color="#ff0040"/><stop offset="0.8285" stop-color="#ff0000"/><stop offset="0.8611" stop-color="#ff4000"/><stop offset="0.9010" stop-color="#ff8000"/><stop offset="0.9513" stop-color="#ffbf00"/><stop offset="1.0000" stop-color="#fff300"/></linearGradient><linearGradient id="g120" x1="0" y1="0" x2="0" y2="1"><stop offset="0.0000" stop-color="#faff00"/><stop offset="0.0594" stop-color="#bfff00"/><stop offset="0.1186" stop-color="#80ff00"/><stop offset="0.1668" stop-color="#40ff00"/><stop offset="0.2051" stop-color="#00ff00"/><stop offset="0.2369" stop-color="#00ff40"/><stop offset="0.2652" stop-color="#00ff80"/><stop offset="0.2924" stop-color="#00ffbf"/><stop offset="0.3208" stop-color="#00ffff"/><stop offset="0.3527" stop-color="#00bfff"/><stop offset="0.3912" stop-color="#0080ff"/><stop offset="0.4396" stop-color="#0040ff"/><stop offset="0.4990" stop-color="#0000ff"/><stop offset="0.5636" stop-color="#4000ff"/><stop offset="0.6228" stop-color="#8000ff"/><stop offset="0.6710" stop-color="#bf00ff"/><stop offset="0.7093" stop-color="#ff00ff"/><stop offset="0.7411" stop-color="#ff00bf"/><stop offset="0.7694" stop-color="#ff0080"/><stop offset="0.7966" stop-color="#ff0040"/><stop offset="0.8250" stop-color="#ff0000"/><stop offset="0.8569" stop-color="#ff4000"/><stop offset="0.8954" stop-color="#ff8000"/><stop offset="0.9438" stop-color="#ffbf00"/><stop offset="1.0000" stop-color="#fffc00"/></linearGradient><linearGradient id="g121" x1="0" y1="0" x2="0" y2="1"><stop offset="0.0000" stop-color="#f3ff00"/><stop offset="0.0528" stop-color="#bfff00"/><stop offset="0.1129" stop-color="#80ff00"/><stop offset="0.1623" stop-color="#40ff00"/><stop offset="0.2017" stop-color="#00ff00"/><stop offset="0.2341" stop-color="#00ff40"/><stop offset="0.2628" stop-color="#00ff80"/><stop offset="0.2901" stop-color="#00ffbf"/><stop offset="0.3183" stop-color="#00ffff"/><stop offset="0.3498" stop-color="#00bfff"/><stop offset="0.3874" stop-color="#0080ff"/><stop offset="0.4346" stop-color="#0040ff"/><stop offset="0.4927" stop-color="#0000ff"/><stop offset="0.5570" stop-color="#4000ff"/><stop offset="0.6171" stop-color="#8000ff"/><stop offset="0.6665" stop-color="#bf00ff"/><stop offset="0.7059" stop-color="#ff00ff"/><stop offset="0.7383" stop-color="#ff00bf"/><stop offset="0.7670" stop-color="#ff0080"/><stop offset="0.7943" stop-color="#ff0040"/><stop offset="0.8225" stop-color="#ff0000"/><stop offset="0.8540" stop-color="#ff4000"/><stop offset="0.8916" stop-color="#ff8000"/><stop offset="0.9388" stop-color="#ffbf00"/><stop offset="0.9969" stop-color="#ffff00"/><stop offset="1.0000" stop-color="#fcff00"/></linearGradient><linearGradient id="g122" x1="0" y1="0" x2="0" y2="1"><stop offset="0.0000" stop-color="#edff00"/><stop offset="0.0459" stop-color="#bfff00"/><stop offset="0.1068" stop-color="#80ff00"/><stop offset="0.1575" stop-color="#40ff00"/><stop offset="0.1979" stop-color="#00ff00"/><stop offset="0.2311" stop-color="#00ff40"/><stop offset="0.2602" stop-color="#00ff80"/><stop offset="0.2876" stop-color="#00ffbf"/><stop offset="0.3157" stop-color="#00ffff"/><stop offset="0.3467" stop-color="#00bfff"/><stop offset="0.3835" stop-color="#0080ff"/><stop offset="0.4294" stop-color="#0040ff"/><stop offset="0.4862" stop-color="#0000ff"/><stop offset="0.5501" stop-color="#4000ff"/><stop offset="0.6110" stop-color="#8000ff"/><stop offset="0.6617" stop-color="#bf00ff"/><stop offset="0.7021" stop-color="#ff00ff"/><stop offset="0.7353" stop-color="#ff00bf"/><stop offset="0.7644" stop-color="#ff0080"/><stop offset="0.7918" stop-color="#ff0040"/><stop offset="0.8199" stop-color="#ff0000"/><stop offset="0.8509" stop-color="#ff4000"/><stop offset="0.8877" stop-color="#ff8000"/><stop offset="0.9336" stop-color="#ffbf00"/><stop offset="0.9904" stop-color="#ffff00"/><stop offset="1.0000" stop-color="#f5ff00"/></linearGradient><linearGradient id="g123" x1="0" y1="0" x2="0" y2="1"><stop offset="0.0000" stop-color="#e6ff00"/><stop offset="0.0386" stop-color="#bfff00"/><stop offset="0.1002" stop-color="#80ff00"/><stop offset="0.1523" stop-color="#40ff00"/><stop offset="0.1939" stop-color="#00ff00"/><stop offset="0.2278" stop-color="#00ff40"/><stop offset="0.2574" stop-color="#00ff80"/><stop offset="0.2850" stop-color="#00ffbf"/><stop offset="0.3129" stop-color="#00ffff"/><stop offset="0.3435" stop-color="#00bfff"/><stop offset="0.3795" stop-color="#0080ff"/><stop offset="0.4241" stop-color="#0040ff"/><stop offset="0.4795" stop-color="#0000ff"/><stop offset="0.5428" stop-color="#4000ff"/><stop offset="0.6044" stop-color="#8000ff"/><stop offset="0.6565" stop-color="#bf00ff"/><stop offset="0.6980" stop-color="#ff00ff"/><stop offset="0.7320" stop-color="#ff00bf"/><stop offset="0.7615" stop-color="#ff0080"/><stop offset="0.7892" stop-color="#ff0040"/><stop offset="0.8171" stop-color="#ff0000"/><stop offset="0.8477" stop-color="#ff4000"/><stop offset="0.8837" stop-color="#ff8000"/><stop offset="0.9283" stop-color="#ffbf00"/><stop offset="0.9837" stop-color="#ffff00"/><stop offset="1.0000" stop-color="#eeff00"/></linearGradient><linearGradient id="g124" x1="0" y1="0" x2="0" y2="1"><stop offset="0.0000" stop-color="#deff00"/><stop offset="0.0309" stop-color="#bfff00"/><stop offset="0.0932" stop-color="#80ff00"/><stop offset="0.1466" stop-color="#40ff00"/><stop offset="0.1894" stop-color="#00ff00"/><stop offset="0.2243" stop-color="#00ff40"/><stop offset="0.2543" stop-color="#00ff80"/><stop offset="0.2821" stop-color="#00ffbf"/><stop offset="0.3100" stop-color="#00ffff"/><stop offset="0.3402" stop-color="#00bfff"/><stop offset="0.3753" stop-color="#0080ff"/><stop offset="0.4186" stop-color="#0040ff"/><stop offset="0.4726" stop-color="#0000ff"/><stop offset="0.5351" stop-color="#4000ff"/><stop offset="0.5974" stop-color="#8000ff"/><stop offset="0.6508" stop-color="#bf00ff"/><stop offset="0.6936" stop-color="#ff00ff"/><stop offset="0.7285" stop-color="#ff00bf"/><stop offset="0.7585" stop-color="#ff0080"/><stop offset="0.7863" stop-color="#ff0040"/><stop offset="0.8142" stop-color="#ff0000"/><stop offset="0.8444" stop-color="#ff4000"/><stop offset="0.8795" stop-color="#ff8000"/><stop offset="0.9228" stop-color="#ffbf00"/><stop offset="0.9768" stop-color="#ffff00"/><stop offset="1.0000" stop-color="#e7ff00"/></linearGradient><linearGradient id="g125" x1="0" y1="0" x2="0" y2="1"><stop offset="0.0000" stop-color="#d6ff00"/><stop offset="0.0228" stop-color="#bfff00"/><stop offset="0.0856" stop-color="#80ff00"/><stop offset="0.1404" stop-color="#40ff00"/><stop offset="0.1846" stop-color="#00ff00"/><stop offset="0.2204" stop-color="#00ff40"/><stop offset="0.2510" stop-color="#00ff80"/><stop offset="0.2791" stop-color="#00ffbf"/><stop offset="0.3069" stop-color="#00ffff"/><stop offset="0.3367" stop-color="#00bfff"/><stop offset="0.3710" stop-color="#0080ff"/><stop offset="0.4130" stop-color="#0040ff"/><stop offset="0.4654" stop-color="#0000ff"/><stop offset="0.5270" stop-color="#4000ff"/><stop offset="0.5898" stop-color="#8000ff"/><stop offset="0.6446" stop-color="#bf00ff"/><stop offset="0.6888" stop-color="#ff00ff"/><stop offset="0.7246" stop-color="#ff00bf"/><stop offset="0.7552" stop-color="#ff0080"/><stop offset="0.7833" stop-color="#ff0040"/><stop offset="0.8111" stop-color="#ff0000"/><stop offset="0.8409" stop-color="#ff4000"/><stop offset="0.8752" stop-color="#ff8000"/><stop offset="0.9172" stop-color="#ffbf00"/><stop offset="0.9696" stop-color="#ffff00"/><stop offset="1.0000" stop-color="#dfff00"/></linearGradient><linearGradient id="g126" x1="0" y1="0" x2="0" y2="1"><stop offset="0.0000" stop-color="#ceff00"/><stop offset="0.0143" stop-color="#bfff00"/><stop offset="0.0774" stop-color="#80ff00"/><stop offset="0.1337" stop-color="#40ff00"/><stop offset="0.1793" stop-color="#00ff00"/><stop offset="0.2162" stop-color="#00ff40"/><stop offset="0.2474" stop-color="#00ff80"/><stop offset="0.2758" stop-color="#00ffbf"/><stop offset="0.3035" stop-color="#00ffff"/><stop offset="0.3330" stop-color="#00bfff"/><stop offset="0.3665" stop-color="#0080ff"/><stop offset="0.4073" stop-color="#0040ff"/><stop offset="0.4580" stop-color="#0000ff"/><stop offset="0.5185" stop-color="#4000ff"/><stop offset="0.5816" stop-color="#8000ff"/><stop offset="0.6379" stop-color="#bf00ff"/><stop offset="0.6835" stop-color="#ff00ff"/><stop offset="0.7204" stop-color="#ff00bf"/><stop offset="0.7516" stop-color="#ff0080"/><stop offset="0.7800" stop-color="#ff0040"/><stop offset="0.8077" stop-color="#ff0000"/><stop offset="0.8372" stop-color="#ff4000"/><stop offset="0.8707" stop-color="#ff8000"/><stop offset="0.9115" stop-color="#ffbf00"/><stop offset="0.9622" stop-color="#ffff00"/><stop offset="1.0000" stop-color="#d6ff00"/></linearGradient><linearGradient id="g127" x1="0" y1="0" x2="0" y2="1"><stop offset="0.0000" stop-color="#c5ff00"/><stop offset="0.0054" stop-color="#bfff00"/><stop offset="0.0687" stop-color="#80ff00"/><stop offset="0.1263" stop-color="#40ff00"/><stop offset="0.1735" stop-color="#00ff00"/><stop offset="0.2115" stop-color="#00ff40"/><stop offset="0.2435" stop-color="#00ff80"/><stop offset="0.2722" stop-color="#00ffbf"/><stop offset="0.3000" stop-color="#00ffff"/><stop offset="0.3291" stop-color="#00bfff"/><stop offset="0.3619" stop-color="#0080ff"/><stop offset="0.4013" stop-color="#0040ff"/><stop offset="0.4504" stop-color="#0000ff"/><stop offset="0.5096" stop-color="#4000ff"/><stop offset="0.5728" stop-color="#8000ff"/><stop offset="0.6305" stop-color="#bf00ff"/><stop offset="0.6777" stop-color="#ff00ff"/><stop offset="0.7157" stop-color="#ff00bf"/><stop offset="0.7477" stop-color="#ff0080"/><stop offset="0.7764" stop-color="#ff0040"/><stop offset="0.8042" stop-color="#ff0000"/><stop offset="0.8333" stop-color="#ff4000"/><stop offset="0.8661" stop-color="#ff8000"/><stop offset="0.9055" stop-color="#ffbf00"/><stop offset="0.9546" stop-color="#ffff00"/><stop offset="1.0000" stop-color="#cdff00"/></linearGradient><linearGradient id="g128" x1="0" y1="0" x2="0" y2="1"><stop offset="0.0000" stop-color="#bbff00"/><stop offset="0.0591" stop-color="#80ff00"/><stop offset="0.1181" stop-color="#40ff00"/><stop offset="0.1670" stop-color="#00ff00"/><stop offset="0.2064" stop-color="#00ff40"/><stop offset="0.2392" stop-color="#00ff80"/><stop offset="0.2683" stop-color="#00ffbf"/><stop offset="0.2961" stop-color="#00ffff"/><stop offset="0.3249" stop-color="#00bfff"/><stop offset="0.3570" stop-color="#0080ff"/><stop offset="0.3952" stop-color="#0040ff"/><stop offset="0.4425" stop-color="#0000ff"/><stop offset="0.5002" stop-color="#4000ff"/><stop offset="0.5633" stop-color="#8000ff"/><stop offset="0.6223" stop-color="#bf00ff"/><stop offset="0.6712" stop-color="#ff00ff"/><stop offset="0.7106" stop-color="#ff00bf"/><stop offset="0.7434" stop-color="#ff0080"/><stop offset="0.7725" stop-color="#ff0040"/><stop offset="0.8003" stop-color="#ff0000"/><stop offset="0.8291" stop-color="#ff4000"/><stop offset="0.8612" stop-color="#ff8000"/><stop offset="0.8994" stop-color="#ffbf00"/><stop offset="0.9467" stop-color="#ffff00"/><stop offset="1.0000" stop-color="#c4ff00"/></linearGradient><linearGradient id="g129" x1="0" y1="0" x2="0" y2="1"><stop offset="0.0000" stop-color="#b1ff00"/><stop offset="0.0489" stop-color="#80ff00"/><stop offset="0.1091" stop-color="#40ff00"/><stop offset="0.1598" stop-color="#00ff00"/><stop offset="0.2007" stop-color="#00ff40"/><stop offset="0.2344" stop-color="#00ff80"/><stop offset="0.2640" stop-color="#00ffbf"/><stop offset="0.2919" stop-color="#00ffff"/><stop offset="0.3204" stop-color="#00bfff"/><stop offset="0.3518" stop-color="#0080ff"/><stop offset="0.3887" stop-color="#0040ff"/><stop offset="0.4343" stop-color="#0000ff"/><stop offset="0.4903" stop-color="#4000ff"/><stop offset="0.5531" stop-color="#8000ff"/><stop offset="0.6133" stop-color="#bf00ff"/><stop offset="0.6640" stop-color="#ff00ff"/><stop offset="0.7049" stop-color="#ff00bf"/><stop offset="0.7386" stop-color="#ff0080"/><stop offset="0.7682" stop-color="#ff0040"/><stop offset="0.7961" stop-color="#ff0000"/><stop offset="0.8246" stop-color="#ff4000"/><stop offset="0.8560" stop-color="#ff8000"/><stop offset="0.8929" stop-color="#ffbf00"/><stop offset="0.9385" stop-color="#ffff00"/><stop offset="0.9945" stop-color="#bfff00"/><stop offset="1.0000" stop-color="#b9ff00"/></linearGradient><linearGradient id="g130" x1="0" y1="0" x2="0" y2="1"><stop offset="0.0000" stop-color="#a6ff00"/><stop offset="0.0377" stop-color="#80ff00"/><stop offset="0.0991" stop-color="#40ff00"/><stop offset="0.1517" stop-color="#00ff00"/><stop offset="0.1942" stop-color="#00ff40"/><stop offset="0.2291" stop-color="#00ff80"/><stop offset="0.2593" stop-color="#00ffbf"/><stop offset="0.2874" stop-color="#00ffff"/><stop offset="0.3156" stop-color="#00bfff"/><stop offset="0.3463" stop-color="#0080ff"/><stop offset="0.3820" stop-color="#0040ff"/><stop offset="0.4258" stop-color="#0000ff"/><stop offset="0.4799" stop-color="#4000ff"/><stop offset="0.5419" stop-color="#8000ff"/><stop offset="0.6033" stop-color="#bf00ff"/><stop offset="0.6559" stop-color="#ff00ff"/><stop offset="0.6984" stop-color="#ff00bf"/><stop offset="0.7333" stop-color="#ff0080"/><stop offset="0.7635" stop-color="#ff0040"/><stop offset="0.7916" stop-color="#ff0000"/><stop offset="0.8198" stop-color="#ff4000"/><stop offset="0.8505" stop-color="#ff8000"/><stop offset="0.8862" stop-color="#ffbf00"/><stop offset="0.9300" stop-color="#ffff00"/><stop offset="0.9841" stop-color="#bfff00"/><stop offset="1.0000" stop-color="#aeff00"/></linearGradient><linearGradient id="g131" x1="0" y1="0" x2="0" y2="1"><stop offset="0.0000" stop-color="#9aff00"/><stop offset="0.0256" stop-color="#80ff00"/><stop offset="0.0879" stop-color="#40ff00"/><stop offset="0.1426" stop-color="#00ff00"/><stop offset="0.1870" stop-color="#00ff40"/><stop offset="0.2231" stop-color="#00ff80"/><stop offset="0.2540" stop-color="#00ffbf"/><stop offset="0.2823" stop-color="#00ffff"/><stop offset="0.3104" stop-color="#00bfff"/><stop offset="0.3404" stop-color="#0080ff"/><stop offset="0.3749" stop-color="#0040ff"/><stop offset="0.4169" stop-color="#0000ff"/><stop offset="0.4689" stop-color="#4000ff"/><stop offset="0.5298" stop-color="#8000ff"/><stop offset="0.5921" stop-color="#bf00ff"/><stop offset="0.6468" stop-color="#ff00ff"/><stop offset="0.6912" stop-color="#ff00bf"/><stop offset="0.7273" stop-color="#ff0080"/><stop offset="0.7582" stop-color="#ff0040"/><stop offset="0.7865" stop-color="#ff0000"/><stop offset="0.8146" stop-color="#ff4000"/><stop offset="0.8446" stop-color="#ff8000"/><stop offset="0.8791" stop-color="#ffbf00"/><stop offset="0.9211" stop-color="#ffff00"/><stop offset="0.9731" stop-color="#bfff00"/><stop offset="1.0000" stop-color="#a2ff00"/></linearGradient><linearGradient id="g132" x1="0" y1="0" x2="0" y2="1"><stop offset="0.0000" stop-color="#8cff00"/><stop offset="0.0125" stop-color="#80ff00"/><stop offset="0.0753" stop-color="#40ff00"/><stop offset="0.1321" stop-color="#00ff00"/><stop offset="0.1786" stop-color="#00ff40"/><stop offset="0.2163" stop-color="#00ff80"/><stop offset="0.2481" stop-color="#00ffbf"/><stop offset="0.2768" stop-color="#00ffff"/><stop offset="0.3047" stop-color="#00bfff"/><stop offset="0.3341" stop-color="#0080ff"/><stop offset="0.3674" stop-color="#0040ff"/><stop offset="0.4075" stop-color="#0000ff"/><stop offset="0.4572" stop-color="#4000ff"/><stop offset="0.5166" stop-color="#8000ff"/><stop offset="0.5795" stop-color="#bf00ff"/><stop offset="0.6363" stop-color="#ff00ff"/><stop offset="0.6828" stop-color="#ff00bf"/><stop offset="0.7205" stop-color="#ff0080"/><stop offset="0.7523" stop-color="#ff0040"/><stop offset="0.7810" stop-color="#ff0000"/><stop offset="0.8089" stop-color="#ff4000"/><stop offset="0.8383" stop-color="#ff8000"/><stop offset="0.8716" stop-color="#ffbf00"/><stop offset="0.9117" stop-color="#ffff00"/><stop offset="0.9614" stop-color="#bfff00"/><stop offset="1.0000" stop-color="#95ff00"/></linearGradient><linearGradient id="g133" x1="0" y1="0" x2="0" y2="1"><stop offset="0.0000" stop-color="#7eff00"/><stop offset="0.0611" stop-color="#40ff00"/><stop offset="0.1200" stop-color="#00ff00"/><stop offset="0.1690" stop-color="#00ff40"/><stop offset="0.2084" stop-color="#00ff80"/><stop offset="0.2413" stop-color="#00ffbf"/><stop offset="0.2705" stop-color="#00ffff"/><stop offset="0.2984" stop-color="#00bfff"/><stop offset="0.3272" stop-color="#0080ff"/><stop offset="0.3593" stop-color="#0040ff"/><stop offset="0.3975" stop-color="#0000ff"/><stop offset="0.4448" stop-color="#4000ff"/><stop offset="0.5023" stop-color="#8000ff"/><stop offset="0.5653" stop-color="#bf00ff"/><stop offset="0.6242" stop-color="#ff00ff"/><stop offset="0.6732" stop-color="#ff00bf"/><stop offset="0.7126" stop-color="#ff0080"/><stop offset="0.7455" stop-color="#ff0040"/><stop offset="0.7747" stop-color="#ff0000"/><stop offset="0.8026" stop-color="#ff4000"/><stop offset="0.8314" stop-color="#ff8000"/><stop offset="0.8635" stop-color="#ffbf00"/><stop offset="0.9017" stop-color="#ffff00"/><stop offset="0.9490" stop-color="#bfff00"/><stop offset="1.0000" stop-color="#86ff00"/></linearGradient><linearGradient id="g134" x1="0" y1="0" x2="0" y2="1"><stop offset="0.0000" stop-color="#6dff00"/><stop offset="0.0449" stop-color="#40ff00"/><stop offset="0.1058" stop-color="#00ff00"/><stop offset="0.1576" stop-color="#00ff40"/><stop offset="0.1992" stop-color="#00ff80"/><stop offset="0.2335" stop-color="#00ffbf"/><stop offset="0.2634" stop-color="#00ffff"/><stop offset="0.2913" stop-color="#00bfff"/><stop offset="0.3197" stop-color="#0080ff"/><stop offset="0.3506" stop-color="#0040ff"/><stop offset="0.3869" stop-color="#0000ff"/><stop offset="0.4316" stop-color="#4000ff"/><stop offset="0.4866" stop-color="#8000ff"/><stop offset="0.5491" stop-color="#bf00ff"/><stop offset="0.6100" stop-color="#ff00ff"/><stop offset="0.6618" stop-color="#ff00bf"/><stop offset="0.7034" stop-color="#ff0080"/><stop offset="0.7377" stop-color="#ff0040"/><stop offset="0.7676" stop-color="#ff0000"/><stop offset="0.7955" stop-color="#ff4000"/><stop offset="0.8239" stop-color="#ff8000"/><stop offset="0.8548" stop-color="#ffbf00"/><stop offset="0.8911" stop-color="#ffff00"/><stop offset="0.9358" stop-color="#bfff00"/><stop offset="0.9908" stop-color="#80ff00"/><stop offset="1.0000" stop-color="#76ff00"/></linearGradient><linearGradient id="g135" x1="0" y1="0" x2="0" y2="1"><stop offset="0.0000" stop-color="#5aff00"/><stop offset="0.0264" stop-color="#40ff00"/><stop offset="0.0890" stop-color="#00ff00"/><stop offset="0.1439" stop-color="#00ff40"/><stop offset="0.1883" stop-color="#00ff80"/><stop offset="0.2243" stop-color="#00ffbf"/><stop offset="0.2551" stop-color="#00ffff"/><stop offset="0.2833" stop-color="#00bfff"/><stop offset="0.3112" stop-color="#0080ff"/><stop offset="0.3411" stop-color="#0040ff"/><stop offset="0.3754" stop-color="#0000ff"/><stop offset="0.4173" stop-color="#4000ff"/><stop offset="0.4694" stop-color="#8000ff"/><stop offset="0.5306" stop-color="#bf00ff"/><stop offset="0.5932" stop-color="#ff00ff"/><stop offset="0.6481" stop-color="#ff00bf"/><stop offset="0.6925" stop-color="#ff0080"/><stop offset="0.7285" stop-color="#ff0040"/><stop offset="0.7593" stop-color="#ff0000"/><stop offset="0.7875" stop-color="#ff4000"/><stop offset="0.8154" stop-color="#ff8000"/><stop offset="0.8453" stop-color="#ffbf00"/><stop offset="0.8796" stop-color="#ffff00"/><stop offset="0.9215" stop-color="#bfff00"/><stop offset="0.9736" stop-color="#80ff00"/><stop offset="1.0000" stop-color="#63ff00"/></linearGradient><linearGradient id="g136" x1="0" y1="0" x2="0" y2="1"><stop offset="0.0000" stop-color="#45ff00"/><stop offset="0.0051" stop-color="#40ff00"/><stop offset="0.0687" stop-color="#00ff00"/><stop offset="0.1270" stop-color="#00ff40"/><stop offset="0.1748" stop-color="#00ff80"/><stop offset="0.2132" stop-color="#00ffbf"/><stop offset="0.2453" stop-color="#00ffff"/><stop offset="0.2739" stop-color="#00bfff"/><stop offset="0.3016" stop-color="#0080ff"/><stop offset="0.3304" stop-color="#0040ff"/><stop offset="0.3629" stop-color="#0000ff"/><stop offset="0.4018" stop-color="#4000ff"/><stop offset="0.4504" stop-color="#8000ff"/><stop offset="0.5093" stop-color="#bf00ff"/><stop offset="0.5729" stop-color="#ff00ff"/><stop offset="0.6312" stop-color="#ff00bf"/><stop offset="0.6790" stop-color="#ff0080"/><stop offset="0.7174" stop-color="#ff0040"/><stop offset="0.7495" stop-color="#ff0000"/><stop offset="0.7781" stop-color="#ff4000"/><stop offset="0.8058" stop-color="#ff8000"/><stop offset="0.8346" stop-color="#ffbf00"/><stop offset="0.8671" stop-color="#ffff00"/><stop offset="0.9060" stop-color="#bfff00"/><stop offset="0.9546" stop-color="#80ff00"/><stop offset="1.0000" stop-color="#4eff00"/></linearGradient><linearGradient id="g137" x1="0" y1="0" x2="0" y2="1"><stop offset="0.0000" stop-color="#2cff00"/><stop offset="0.0437" stop-color="#00ff00"/><stop offset="0.1055" stop-color="#00ff40"/><stop offset="0.1576" stop-color="#00ff80"/><stop offset="0.1992" stop-color="#00ffbf"/><stop offset="0.2332" stop-color="#00ffff"/><stop offset="0.2627" stop-color="#00bfff"/><stop offset="0.2903" stop-color="#0080ff"/><stop offset="0.3183" stop-color="#0040ff"/><stop offset="0.3488" stop-color="#0000ff"/><stop offset="0.3848" stop-color="#4000ff"/><stop offset="0.4293" stop-color="#8000ff"/><stop offset="0.4846" stop-color="#bf00ff"/><stop offset="0.5479" stop-color="#ff00ff"/><stop offset="0.6096" stop-color="#ff00bf"/><stop offset="0.6618" stop-color="#ff0080"/><stop offset="0.7034" stop-color="#ff0040"/><stop offset="0.7374" stop-color="#ff0000"/><stop offset="0.7669" stop-color="#ff4000"/><stop offset="0.7945" stop-color="#ff8000"/><stop offset="0.8225" stop-color="#ffbf00"/><stop offset="0.8530" stop-color="#ffff00"/><stop offset="0.8890" stop-color="#bfff00"/><stop offset="0.9335" stop-color="#80ff00"/><stop offset="0.9888" stop-color="#40ff00"/><stop offset="1.0000" stop-color="#34ff00"/></linearGradient><linearGradient id="g138" x1="0" y1="0" x2="0" y2="1"><stop offset="0.0000" stop-color="#0cff00"/><stop offset="0.0125" stop-color="#00ff00"/><stop offset="0.0769" stop-color="#00ff40"/><stop offset="0.1344" stop-color="#00ff80"/><stop offset="0.1807" stop-color="#00ffbf"/><stop offset="0.2177" stop-color="#00ffff"/><stop offset="0.2488" stop-color="#00bfff"/><stop offset="0.2767" stop-color="#0080ff"/><stop offset="0.3039" stop-color="#0040ff"/><stop offset="0.3327" stop-color="#0000ff"/><stop offset="0.3655" stop-color="#4000ff"/><stop offset="0.4055" stop-color="#8000ff"/><stop offset="0.4558" stop-color="#bf00ff"/><stop offset="0.5167" stop-color="#ff00ff"/><stop offset="0.5811" stop-color="#ff00bf"/><stop offset="0.6386" stop-color="#ff0080"/><stop offset="0.6849" stop-color="#ff0040"/><stop offset="0.7219" stop-color="#ff0000"/><stop offset="0.7529" stop-color="#ff4000"/><stop offset="0.7809" stop-color="#ff8000"/><stop offset="0.8081" stop-color="#ffbf00"/><stop offset="0.8369" stop-color="#ffff00"/><stop offset="0.8697" stop-color="#bfff00"/><stop offset="0.9097" stop-color="#80ff00"/><stop offset="0.9600" stop-color="#40ff00"/><stop offset="1.0000" stop-color="#15ff00"/></linearGradient><linearGradient id="g139" x1="0" y1="0" x2="0" y2="1"><stop offset="0.0000" stop-color="#00ff1c"/><stop offset="0.0372" stop-color="#00ff40"/><stop offset="0.1007" stop-color="#00ff80"/><stop offset="0.1541" stop-color="#00ffbf"/><stop offset="0.1961" stop-color="#00ffff"/><stop offset="0.2300" stop-color="#00bfff"/><stop offset="0.2591" stop-color="#0080ff"/><stop offset="0.2861" stop-color="#0040ff"/><stop offset="0.3132" stop-color="#0000ff"/><stop offset="0.3429" stop-color="#4000ff"/><stop offset="0.3779" stop-color="#8000ff"/><stop offset="0.4216" stop-color="#bf00ff"/><stop offset="0.4769" stop-color="#ff00ff"/><stop offset="0.5414" stop-color="#ff00bf"/><stop offset="0.6049" stop-color="#ff0080"/><stop offset="0.6583" stop-color="#ff0040"/><stop offset="0.7003" stop-color="#ff0000"/><stop offset="0.7342" stop-color="#ff4000"/><stop offset="0.7633" stop-color="#ff8000"/><stop offset="0.7903" stop-color="#ffbf00"/><stop offset="0.8174" stop-color="#ffff00"/><stop offset="0.8471" stop-color="#bfff00"/><stop offset="0.8821" stop-color="#80ff00"/><stop offset="0.9258" stop-color="#40ff00"/><stop offset="0.9811" stop-color="#00ff00"/><stop offset="1.0000" stop-color="#00ff13"/></linearGradient><linearGradient id="g140" x1="0" y1="0" x2="0" y2="1"><stop offset="0.0000" stop-color="#00ff54"/><stop offset="0.0460" stop-color="#00ff80"/><stop offset="0.1095" stop-color="#00ffbf"/><stop offset="0.1612" stop-color="#00ffff"/><stop offset="0.2014" stop-color="#00bfff"/><stop offset="0.2337" stop-color="#0080ff"/><stop offset="0.2616" stop-color="#0040ff"/><stop offset="0.2878" stop-color="#0000ff"/><stop offset="0.3146" stop-color="#4000ff"/><stop offset="0.3443" stop-color="#8000ff"/><stop offset="0.3800" stop-color="#bf00ff"/><stop offset="0.4254" stop-color="#ff00ff"/><stop offset="0.4834" stop-color="#ff00bf"/><stop offset="0.5501" stop-color="#ff0080"/><stop offset="0.6137" stop-color="#ff0040"/><stop offset="0.6654" stop-color="#ff0000"/><stop offset="0.7056" stop-color="#ff4000"/><stop offset="0.7379" stop-color="#ff8000"/><stop offset="0.7658" stop-color="#ffbf00"/><stop offset="0.7920" stop-color="#ffff00"/><stop offset="0.8188" stop-color="#bfff00"/><stop offset="0.8485" stop-color="#80ff00"/><stop offset="0.8842" stop-color="#40ff00"/><stop offset="0.9296" stop-color="#00ff00"/><stop offset="0.9876" stop-color="#00ff40"/><stop offset="1.0000" stop-color="#00ff4c"/></linearGradient><linearGradient id="g141" x1="0" y1="0" x2="0" y2="1"><stop offset="0.0000" stop-color="#00ff82"/><stop offset="0.0662" stop-color="#00ffbf"/><stop offset="0.1273" stop-color="#00ffff"/><stop offset="0.1750" stop-color="#00bfff"/><stop offset="0.2117" stop-color="#0080ff"/><stop offset="0.2418" stop-color="#0040ff"/><stop offset="0.2683" stop-color="#0000ff"/><stop offset="0.2938" stop-color="#4000ff"/><stop offset="0.3207" stop-color="#8000ff"/><stop offset="0.3514" stop-color="#bf00ff"/><stop offset="0.3895" stop-color="#ff00ff"/><stop offset="0.4390" stop-color="#ff00bf"/><stop offset="0.5018" stop-color="#ff0080"/><stop offset="0.5704" stop-color="#ff0040"/><stop offset="0.6315" stop-color="#ff0000"/><stop offset="0.6791" stop-color="#ff4000"/><stop offset="0.7159" stop-color="#ff8000"/><stop offset="0.7460" stop-color="#ffbf00"/><stop offset="0.7725" stop-color="#ffff00"/><stop offset="0.7980" stop-color="#bfff00"/><stop offset="0.8249" stop-color="#80ff00"/><stop offset="0.8556" stop-color="#40ff00"/><stop offset="0.8937" stop-color="#00ff00"/><stop offset="0.9432" stop-color="#00ff40"/><stop offset="1.0000" stop-color="#00ff7a"/></linearGradient><linearGradient id="cb" x1="0" y1="0" x2="1" y2="0"><stop offset="0.0000" stop-color="#ff0000"/><stop offset="0.1667" stop-color="#ff00ff"/><stop offset="0.3333" stop-color="#0000ff"/><stop offset="0.5000" stop-color="#00ffff"/><stop offset="0.6667" stop-color="#00ff00"/><stop offset="0.8333" stop-color="#ffff00"/><stop offset="1.0000" stop-color="#ff0000"/></linearGradient></defs><g shape-rendering="crispEdges"><rect x="578" y="13" width="1" height="417" fill="url(#g0)"/><rect x="579" y="13" width="1" height="417" fill="url(#g1)"/><rect x="580" y="13" width="1" height="417" fill="url(#g2)"/><rect x="581" y="13" width="1" height="417" fill="url(#g3)"/><rect x="582" y="13" width="1" height="417" fill="url(#g4)"/><rect x="583" y="13" width="1" height="417" fill="url(#g5)"/><rect x="584" y="13" width="1" height="417" fill="url(#g6)"/><rect x="585" y="13" width="1" height="417" fill="url(#g7)"/><rect x="586" y="13" width="1" height="417" fill="url(#g8)"/><rect x="587" y="13" width="1" height="417" fill="url(#g9)"/><rect x="588" y="13" width="1" height="417" fill="url(#g10)"/><rect x="589" y="13" width="1" height="417" fill="url(#g11)"/><rect x="590" y="13" width="1" height="417" fill="url(#g12)"/><rect x="591" y="13" width="1" height="417" fill="url(#g13)"/><rect x="592" y="13" width="1" height="417" fill="url(#g14)"/><rect x="593" y="13" width="1" height="417" fill="url(#g15)"/><rect x="594" y="13" width="1" height="417" fill="url(#g16)"/><rect x="595" y="13" width="1" height="417" fill="url(#g17)"/><rect x="596" y="13" width="1" height="417" fill="url(#g18)"/><rect x="597" y="13" width="1" height="417" fill="url(#g19)"/><rect x="598" y="13" width="1" height="417" fill="url(#g20)"/><rect x="599" y="13" width="1" height="417" fill="url(#g21)"/><rect x="600" y="13" width="1" height="417" fill="url(#g22)"/><rect x="601" y="13" width="2" height="417" fill="url(#g23)"/><rect x="603" y="13" width="2" height="417" fill="url(#g24)"/><rect x="605" y="13" width="2" height="417" fill="url(#g25)"/><rect x="607" y="13" width="2" height="417" fill="url(#g26)"/><rect x="609" y="13" width="2" height="417" fill="url(#g27)"/><rect x="611" y="13" width="2" height="417" fill="url(#g28)"/><rect x="613" y="13" width="2" height="417" fill="url(#g29)"/><rect x="615" y="13" width="2" height="417" fill="url(#g30)"/><rect x="617" y="13" width="2" height="417" fill="url(#g31)"/><rect x="619" y="13" width="2" height="417" fill="url(#g32)"/><rect x="621" y="13" width="2" height="417" fill="url(#g33)"/><rect x="623" y="13" width="2" height="417" fill="url(#g34)"/><rect x="625" y="13" width="2" height="417" fill="url(#g35)"/><rect x="627" y="13" width="2" height="417" fill="url(#g36)"/><rect x="629" y="13" width="2" height="417" fill="url(#g37)"/><rect x="631" y="13" width="2" height="417" fill="url(#g38)"/><rect x="633" y="13" width="2" height="417" fill="url(#g39)"/><rect x="635" y="13" width="2" height="417" fill="url(#g40)"/><rect x="637" y="13" width="2" height="417" fill="url(#g41)"/><rect x="639" y="13" width="2" height="417" fill="url(#g42)"/><rect x="641" y="13" width="2" height="417" fill="url(#g43)"/><rect x="643" y="13" width="2" height="417" fill="url(#g44)"/><rect x="645" y="13" width="2" height="417" fill="url(#g45)"/><rect x="647" y="13" width="2" height="417" fill="url(#g46)"/><rect x="649" y="13" width="2" height="417" fill="url(#g47)"/><rect x="651" y="13" width="2" height="417" fill="url(#g48)"/><rect x="653" y="13" width="2" height="417" fill="url(#g49)"/><rect x="655" y="13" width="2" height="417" fill="url(#g50)"/><rect x="657" y="13" width="2" height="417" fill="url(#g51)"/><rect x="659" y="13" width="2" height="417" fill="url(#g52)"/><rect x="661" y="13" width="2" height="417" fill="url(#g53)"/><rect x="663" y="13" width="2" height="417" fill="url(#g54)"/><rect x="665" y="13" width="2" height="417" fill="url(#g55)"/><rect x="667" y="13" width="2" height="417" fill="url(#g56)"/><rect x="669" y="13" width="2" height="417" fill="url(#g57)"/><rect x="671" y="13" width="2" height="417" fill="url(#g58)"/><rect x="673" y="13" width="2" height="417" fill="url(#g59)"/><rect x="675" y="13" width="2" height="417" fill="url(#g60)"/><rect x="677" y="13" width="2" height="417" fill="url(#g61)"/><rect x="679" y="13" width="2" height="417" fill="url(#g62)"/><rect x="681" y="13" width="2" height="417" fill="url(#g63)"/><rect x="683" y="13" width="2" height="417" fill="url(#g64)"/><rect x="685" y="13" width="2" height="417" fill="url(#g65)"/><rect x="687" y="13" width="2" height="417" fill="url(#g66)"/><rect x="689" y="13" width="2" height="417" fill="url(#g67)"/><rect x="691" y="13" width="2" height="417" fill="url(#g68)"/><rect x="693" y="13" width="2" height="417" fill="url(#g69)"/><rect x="695" y="13" width="2" height="417" fill="url(#g70)"/><rect x="697" y="13" width="2" height="417" fill="url(#g71)"/><rect x="699" y="13" width="2" height="417" fill="url(#g72)"/><rect x="701" y="13" width="2" height="417" fill="url(#g73)"/><rect x="703" y="13" width="2" height="417" fill="url(#g74)"/><rect x="705" y="13" width="2" height="417" fill="url(#g75)"/><rect x="707" y="13" width="2" height="417" fill="url(#g76)"/><rect x="709" y="13" width="2" height="417" fill="url(#g77)"/><rect x="711" y="13" width="2" height="417" fill="url(#g78)"/><rect x="713" y="13" width="2" height="417" fill="url(#g79)"/><rect x="715" y="13" width="2" height="417" fill="url(#g80)"/><rect x="717" y="13" width="2" height="417" fill="url(#g81)"/><rect x="719" y="13" width="2" height="417" fill="url(#g82)"/><rect x="721" y="13" width="2" height="417" fill="url(#g83)"/><rect x="723" y="13" width="2" height="417" fill="url(#g84)"/><rect x="725" y="13" width="2" height="417" fill="url(#g85)"/><rect x="727" y="13" width="2" height="417" fill="url(#g86)"/><rect x="729" y="13" width="2" height="417" fill="url(#g87)"/><rect x="731" y="13" width="2" height="417" fill="url(#g88)"/><rect x="733" y="13" width="2" height="417" fill="url(#g89)"/><rect x="735" y="13" width="2" height="417" fill="url(#g90)"/><rect x="737" y="13" width="2" height="417" fill="url(#g91)"/><rect x="739" y="13" width="2" height="417" fill="url(#g92)"/><rect x="741" y="13" width="2" height="417" fill="url(#g93)"/><rect x="743" y="13" width="2" height="417" fill="url(#g94)"/><rect x="745" y="13" width="2" height="417" fill="url(#g95)"/><rect x="747" y="13" width="2" height="417" fill="url(#g96)"/><rect x="749" y="13" width="2" height="417" fill="url(#g97)"/><rect x="751" y="13" width="2" height="417" fill="url(#g98)"/><rect x="753" y="13" width="2" height="417" fill="url(#g99)"/><rect x="755" y="13" width="2" height="417" fill="url(#g100)"/><rect x="757" y="13" width="2" height="417" fill="url(#g101)"/><rect x="759" y="13" width="2" height="417" fill="url(#g102)"/><rect x="761" y="13" width="2" height="417" fill="url(#g103)"/><rect x="763" y="13" width="2" height="417" fill="url(#g104)"/><rect x="765" y="13" width="2" height="417" fill="url(#g105)"/><rect x="767" y="13" width="2" height="417" fill="url(#g106)"/><rect x="769" y="13" width="2" height="417" fill="url(#g107)"/><rect x="771" y="13" width="2" height="417" fill="url(#g108)"/><rect x="773" y="13" width="2" height="417" fill="url(#g109)"/><rect x="775" y="13" width="2" height="417" fill="url(#g110)"/><rect x="777" y="13" width="2" height="417" fill="url(#g111)"/><rect x="779" y="13" width="2" height="417" fill="url(#g112)"/><rect x="781" y="13" width="2" height="417" fill="url(#g113)"/><rect x="783" y="13" width="2" height="417" fill="url(#g114)"/><rect x="785" y="13" width="2" height="417" fill="url(#g115)"/><rect x="787" y="13" width="2" height="417" fill="url(#g116)"/><rect x="789" y="13" width="2" height="417" fill="url(#g117)"/><rect x="791" y="13" width="2" height="417" fill="url(#g118)"/><rect x="793" y="13" width="2" height="417" fill="url(#g119)"/><rect x="795" y="13" width="1" height="417" fill="url(#g120)"/><rect x="796" y="13" width="1" height="417" fill="url(#g121)"/><rect x="797" y="13" width="1" height="417" fill="url(#g122)"/><rect x="798" y="13" width="1" height="417" fill="url(#g123)"/><rect x="799" y="13" width="1" height="417" fill="url(#g124)"/><rect x="800" y="13" width="1" height="417" fill="url(#g125)"/><rect x="801" y="13" width="1" height="417" fill="url(#g126)"/><rect x="802" y="13" width="1" height="417" fill="url(#g127)"/><rect x="803" y="13" width="1" height="417" fill="url(#g128)"/><rect x="804" y="13" width="1" height="417" fill="url(#g129)"/><rect x="805" y="13" width="1" height="417" fill="url(#g130)"/><rect x="806" y="13" width="1" height="417" fill="url(#g131)"/><rect x="807" y="13" width="1" height="417" fill="url(#g132)"/><rect x="808" y="13" width="1" height="417" fill="url(#g133)"/><rect x="809" y="13" width="1" height="417" fill="url(#g134)"/><rect x="810" y="13" width="1" height="417" fill="url(#g135)"/><rect x="811" y="13" width="1" height="417" fill="url(#g136)"/><rect x="812" y="13" width="1" height="417" fill="url(#g137)"/><rect x="813" y="13" width="1" height="417" fill="url(#g138)"/><rect x="814" y="13" width="1" height="417" fill="url(#g139)"/><rect x="815" y="13" width="1" height="417" fill="url(#g140)"/><rect x="816" y="13" width="1" height="417" fill="url(#g141)"/></g><clipPath id="hc"><rect x="578" y="11" width="239.5" height="421.5"/></clipPath><g clip-path="url(#hc)" fill="none" stroke="#000" stroke-width="4" stroke-linejoin="round"><path d="M579.2,-37.3 L579.6,-34.6 L579.9,-31.9 L580.3,-29.3 L580.7,-26.6 L581.1,-24.0 L581.4,-21.3 L581.8,-18.7 L582.2,-16.0 L582.6,-13.4 L583.0,-10.8 L583.3,-8.0 L583.7,-5.2 L584.1,-2.5 L584.5,0.3 L584.9,3.0 L585.2,5.6 L585.6,8.0 L586.0,10.3 L586.4,12.4 L586.7,14.3 L587.1,16.1 L587.5,17.8 L587.9,19.5 L588.3,21.1 L588.6,22.8 L589.0,24.5 L589.4,26.3 L589.8,28.0 L590.2,29.7 L590.5,31.4 L590.9,33.1 L591.3,34.6 L591.7,36.2 L592.0,37.6 L592.4,39.1 L592.8,40.5 L593.2,41.8 L593.6,43.2 L593.9,44.5 L594.3,45.8 L594.7,47.1 L595.1,48.4 L595.4,49.7 L595.8,51.0 L596.2,52.3 L596.6,53.6 L597.0,54.9 L597.3,56.2 L597.7,57.4 L598.1,58.5 L598.5,59.6 L598.9,60.6 L599.2,61.5 L599.6,62.4 L600.0,63.3 L600.4,64.1 L600.7,65.0 L601.1,65.7 L601.5,66.5 L604.0,71.2 L606.4,75.6 L608.9,79.8 L611.3,83.0 L613.8,85.5 L616.3,87.6 L618.7,89.4 L621.2,91.1 L623.7,92.6 L626.1,93.9 L628.6,94.9 L631.0,95.7 L633.5,96.5 L636.0,97.2 L638.4,97.9 L640.9,98.7 L643.3,99.4 L645.8,100.1 L648.3,100.8 L650.7,101.4 L653.2,102.0 L655.7,102.5 L658.1,103.0 L660.6,103.3 L663.0,103.7 L665.5,104.0 L668.0,104.3 L670.4,104.6 L672.9,104.8 L675.3,105.0 L677.8,105.1 L680.3,105.3 L682.7,105.4 L685.2,105.4 L687.7,105.5 L690.1,105.6 L692.6,105.6 L695.0,105.7 L697.5,105.7 L700.0,105.7 L702.4,105.6 L704.9,105.6 L707.3,105.5 L709.8,105.4 L712.3,105.4 L714.7,105.3 L717.2,105.1 L719.7,105.0 L722.1,104.8 L724.6,104.6 L727.0,104.3 L729.5,104.0 L732.0,103.7 L734.4,103.3 L736.9,103.0 L739.3,102.5 L741.8,102.0 L744.3,101.4 L746.7,100.8 L749.2,100.1 L751.7,99.4 L754.1,98.7 L756.6,97.9 L759.0,97.2 L761.5,96.5 L764.0,95.7 L766.4,94.9 L768.9,93.9 L771.3,92.6 L773.8,91.1 L776.3,89.4 L778.7,87.6 L781.2,85.5 L783.7,83.0 L786.1,79.8 L788.6,75.6 L791.0,71.2 L793.5,66.5 L793.9,65.7 L794.3,65.0 L794.6,64.1 L795.0,63.3 L795.4,62.4 L795.8,61.5 L796.1,60.6 L796.5,59.6 L796.9,58.5 L797.3,57.4 L797.7,56.2 L798.0,54.9 L798.4,53.6 L798.8,52.3 L799.2,51.0 L799.6,49.7 L799.9,48.4 L800.3,47.1 L800.7,45.8 L801.1,44.5 L801.4,43.2 L801.8,41.8 L802.2,40.5 L802.6,39.1 L803.0,37.6 L803.3,36.2 L803.7,34.6 L804.1,33.1 L804.5,31.4 L804.8,29.7 L805.2,28.0 L805.6,26.3 L806.0,24.5 L806.4,22.8 L806.7,21.1 L807.1,19.5 L807.5,17.8 L807.9,16.1 L808.3,14.3 L808.6,12.4 L809.0,10.3 L809.4,8.0 L809.8,5.6 L810.1,3.0 L810.5,0.3 L810.9,-2.5 L811.3,-5.2 L811.7,-8.0 L812.0,-10.8 L812.4,-13.4 L812.8,-16.0 L813.2,-18.7 L813.6,-21.3 L813.9,-24.0 L814.3,-26.6 L814.7,-29.3 L815.1,-31.9 L815.4,-34.6 L815.8,-37.3"/><path d="M579.2,383.2 L579.6,385.9 L579.9,388.6 L580.3,391.2 L580.7,393.9 L581.1,396.5 L581.4,399.2 L581.8,401.8 L582.2,404.5 L582.6,407.1 L583.0,409.7 L583.3,412.5 L583.7,415.3 L584.1,418.0 L584.5,420.8 L584.9,423.5 L585.2,426.1 L585.6,428.5 L586.0,430.8 L586.4,432.9 L586.7,434.8 L587.1,436.6 L587.5,438.3 L587.9,440.0 L588.3,441.6 L588.6,443.3 L589.0,445.0 L589.4,446.8 L589.8,448.5 L590.2,450.2 L590.5,451.9 L590.9,453.6 L591.3,455.1 L591.7,456.7 L592.0,458.1 L592.4,459.6 L592.8,461.0 L593.2,462.3 L593.6,463.7 L593.9,465.0 L594.3,466.3 L594.7,467.6 L595.1,468.9 L595.4,470.2 L595.8,471.5 L596.2,472.8 L596.6,474.1 L597.0,475.4 L597.3,476.7 L597.7,477.9 L598.1,479.0 L598.5,480.1 L598.9,481.1 L599.2,482.0 L599.6,482.9 L600.0,483.8 L600.4,484.6 L600.7,485.5 L601.1,486.2 L601.5,487.0 L604.0,491.7 L606.4,496.1 L608.9,500.3 L611.3,503.5 L613.8,506.0 L616.3,508.1 L618.7,509.9 L621.2,511.6 L623.7,513.1 L626.1,514.4 L628.6,515.4 L631.0,516.2 L633.5,517.0 L636.0,517.7 L638.4,518.4 L640.9,519.2 L643.3,519.9 L645.8,520.6 L648.3,521.3 L650.7,521.9 L653.2,522.5 L655.7,523.0 L658.1,523.5 L660.6,523.8 L663.0,524.2 L665.5,524.5 L668.0,524.8 L670.4,525.1 L672.9,525.3 L675.3,525.5 L677.8,525.6 L680.3,525.8 L682.7,525.9 L685.2,525.9 L687.7,526.0 L690.1,526.1 L692.6,526.1 L695.0,526.2 L697.5,526.2 L700.0,526.2 L702.4,526.1 L704.9,526.1 L707.3,526.0 L709.8,525.9 L712.3,525.9 L714.7,525.8 L717.2,525.6 L719.7,525.5 L722.1,525.3 L724.6,525.1 L727.0,524.8 L729.5,524.5 L732.0,524.2 L734.4,523.8 L736.9,523.5 L739.3,523.0 L741.8,522.5 L744.3,521.9 L746.7,521.3 L749.2,520.6 L751.7,519.9 L754.1,519.2 L756.6,518.4 L759.0,517.7 L761.5,517.0 L764.0,516.2 L766.4,515.4 L768.9,514.4 L771.3,513.1 L773.8,511.6 L776.3,509.9 L778.7,508.1 L781.2,506.0 L783.7,503.5 L786.1,500.3 L788.6,496.1 L791.0,491.7 L793.5,487.0 L793.9,486.2 L794.3,485.5 L794.6,484.6 L795.0,483.8 L795.4,482.9 L795.8,482.0 L796.1,481.1 L796.5,480.1 L796.9,479.0 L797.3,477.9 L797.7,476.7 L798.0,475.4 L798.4,474.1 L798.8,472.8 L799.2,471.5 L799.6,470.2 L799.9,468.9 L800.3,467.6 L800.7,466.3 L801.1,465.0 L801.4,463.7 L801.8,462.3 L802.2,461.0 L802.6,459.6 L803.0,458.1 L803.3,456.7 L803.7,455.1 L804.1,453.6 L804.5,451.9 L804.8,450.2 L805.2,448.5 L805.6,446.8 L806.0,445.0 L806.4,443.3 L806.7,441.6 L807.1,440.0 L807.5,438.3 L807.9,436.6 L808.3,434.8 L808.6,432.9 L809.0,430.8 L809.4,428.5 L809.8,426.1 L810.1,423.5 L810.5,420.8 L810.9,418.0 L811.3,415.3 L811.7,412.5 L812.0,409.7 L812.4,407.1 L812.8,404.5 L813.2,401.8 L813.6,399.2 L813.9,396.5 L814.3,393.9 L814.7,391.2 L815.1,388.6 L815.4,385.9 L815.8,383.2"/></g><clipPath id="hp"><path d="M601.5,105.5 L607.6,110.0 L620.3,113.8 L633.0,116.7 L645.6,118.6 L658.3,119.8 L670.9,120.5 L683.6,121.0 L697.5,121.4 L720.3,120.8 L745.6,118.9 L758.3,117.2 L770.9,115.1 L783.6,111.7 L788.6,109.6 L794.0,105.5 L794.0,124.6 L783.6,127.3 L770.9,129.6 L745.6,132.2 L720.3,133.4 L697.5,133.5 L670.9,133.2 L645.6,131.9 L620.3,129.0 L601.6,124.6Z"/></clipPath><path d="M582.0,90L632.0,140M600.5,90L650.5,140M619.0,90L669.0,140M637.5,90L687.5,140M656.0,90L706.0,140M674.5,90L724.5,140M693.0,90L743.0,140M711.5,90L761.5,140M730.0,90L780.0,140M748.5,90L798.5,140M767.0,90L817.0,140" clip-path="url(#hp)" stroke="#000" stroke-width="1.8" fill="none"/><path d="M601.5,105.5 L607.6,110.0 L620.3,113.8 L633.0,116.7 L645.6,118.6 L658.3,119.8 L670.9,120.5 L683.6,121.0 L697.5,121.4 L720.3,120.8 L745.6,118.9 L758.3,117.2 L770.9,115.1 L783.6,111.7 L788.6,109.6 L794.0,105.5 L794.0,124.6 L783.6,127.3 L770.9,129.6 L745.6,132.2 L720.3,133.4 L697.5,133.5 L670.9,133.2 L645.6,131.9 L620.3,129.0 L601.6,124.6Z" fill="none" stroke="#000" stroke-width="1.8" stroke-linejoin="miter"/><rect x="577.5" y="11.2" width="239.79999999999995" height="421.1" fill="none" stroke="#000" stroke-width="1.6"/><path d="M577.5,116.6h9 M817.5,116.6h-9" stroke="#000" stroke-width="1.6"/><path d="M577.5,221.8h9 M817.5,221.8h-9" stroke="#000" stroke-width="1.6"/><path d="M577.5,326.9h9 M817.5,326.9h-9" stroke="#000" stroke-width="1.6"/><path d="M557,523.6H628.5 M615.4,519.2L628.9,523.6L615.4,528" fill="none" stroke="#000" stroke-width="1.4"/><rect x="639" y="514" width="179" height="20.3" fill="url(#cb)" stroke="#000" stroke-width="1.3"/><path d="M728.4,514v7 M728.4,534.3v-7" stroke="#000" stroke-width="1.6"/><clipPath id="ca"><rect x="87.2" y="11.85" width="336.90000000000003" height="198.75"/></clipPath><g clip-path="url(#ca)" fill="none" stroke-linejoin="round"><path d="M87.2,79.7 L93.2,82.0 L99.1,84.2 L105.0,86.4 L110.8,88.5 L116.5,90.6 L122.2,92.6 L127.8,94.6 L133.4,96.5 L138.8,98.4 L144.2,100.2 L149.6,102.0 L154.8,103.8 L160.0,105.5 L165.1,107.1 L170.2,108.7 L175.2,110.3 L180.1,111.8 L184.9,113.3 L189.7,114.8 L194.4,116.2 L199.0,117.5 L203.5,118.9 L208.0,120.2 L212.3,121.4 L216.7,122.6 L220.9,123.8 L225.0,124.9 L229.1,126.0 L233.1,127.0 L237.0,128.0 L240.8,129.0 L244.5,129.9 L248.2,130.8 L251.7,131.7 L255.2,132.5 L258.6,133.3 L261.9,134.1 L265.1,134.8 L268.2,135.5 L271.2,136.2 L274.1,136.8 L276.9,137.4 L279.6,137.9 L282.2,138.5 L284.7,138.9 L287.1,139.4 L289.3,139.8 L291.5,140.2 L293.5,140.6 L295.4,141.0 L297.2,141.3 L298.9,141.5 L300.4,141.8 L301.8,142.0 L303.1,142.2 L304.2,142.4 L305.2,142.5 L306.0,142.7 L306.6,142.7 L306.7,142.8 L306.8,142.8 L306.8,142.8 L306.9,142.8 L306.9,142.8 L307.0,142.8 L307.0,142.8 L307.1,142.8 L307.1,142.8 L307.1,142.8 L307.2,142.8 L307.2,142.8 L307.3,142.8 L307.3,142.8 L307.3,142.8 L307.3,142.8 L307.4,142.8 L307.4,142.8 L307.4,142.9 L307.4,142.9 L307.5,142.9 L307.5,142.9 L307.5,142.9 L307.5,142.9 L307.5,142.9 L307.5,142.9 L307.5,142.9 L307.5,142.9 L307.5,142.9 L307.5,142.9 L311.1,140.6 L314.7,138.4 L318.1,136.2 L321.6,134.1 L324.9,132.0 L328.3,130.0 L331.5,128.0 L334.7,126.1 L337.9,124.2 L341.0,122.4 L344.0,120.6 L347.0,118.8 L350.0,117.1 L352.8,115.5 L355.7,113.9 L358.4,112.3 L361.1,110.8 L363.8,109.3 L366.4,107.8 L368.9,106.4 L371.4,105.1 L373.9,103.7 L376.2,102.4 L378.5,101.2 L380.8,100.0 L383.0,98.8 L385.2,97.7 L387.2,96.6 L389.3,95.6 L391.3,94.6 L393.2,93.6 L395.0,92.7 L396.8,91.8 L398.6,90.9 L400.3,90.1 L401.9,89.3 L403.5,88.5 L405.0,87.8 L406.4,87.1 L407.8,86.4 L409.1,85.8 L410.4,85.2 L411.6,84.7 L412.8,84.1 L413.9,83.7 L414.9,83.2 L415.9,82.8 L416.8,82.4 L417.7,82.0 L418.4,81.6 L419.2,81.3 L419.8,81.1 L420.5,80.8 L421.0,80.6 L421.5,80.4 L421.9,80.2 L422.3,80.1 L422.6,79.9 L422.8,79.9 L422.8,79.8 L422.8,79.8 L422.9,79.8 L422.9,79.8 L422.9,79.8 L422.9,79.8 L422.9,79.8 L422.9,79.8 L423.0,79.8 L423.0,79.8 L423.0,79.8 L423.0,79.8 L423.0,79.8 L423.0,79.8 L423.0,79.8 L423.0,79.8 L423.0,79.8 L423.1,79.8 L423.1,79.7 L423.1,79.7 L423.1,79.7 L423.1,79.7 L423.1,79.7 L423.1,79.7 L423.1,79.7 L423.1,79.7 L423.1,79.7 L423.1,79.7 L423.1,79.7" stroke="#808080" stroke-width="3"/><path d="M87.2,206.0 L93.2,205.2 L99.1,204.5 L105.0,203.7 L110.8,203.0 L116.5,202.2 L122.2,201.4 L127.8,200.7 L133.4,199.9 L138.8,199.1 L144.2,198.4 L149.6,197.6 L154.8,196.9 L160.0,196.1 L165.1,195.3 L170.2,194.6 L175.2,193.8 L180.1,193.0 L184.9,192.3 L189.7,191.5 L194.4,190.8 L199.0,190.0 L203.5,189.2 L208.0,188.5 L212.3,187.7 L216.7,186.9 L220.9,186.2 L225.0,185.4 L229.1,184.7 L233.1,183.9 L237.0,183.1 L240.8,182.4 L244.5,181.6 L248.2,180.8 L251.7,180.1 L255.2,179.3 L258.6,178.6 L261.9,177.8 L265.1,177.0 L268.2,176.3 L271.2,175.5 L274.1,174.7 L276.9,174.0 L279.6,173.2 L282.2,172.5 L284.7,171.7 L287.1,170.9 L289.3,170.2 L291.5,169.4 L293.5,168.6 L295.4,167.9 L297.2,167.1 L298.9,166.4 L300.4,165.6 L301.8,164.8 L303.1,164.1 L304.2,163.3 L305.2,162.5 L306.0,161.8 L306.6,161.0 L306.7,160.9 L306.8,160.9 L306.8,160.8 L306.9,160.7 L306.9,160.6 L307.0,160.5 L307.0,160.4 L307.1,160.4 L307.1,160.3 L307.1,160.2 L307.2,160.1 L307.2,160.0 L307.3,160.0 L307.3,159.9 L307.3,159.8 L307.3,159.7 L307.4,159.6 L307.4,159.5 L307.4,159.5 L307.4,159.4 L307.5,159.3 L307.5,159.2 L307.5,159.1 L307.5,159.1 L307.5,159.0 L307.5,158.9 L307.5,158.8 L307.5,158.7 L307.5,158.7 L307.5,16.6 L307.5,16.6 L311.1,17.4 L314.7,18.1 L318.1,18.9 L321.6,19.6 L324.9,20.4 L328.3,21.2 L331.5,21.9 L334.7,22.7 L337.9,23.5 L341.0,24.2 L344.0,25.0 L347.0,25.7 L350.0,26.5 L352.8,27.3 L355.7,28.0 L358.4,28.8 L361.1,29.6 L363.8,30.3 L366.4,31.1 L368.9,31.8 L371.4,32.6 L373.9,33.4 L376.2,34.1 L378.5,34.9 L380.8,35.7 L383.0,36.4 L385.2,37.2 L387.2,37.9 L389.3,38.7 L391.3,39.5 L393.2,40.2 L395.0,41.0 L396.8,41.8 L398.6,42.5 L400.3,43.3 L401.9,44.0 L403.5,44.8 L405.0,45.6 L406.4,46.3 L407.8,47.1 L409.1,47.9 L410.4,48.6 L411.6,49.4 L412.8,50.1 L413.9,50.9 L414.9,51.7 L415.9,52.4 L416.8,53.2 L417.7,54.0 L418.4,54.7 L419.2,55.5 L419.8,56.2 L420.5,57.0 L421.0,57.8 L421.5,58.5 L421.9,59.3 L422.3,60.1 L422.6,60.8 L422.8,61.6 L422.8,61.7 L422.8,61.7 L422.9,61.8 L422.9,61.9 L422.9,62.0 L422.9,62.1 L422.9,62.2 L422.9,62.2 L423.0,62.3 L423.0,62.4 L423.0,62.5 L423.0,62.6 L423.0,62.6 L423.0,62.7 L423.0,62.8 L423.0,62.9 L423.0,63.0 L423.1,63.1 L423.1,63.1 L423.1,63.2 L423.1,63.3 L423.1,63.4 L423.1,63.5 L423.1,63.5 L423.1,63.6 L423.1,63.7 L423.1,63.8 L423.1,63.9 L423.1,63.9" stroke="#000" stroke-width="3.3"/></g><rect x="87.2" y="11.85" width="335.90000000000003" height="198.75" fill="none" stroke="#000" stroke-width="1.6"/><path d="M87.2,16.6h7.3M423.1,16.6h-7.3M87.2,63.9h7.3M423.1,63.9h-7.3M87.2,111.3h7.3M423.1,111.3h-7.3M87.2,158.7h7.3M423.1,158.7h-7.3M87.2,206.0h7.3M423.1,206.0h-7.3M307.5,11.85v7M307.5,210.6v-7" stroke="#000" stroke-width="1.5" fill="none"/><g fill="none" stroke-linejoin="miter"><path d="M87.6,372.3 L89.3,371.1 L91.0,370.0 L92.7,369.0 L94.4,368.0 L96.0,367.1 L97.7,366.2 L99.4,365.3 L101.1,364.6 L102.8,363.8 L104.5,363.2 L106.2,362.5 L107.9,362.0 L109.5,361.5 L111.2,361.0 L112.9,360.6 L114.6,360.3 L116.3,360.0 L118.0,359.8 L119.7,359.7 L121.4,359.6 L123.0,359.5 L124.7,359.6 L126.4,359.7 L128.1,359.8 L129.8,360.0 L131.5,360.3 L133.2,360.6 L134.9,361.0 L136.6,361.4 L138.2,361.9 L139.9,362.4 L141.6,363.1 L143.3,363.7 L145.0,364.4 L146.7,365.2 L148.4,366.0 L150.1,366.9 L151.7,367.9 L153.4,368.8 L155.1,369.9 L156.8,371.0 L158.5,372.1 L160.2,373.3 L161.9,374.5 L163.6,375.8 L165.2,377.1 L166.9,378.4 L168.6,379.8 L170.3,381.3 L172.0,382.7 L173.7,384.3 L175.4,385.8 L177.1,387.4 L178.7,389.0 L180.4,390.6 L182.1,392.3 L183.8,394.0 L185.5,395.7 L187.2,397.4 L188.9,399.2 L190.6,401.0 L192.3,402.8 L193.9,404.6 L195.6,406.5 L197.3,408.3 L199.0,410.2 L200.7,412.0 L202.4,413.9 L204.1,415.8 L205.8,417.7 L207.4,419.5 L209.1,421.4 L210.8,423.3 L212.5,425.2 L214.2,427.1 L215.9,428.9 L217.6,430.8 L219.3,432.6 L220.9,434.4 L222.6,436.3 L224.3,438.1 L226.0,439.8 L227.7,441.6 L229.4,443.3 L231.1,445.0 L232.8,446.7 L234.5,448.4 L236.1,450.0 L237.8,451.6 L239.5,453.2 L241.2,454.7 L242.9,456.2 L244.6,457.7 L246.3,459.1 L248.0,460.5 L249.6,461.8 L251.3,463.1 L253.0,464.4 L254.7,465.6 L256.4,466.7 L258.1,467.8 L259.8,468.9 L261.5,469.9 L263.1,470.9 L264.8,471.8 L266.5,472.7 L268.2,473.5 L269.9,474.2 L271.6,474.9 L273.3,475.6 L275.0,476.2 L276.6,476.7 L278.3,477.2 L280.0,477.6 L281.7,478.0 L283.4,478.3 L285.1,478.5 L286.8,478.7 L288.5,478.8 L290.2,478.9 L291.8,478.9 L293.5,478.8 L295.2,478.7 L296.9,478.5 L298.6,478.3 L300.3,478.0 L302.0,477.7 L303.7,477.2 L305.3,476.8 L307.0,476.3 L308.7,475.7 L310.4,475.0 L312.1,474.3 L313.8,473.6 L315.5,472.8 L317.2,471.9 L318.8,471.0 L320.5,470.1 L322.2,469.1 L323.9,468.0 L325.6,466.9 L327.3,465.7 L329.0,464.5 L330.7,463.3 L332.4,462.0 L334.0,460.7 L335.7,459.3 L337.4,457.9 L339.1,456.4 L340.8,454.9 L342.5,453.4 L344.2,451.8 L345.9,450.2 L347.5,448.6 L349.2,447.0 L350.9,445.3 L352.6,443.6 L354.3,441.8 L356.0,440.1 L357.7,438.3 L359.4,436.5 L361.0,434.7 L362.7,432.9 L364.4,431.0 L366.1,429.2 L367.8,427.3 L369.5,425.5 L371.2,423.6 L372.9,421.7 L374.5,419.8 L376.2,417.9 L377.9,416.1 L379.6,414.2 L381.3,412.3 L383.0,410.4 L384.7,408.6 L386.4,406.7 L388.1,404.9 L389.7,403.1 L391.4,401.3 L393.1,399.5 L394.8,397.7 L396.5,396.0 L398.2,394.2 L399.9,392.5 L401.6,390.9 L403.2,389.2 L404.9,387.6 L406.6,386.0 L408.3,384.5 L410.0,383.0 L411.7,381.5 L413.4,380.0 L415.1,378.6 L416.7,377.3 L418.4,376.0 L420.1,374.7 L421.8,373.5 L423.5,372.3" stroke="#0000ff" stroke-width="3" stroke-dasharray="25.5 9"/><path d="M87.6,336.4 L90.6,337.3 L93.5,338.2 L96.5,339.3 L99.4,340.5 L102.4,341.8 L105.3,343.2 L108.3,344.7 L111.3,346.2 L114.2,347.9 L117.2,349.7 L120.1,351.5 L123.1,353.4 L126.0,355.4 L129.0,357.5 L132.0,359.7 L134.9,361.9 L137.9,364.2 L140.8,366.6 L143.8,369.0 L146.8,371.4 L149.7,374.0 L152.7,376.6 L155.6,379.2 L158.6,381.9 L161.5,384.6 L164.5,387.4 L167.5,390.2 L170.4,393.0 L173.4,395.9 L176.3,398.8 L179.3,401.7 L182.2,404.7 L185.2,407.7 L188.2,410.6 L191.1,413.6 L194.1,416.7 L197.0,419.7 L200.0,422.7 L202.9,425.7 L202.9,434.3 L205.6,435.0 L208.3,435.7 L211.0,436.4 L213.6,437.2 L216.3,437.9 L219.0,438.7 L221.6,439.5 L224.3,440.3 L227.0,441.1 L229.7,442.0 L232.3,442.8 L235.0,443.7 L237.7,444.6 L240.3,445.5 L243.0,446.4 L245.7,447.4 L248.4,448.3 L251.0,449.3 L253.7,450.3 L256.4,451.3 L259.0,452.4 L261.7,453.4 L264.4,454.5 L267.0,455.6 L269.7,456.7 L272.4,457.9 L275.1,459.0 L277.7,460.2 L280.4,461.4 L283.1,462.6 L285.7,463.8 L288.4,465.0 L291.1,466.3 L293.8,467.6 L296.4,468.9 L299.1,470.2 L301.8,471.5 L304.4,472.9 L307.1,474.3 L307.1,490.6 L310.1,488.9 L313.1,487.2 L316.1,485.4 L319.0,483.5 L322.0,481.5 L325.0,479.4 L328.0,477.2 L331.0,475.0 L334.0,472.6 L337.0,470.2 L339.9,467.6 L342.9,465.0 L345.9,462.3 L348.9,459.5 L351.9,456.5 L354.9,453.5 L357.8,450.5 L360.8,447.3 L363.8,444.0 L366.8,440.6 L369.8,437.2 L372.8,433.6 L375.8,430.0 L378.7,426.3 L381.7,422.5 L384.7,418.6 L387.7,414.6 L390.7,410.5 L393.7,406.3 L396.6,402.0 L399.6,397.6 L402.6,393.2 L405.6,388.6 L408.6,384.0 L411.6,379.3 L414.5,374.4 L417.5,369.5 L420.5,364.5 L423.5,359.4 L423.5,336.3" stroke="#ff0000" stroke-width="2.8"/></g><rect x="87.4" y="329.3" width="335.70000000000005" height="198.55" fill="none" stroke="#000" stroke-width="1.6"/><path d="M87.4,349.1h7.3M423.1,349.1h-7.3M87.4,388.9h7.3M423.1,388.9h-7.3M87.4,428.6h7.3M423.1,428.6h-7.3M87.4,468.3h7.3M423.1,468.3h-7.3M87.4,508.1h7.3M423.1,508.1h-7.3" stroke="#000" stroke-width="1.5" fill="none"/><g opacity="0.999"><text x="469.37" y="27.8" font-size="32.5" style="font-family:&quot;Liberation Serif&quot;" font-style="normal">(c)</text><text transform="translate(535.25,22.2) scale(1.04,1.0)" font-size="32.5" style="font-family:&quot;Liberation Serif&quot;" font-style="normal">π</text><text x="511.90" y="127.0" font-size="32.5" style="font-family:&quot;Liberation Serif&quot;" font-style="normal">π/2</text><text x="536.99" y="233.2" font-size="32.5" style="font-family:&quot;Liberation Serif&quot;" font-style="normal">0</text><text x="501.18" y="337.8" font-size="32.5" style="font-family:&quot;Liberation Serif&quot;" font-style="normal">-π/2</text><text x="525.16" y="443.6" font-size="32.5" style="font-family:&quot;Liberation Serif&quot;" font-style="normal">-π</text><text x="563.79" y="486.2" font-size="32.5" style="font-family:&quot;Liberation Serif&quot;" font-style="normal">-1</text><text x="688.00" y="486.2" font-size="32.5" style="font-family:&quot;Liberation Serif&quot;" font-style="italic">a</text><text x="808.62" y="486.2" font-size="32.5" style="font-family:&quot;Liberation Serif&quot;" font-style="normal">1</text><text transform="translate(528.99,532.8) scale(1.3,1.12)" font-size="32.5" style="font-family:&quot;Liberation Serif&quot;" font-style="normal">α</text><text transform="translate(625.35,576.0) scale(1.04,1.0)" font-size="32.5" style="font-family:&quot;Liberation Serif&quot;" font-style="normal">-π</text><text x="720.27" y="576.0" font-size="32.5" style="font-family:&quot;Liberation Serif&quot;" font-style="normal">0</text><text transform="translate(809.70,576.0) scale(1.1,1.0)" font-size="32.5" style="font-family:&quot;Liberation Serif&quot;" font-style="normal">π</text><text font-size="32.5" font-family="Liberation Serif" text-anchor="middle" transform="translate(498.2,223.9) rotate(-90)">ϕ</text><text x="-0.23" y="26.6" font-size="32.5" style="font-family:&quot;Liberation Serif&quot;" font-style="normal">(a)</text><text x="52.14" y="27.7" font-size="32.5" style="font-family:&quot;Liberation Serif&quot;" font-style="normal">2</text><text x="51.89" y="122.3" font-size="32.5" style="font-family:&quot;Liberation Serif&quot;" font-style="normal">0</text><text x="41.52" y="217.0" font-size="32.5" style="font-family:&quot;Liberation Serif&quot;" font-style="normal">-2</text><text x="79.08" y="254.3" font-size="32.5" style="font-family:&quot;Liberation Serif&quot;" font-style="normal">0</text><text x="413.75" y="253.6" font-size="32.5" style="font-family:&quot;Liberation Serif&quot;" font-style="normal">T</text><text x="298.06" y="251.2" font-size="34" style="font-family:&quot;Liberation Sans&quot;" font-style="italic">t</text><text x="306.05" y="259.5" font-size="24.5" style="font-family:&quot;Liberation Serif&quot;" font-style="normal">1</text><text x="249.86" y="279.0" font-size="34" style="font-family:&quot;Liberation Sans&quot;" font-style="italic">t</text><text x="154.03" y="41.3" font-size="32.5" style="font-family:&quot;Liberation Serif&quot;" font-style="italic">a</text><text x="177.89" y="41.3" font-size="32.5" style="font-family:&quot;Liberation Serif&quot;" font-style="normal">= 0.5</text><text x="138.22" y="176.2" font-size="32.5" style="font-family:&quot;Liberation Serif&quot;" font-style="normal">U</text><text x="160.33" y="185.79999999999998" font-size="26" style="font-family:&quot;Liberation Serif&quot;" font-style="italic">a</text><text transform="translate(173.77,175.89999999999998) scale(1.0,0.95)" font-size="32.5" style="font-family:&quot;Liberation Serif&quot;" font-style="normal">(</text><text x="185.36" y="176.2" font-size="34" style="font-family:&quot;Liberation Sans&quot;" font-style="italic">t</text><text transform="translate(193.91,175.89999999999998) scale(1.0,0.95)" font-size="32.5" style="font-family:&quot;Liberation Serif&quot;" font-style="normal">)</text><text x="347.54" y="146.5" font-size="32.5" style="font-family:&quot;Liberation Serif&quot;" font-style="normal">V</text><text x="369.33" y="156.1" font-size="26" style="font-family:&quot;Liberation Serif&quot;" font-style="italic">a</text><text transform="translate(382.77,146.2) scale(1.0,0.95)" font-size="32.5" style="font-family:&quot;Liberation Serif&quot;" font-style="normal">(</text><text x="394.36" y="146.5" font-size="34" style="font-family:&quot;Liberation Sans&quot;" font-style="italic">t</text><text transform="translate(402.91,146.2) scale(1.0,0.95)" font-size="32.5" style="font-family:&quot;Liberation Serif&quot;" font-style="normal">)</text><g transform="translate(24.3,111.0) rotate(-90)" font-family="Liberation Serif" font-size="32.5"><text x="-46.4" y="0">U</text><text x="-23.5" y="9.8" font-size="26" font-style="italic">a</text><text x="-3.5" y="0">,</text><text x="13.0" y="0">V</text><text x="35.6" y="9.8" font-size="26" font-style="italic">a</text></g><text x="-0.03" y="351.2" font-size="32.5" style="font-family:&quot;Liberation Serif&quot;" font-style="normal">(b)</text><text x="52.34" y="359.9" font-size="32.5" style="font-family:&quot;Liberation Serif&quot;" font-style="normal">2</text><text x="51.89" y="439.6" font-size="32.5" style="font-family:&quot;Liberation Serif&quot;" font-style="normal">0</text><text x="41.52" y="518.9" font-size="32.5" style="font-family:&quot;Liberation Serif&quot;" font-style="normal">-2</text><text x="79.08" y="570.6" font-size="32.5" style="font-family:&quot;Liberation Serif&quot;" font-style="normal">0</text><text x="413.75" y="570.0" font-size="32.5" style="font-family:&quot;Liberation Serif&quot;" font-style="normal">T</text><text transform="translate(244.09,562.6) scale(1.17,0.9)" font-size="32.5" style="font-family:&quot;Liberation Serif&quot;" font-style="normal">ψ</text><text x="214.73" y="360.0" font-size="32.5" style="font-family:&quot;Liberation Serif&quot;" font-style="italic">a</text><text x="238.29" y="360.0" font-size="32.5" style="font-family:&quot;Liberation Serif&quot;" font-style="normal">= 0.5</text><text x="214.61" y="390.8" font-size="32.5" style="font-family:&quot;Liberation Serif&quot;" font-style="normal">ϕ = π/2 - 0.1</text><text font-size="32.5" font-family="Liberation Serif" text-anchor="middle" transform="translate(24.6,425.4) rotate(-90)">H(ψ)</text></g></svg></body></html>
